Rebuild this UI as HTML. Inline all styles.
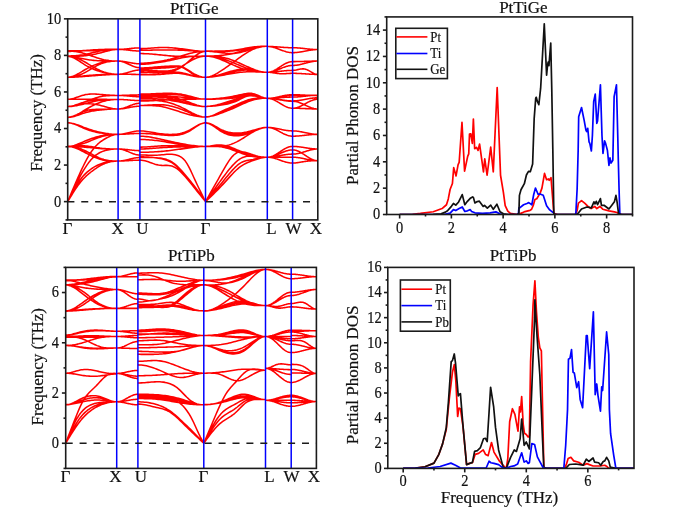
<!DOCTYPE html>
<html><head><meta charset="utf-8"><style>
html,body{margin:0;padding:0;background:#fff;width:685px;height:508px;overflow:hidden;font-family:"Liberation Serif",serif;}
svg{display:block;will-change:transform}
</style></head><body>
<svg width="685" height="508" viewBox="0 0 685 508">
<rect width="685" height="508" fill="#fff"/>
<path d="M67.70,51.02 68.99,51.02 70.28,51.01 71.58,51.00 72.87,50.98 74.16,50.96 75.45,50.93 76.75,50.90 78.04,50.87 79.33,50.84 80.62,50.80 81.92,50.75 83.21,50.71 84.50,50.66 85.79,50.61 87.08,50.55 88.38,50.50 89.67,50.44 90.96,50.38 92.25,50.32 93.55,50.26 94.84,50.19 96.13,50.13 97.42,50.06 98.72,49.99 100.01,49.93 101.30,49.87 102.59,49.81 103.88,49.75 105.18,49.69 106.47,49.64 107.76,49.59 109.05,49.54 110.35,49.50 111.64,49.46 112.93,49.43 114.22,49.41 115.52,49.39 116.81,49.38 118.10,49.37 M67.70,51.38 68.99,51.38 70.28,51.36 71.58,51.32 72.87,51.28 74.16,51.22 75.45,51.16 76.75,51.09 78.04,51.01 79.33,50.93 80.62,50.84 81.92,50.74 83.21,50.64 84.50,50.54 85.79,50.44 87.08,50.34 88.38,50.24 89.67,50.15 90.96,50.05 92.25,49.96 93.55,49.88 94.84,49.80 96.13,49.73 97.42,49.66 98.72,49.60 100.01,49.54 101.30,49.49 102.59,49.44 103.88,49.40 105.18,49.36 106.47,49.33 107.76,49.30 109.05,49.27 110.35,49.25 111.64,49.23 112.93,49.21 114.22,49.20 115.52,49.20 116.81,49.19 118.10,49.19 M67.70,50.84 68.99,50.84 70.28,50.84 71.58,50.84 72.87,50.85 74.16,50.85 75.45,50.86 76.75,50.86 78.04,50.86 79.33,50.86 80.62,50.86 81.92,50.86 83.21,50.85 84.50,50.84 85.79,50.83 87.08,50.81 88.38,50.78 89.67,50.75 90.96,50.72 92.25,50.68 93.55,50.63 94.84,50.57 96.13,50.51 97.42,50.44 98.72,50.37 100.01,50.30 101.30,50.23 102.59,50.15 103.88,50.08 105.18,50.00 106.47,49.93 107.76,49.86 109.05,49.80 110.35,49.74 111.64,49.69 112.93,49.64 114.22,49.61 115.52,49.58 116.81,49.56 118.10,49.56 M67.70,56.32 68.99,56.32 70.28,56.32 71.58,56.31 72.87,56.30 74.16,56.29 75.45,56.26 76.75,56.23 78.04,56.19 79.33,56.14 80.62,56.07 81.92,55.99 83.21,55.89 84.50,55.77 85.79,55.63 87.08,55.48 88.38,55.31 89.67,55.11 90.96,54.90 92.25,54.68 93.55,54.44 94.84,54.18 96.13,53.90 97.42,53.61 98.72,53.31 100.01,52.99 101.30,52.66 102.59,52.32 103.88,51.97 105.18,51.62 106.47,51.27 107.76,50.94 109.05,50.62 110.35,50.33 111.64,50.06 112.93,49.83 114.22,49.64 115.52,49.49 116.81,49.40 118.10,49.37 M67.70,55.95 68.99,55.95 70.28,55.92 71.58,55.88 72.87,55.82 74.16,55.75 75.45,55.66 76.75,55.55 78.04,55.42 79.33,55.27 80.62,55.11 81.92,54.92 83.21,54.72 84.50,54.49 85.79,54.24 87.08,53.98 88.38,53.70 89.67,53.41 90.96,53.12 92.25,52.81 93.55,52.51 94.84,52.21 96.13,51.91 97.42,51.62 98.72,51.34 100.01,51.08 101.30,50.84 102.59,50.61 103.88,50.40 105.18,50.22 106.47,50.05 107.76,49.91 109.05,49.78 110.35,49.67 111.64,49.58 112.93,49.50 114.22,49.44 115.52,49.40 116.81,49.38 118.10,49.37 M67.70,56.32 68.99,56.40 70.28,56.63 71.58,57.00 72.87,57.49 74.16,58.08 75.45,58.75 76.75,59.50 78.04,60.30 79.33,61.14 80.62,62.00 81.92,62.86 83.21,63.72 84.50,64.54 85.79,65.33 87.08,66.07 88.38,66.77 89.67,67.44 90.96,68.06 92.25,68.65 93.55,69.20 94.84,69.72 96.13,70.21 97.42,70.66 98.72,71.09 100.01,71.48 101.30,71.85 102.59,72.20 103.88,72.52 105.18,72.81 106.47,73.08 107.76,73.31 109.05,73.53 110.35,73.71 111.64,73.87 112.93,74.00 114.22,74.10 115.52,74.17 116.81,74.22 118.10,74.23 M67.70,55.95 68.99,56.00 70.28,56.14 71.58,56.35 72.87,56.65 74.16,57.02 75.45,57.45 76.75,57.94 78.04,58.49 79.33,59.08 80.62,59.71 81.92,60.38 83.21,61.08 84.50,61.80 85.79,62.54 87.08,63.29 88.38,64.05 89.67,64.81 90.96,65.57 92.25,66.32 93.55,67.06 94.84,67.78 96.13,68.48 97.42,69.15 98.72,69.78 100.01,70.38 101.30,70.94 102.59,71.45 103.88,71.91 105.18,72.33 106.47,72.71 107.76,73.04 109.05,73.33 110.35,73.57 111.64,73.78 112.93,73.94 114.22,74.07 115.52,74.16 116.81,74.21 118.10,74.23 M67.70,56.32 68.99,56.35 70.28,56.43 71.58,56.56 72.87,56.72 74.16,56.93 75.45,57.16 76.75,57.41 78.04,57.68 79.33,57.96 80.62,58.25 81.92,58.53 83.21,58.80 84.50,59.06 85.79,59.30 87.08,59.52 88.38,59.72 89.67,59.91 90.96,60.07 92.25,60.22 93.55,60.36 94.84,60.48 96.13,60.59 97.42,60.68 98.72,60.76 100.01,60.83 101.30,60.89 102.59,60.94 103.88,60.98 105.18,61.01 106.47,61.03 107.76,61.05 109.05,61.06 110.35,61.07 111.64,61.07 112.93,61.07 114.22,61.07 115.52,61.07 116.81,61.07 118.10,61.07 M67.70,77.15 68.99,77.09 70.28,76.90 71.58,76.59 72.87,76.18 74.16,75.69 75.45,75.12 76.75,74.49 78.04,73.80 79.33,73.07 80.62,72.32 81.92,71.56 83.21,70.79 84.50,70.03 85.79,69.29 87.08,68.57 88.38,67.88 89.67,67.22 90.96,66.58 92.25,65.98 93.55,65.40 94.84,64.86 96.13,64.36 97.42,63.89 98.72,63.46 100.01,63.07 101.30,62.72 102.59,62.41 103.88,62.14 105.18,61.91 106.47,61.71 107.76,61.55 109.05,61.42 110.35,61.31 111.64,61.22 112.93,61.16 114.22,61.12 115.52,61.09 116.81,61.07 118.10,61.07 M67.70,77.34 68.99,77.31 70.28,77.22 71.58,77.07 72.87,76.87 74.16,76.61 75.45,76.31 76.75,75.94 78.04,75.53 79.33,75.07 80.62,74.56 81.92,74.01 83.21,73.41 84.50,72.77 85.79,72.08 87.08,71.37 88.38,70.63 89.67,69.87 90.96,69.10 92.25,68.33 93.55,67.57 94.84,66.82 96.13,66.10 97.42,65.41 98.72,64.77 100.01,64.17 101.30,63.63 102.59,63.15 103.88,62.74 105.18,62.38 106.47,62.08 107.76,61.82 109.05,61.61 110.35,61.44 111.64,61.31 112.93,61.21 114.22,61.15 115.52,61.10 116.81,61.08 118.10,61.07 M67.70,77.15 68.99,77.14 70.28,77.11 71.58,77.05 72.87,76.98 74.16,76.89 75.45,76.79 76.75,76.67 78.04,76.55 79.33,76.42 80.62,76.28 81.92,76.15 83.21,76.01 84.50,75.88 85.79,75.75 87.08,75.62 88.38,75.50 89.67,75.39 90.96,75.28 92.25,75.17 93.55,75.07 94.84,74.98 96.13,74.89 97.42,74.81 98.72,74.73 100.01,74.66 101.30,74.60 102.59,74.54 103.88,74.48 105.18,74.44 106.47,74.39 107.76,74.36 109.05,74.33 110.35,74.30 111.64,74.28 112.93,74.26 114.22,74.25 115.52,74.24 116.81,74.23 118.10,74.23 M67.70,77.34 68.99,77.33 70.28,77.31 71.58,77.27 72.87,77.22 74.16,77.16 75.45,77.09 76.75,77.01 78.04,76.92 79.33,76.83 80.62,76.73 81.92,76.63 83.21,76.53 84.50,76.42 85.79,76.32 87.08,76.22 88.38,76.11 89.67,76.01 90.96,75.91 92.25,75.81 93.55,75.71 94.84,75.61 96.13,75.52 97.42,75.42 98.72,75.33 100.01,75.23 101.30,75.14 102.59,75.06 103.88,74.97 105.18,74.89 106.47,74.81 107.76,74.73 109.05,74.66 110.35,74.60 111.64,74.55 112.93,74.50 114.22,74.46 115.52,74.44 116.81,74.42 118.10,74.41 M67.70,51.02 68.99,51.03 70.28,51.08 71.58,51.16 72.87,51.27 74.16,51.41 75.45,51.58 76.75,51.78 78.04,52.01 79.33,52.27 80.62,52.56 81.92,52.87 83.21,53.21 84.50,53.58 85.79,53.97 87.08,54.38 88.38,54.81 89.67,55.25 90.96,55.71 92.25,56.16 93.55,56.61 94.84,57.06 96.13,57.50 97.42,57.92 98.72,58.33 100.01,58.71 101.30,59.06 102.59,59.38 103.88,59.67 105.18,59.93 106.47,60.16 107.76,60.36 109.05,60.54 110.35,60.68 111.64,60.81 112.93,60.90 114.22,60.98 115.52,61.03 116.81,61.06 118.10,61.07 M67.70,99.27 68.99,99.22 70.28,99.07 71.58,98.84 72.87,98.54 74.16,98.18 75.45,97.78 76.75,97.35 78.04,96.90 79.33,96.45 80.62,96.01 81.92,95.59 83.21,95.21 84.50,94.88 85.79,94.61 87.08,94.40 88.38,94.24 89.67,94.13 90.96,94.07 92.25,94.04 93.55,94.05 94.84,94.08 96.13,94.14 97.42,94.22 98.72,94.31 100.01,94.41 101.30,94.52 102.59,94.62 103.88,94.73 105.18,94.83 106.47,94.93 107.76,95.02 109.05,95.11 110.35,95.19 111.64,95.26 112.93,95.32 114.22,95.37 115.52,95.40 116.81,95.42 118.10,95.43 M67.70,99.27 68.99,99.27 70.28,99.27 71.58,99.27 72.87,99.27 74.16,99.26 75.45,99.26 76.75,99.26 78.04,99.26 79.33,99.25 80.62,99.25 81.92,99.25 83.21,99.25 84.50,99.25 85.79,99.25 87.08,99.25 88.38,99.25 89.67,99.26 90.96,99.26 92.25,99.27 93.55,99.27 94.84,99.28 96.13,99.29 97.42,99.30 98.72,99.31 100.01,99.33 101.30,99.34 102.59,99.35 103.88,99.36 105.18,99.38 106.47,99.39 107.76,99.40 109.05,99.41 110.35,99.42 111.64,99.43 112.93,99.44 114.22,99.44 115.52,99.45 116.81,99.45 118.10,99.45 M67.70,106.58 68.99,106.54 70.28,106.42 71.58,106.24 72.87,105.99 74.16,105.69 75.45,105.33 76.75,104.93 78.04,104.50 79.33,104.04 80.62,103.55 81.92,103.04 83.21,102.53 84.50,102.01 85.79,101.50 87.08,100.99 88.38,100.49 89.67,100.00 90.96,99.52 92.25,99.06 93.55,98.62 94.84,98.20 96.13,97.81 97.42,97.44 98.72,97.10 100.01,96.80 101.30,96.53 102.59,96.30 103.88,96.10 105.18,95.94 106.47,95.80 107.76,95.69 109.05,95.61 110.35,95.54 111.64,95.50 112.93,95.47 114.22,95.45 115.52,95.44 116.81,95.43 118.10,95.43 M67.70,106.58 68.99,106.56 70.28,106.49 71.58,106.38 72.87,106.24 74.16,106.06 75.45,105.85 76.75,105.62 78.04,105.36 79.33,105.08 80.62,104.79 81.92,104.48 83.21,104.16 84.50,103.84 85.79,103.51 87.08,103.18 88.38,102.86 89.67,102.53 90.96,102.22 92.25,101.91 93.55,101.61 94.84,101.33 96.13,101.06 97.42,100.81 98.72,100.58 100.01,100.37 101.30,100.18 102.59,100.03 103.88,99.89 105.18,99.78 106.47,99.69 107.76,99.62 109.05,99.56 110.35,99.52 111.64,99.49 112.93,99.47 114.22,99.46 115.52,99.45 116.81,99.45 118.10,99.45 M67.70,106.40 68.99,106.35 70.28,106.22 71.58,106.01 72.87,105.73 74.16,105.40 75.45,105.02 76.75,104.61 78.04,104.17 79.33,103.72 80.62,103.27 81.92,102.83 83.21,102.41 84.50,102.01 85.79,101.65 87.08,101.33 88.38,101.05 89.67,100.80 90.96,100.58 92.25,100.38 93.55,100.22 94.84,100.07 96.13,99.95 97.42,99.85 98.72,99.77 100.01,99.69 101.30,99.64 102.59,99.59 103.88,99.55 105.18,99.52 106.47,99.49 107.76,99.47 109.05,99.46 110.35,99.45 111.64,99.45 112.93,99.45 114.22,99.45 115.52,99.45 116.81,99.45 118.10,99.45 M67.70,106.58 68.99,106.54 70.28,106.44 71.58,106.28 72.87,106.08 74.16,105.84 75.45,105.57 76.75,105.29 78.04,105.00 79.33,104.72 80.62,104.45 81.92,104.21 83.21,104.00 84.50,103.84 85.79,103.73 87.08,103.68 88.38,103.67 89.67,103.71 90.96,103.80 92.25,103.92 93.55,104.08 94.84,104.28 96.13,104.51 97.42,104.76 98.72,105.04 100.01,105.35 101.30,105.67 102.59,106.00 103.88,106.35 105.18,106.70 106.47,107.04 107.76,107.38 109.05,107.69 110.35,107.99 111.64,108.26 112.93,108.49 114.22,108.69 115.52,108.83 116.81,108.92 118.10,108.96 M67.70,117.36 68.99,117.32 70.28,117.19 71.58,116.98 72.87,116.71 74.16,116.39 75.45,116.02 76.75,115.61 78.04,115.18 79.33,114.73 80.62,114.28 81.92,113.83 83.21,113.39 84.50,112.98 85.79,112.59 87.08,112.24 88.38,111.92 89.67,111.62 90.96,111.35 92.25,111.11 93.55,110.88 94.84,110.67 96.13,110.49 97.42,110.31 98.72,110.15 100.01,110.01 101.30,109.87 102.59,109.74 103.88,109.62 105.18,109.51 106.47,109.41 107.76,109.32 109.05,109.24 110.35,109.16 111.64,109.10 112.93,109.05 114.22,109.01 115.52,108.98 116.81,108.96 118.10,108.96 M67.70,117.18 68.99,117.11 70.28,116.91 71.58,116.61 72.87,116.20 74.16,115.72 75.45,115.18 76.75,114.60 78.04,113.99 79.33,113.37 80.62,112.76 81.92,112.18 83.21,111.64 84.50,111.15 85.79,110.74 87.08,110.39 88.38,110.11 89.67,109.89 90.96,109.71 92.25,109.58 93.55,109.48 94.84,109.42 96.13,109.38 97.42,109.35 98.72,109.34 100.01,109.33 101.30,109.32 102.59,109.30 103.88,109.28 105.18,109.25 106.47,109.21 107.76,109.18 109.05,109.14 110.35,109.10 111.64,109.06 112.93,109.03 114.22,109.00 115.52,108.98 116.81,108.96 118.10,108.96 M67.70,117.36 68.99,117.30 70.28,117.11 71.58,116.82 72.87,116.42 74.16,115.93 75.45,115.37 76.75,114.75 78.04,114.06 79.33,113.34 80.62,112.58 81.92,111.81 83.21,111.02 84.50,110.24 85.79,109.46 87.08,108.71 88.38,107.97 89.67,107.25 90.96,106.55 92.25,105.88 93.55,105.23 94.84,104.61 96.13,104.02 97.42,103.47 98.72,102.94 100.01,102.46 101.30,102.01 102.59,101.60 103.88,101.24 105.18,100.91 106.47,100.61 107.76,100.36 109.05,100.14 110.35,99.95 111.64,99.79 112.93,99.67 114.22,99.57 115.52,99.50 116.81,99.47 118.10,99.45 M67.70,122.85 68.99,122.90 70.28,123.07 71.58,123.33 72.87,123.67 74.16,124.08 75.45,124.55 76.75,125.07 78.04,125.62 79.33,126.20 80.62,126.79 81.92,127.38 83.21,127.96 84.50,128.51 85.79,129.04 87.08,129.53 88.38,129.98 89.67,130.41 90.96,130.80 92.25,131.17 93.55,131.51 94.84,131.83 96.13,132.12 97.42,132.39 98.72,132.64 100.01,132.87 101.30,133.08 102.59,133.28 103.88,133.45 105.18,133.62 106.47,133.76 107.76,133.89 109.05,134.00 110.35,134.10 111.64,134.18 112.93,134.25 114.22,134.30 115.52,134.33 116.81,134.36 118.10,134.36 M67.70,122.85 68.99,122.89 70.28,123.02 71.58,123.23 72.87,123.50 74.16,123.83 75.45,124.22 76.75,124.64 78.04,125.10 79.33,125.58 80.62,126.08 81.92,126.59 83.21,127.10 84.50,127.60 85.79,128.08 87.08,128.55 88.38,129.00 89.67,129.43 90.96,129.84 92.25,130.24 93.55,130.62 94.84,130.98 96.13,131.33 97.42,131.66 98.72,131.97 100.01,132.26 101.30,132.53 102.59,132.79 103.88,133.03 105.18,133.26 106.47,133.46 107.76,133.64 109.05,133.81 110.35,133.95 111.64,134.08 112.93,134.18 114.22,134.26 115.52,134.32 116.81,134.35 118.10,134.36 M67.70,146.43 68.99,146.38 70.28,146.24 71.58,146.02 72.87,145.73 74.16,145.38 75.45,144.97 76.75,144.52 78.04,144.03 79.33,143.51 80.62,142.97 81.92,142.41 83.21,141.86 84.50,141.31 85.79,140.77 87.08,140.25 88.38,139.74 89.67,139.25 90.96,138.78 92.25,138.33 93.55,137.90 94.84,137.49 96.13,137.10 97.42,136.74 98.72,136.41 100.01,136.10 101.30,135.82 102.59,135.57 103.88,135.35 105.18,135.16 106.47,134.99 107.76,134.84 109.05,134.72 110.35,134.62 111.64,134.53 112.93,134.47 114.22,134.42 115.52,134.39 116.81,134.37 118.10,134.36 M67.70,146.24 68.99,146.22 70.28,146.16 71.58,146.06 72.87,145.92 74.16,145.75 75.45,145.54 76.75,145.29 78.04,145.01 79.33,144.70 80.62,144.35 81.92,143.98 83.21,143.57 84.50,143.14 85.79,142.67 87.08,142.19 88.38,141.68 89.67,141.16 90.96,140.64 92.25,140.11 93.55,139.58 94.84,139.06 96.13,138.55 97.42,138.06 98.72,137.59 100.01,137.15 101.30,136.74 102.59,136.36 103.88,136.02 105.18,135.72 106.47,135.45 107.76,135.21 109.05,135.00 110.35,134.83 111.64,134.68 112.93,134.56 114.22,134.47 115.52,134.41 116.81,134.37 118.10,134.36 M67.70,146.43 68.99,146.41 70.28,146.37 71.58,146.32 72.87,146.25 74.16,146.17 75.45,146.09 76.75,146.01 78.04,145.94 79.33,145.88 80.62,145.84 81.92,145.82 83.21,145.83 84.50,145.88 85.79,145.96 87.08,146.08 88.38,146.23 89.67,146.40 90.96,146.59 92.25,146.80 93.55,147.01 94.84,147.24 96.13,147.46 97.42,147.68 98.72,147.88 100.01,148.08 101.30,148.25 102.59,148.40 103.88,148.53 105.18,148.64 106.47,148.73 107.76,148.80 109.05,148.86 110.35,148.90 111.64,148.94 112.93,148.96 114.22,148.97 115.52,148.98 116.81,148.98 118.10,148.98 M67.70,146.61 68.99,146.61 70.28,146.62 71.58,146.63 72.87,146.65 74.16,146.68 75.45,146.71 76.75,146.75 78.04,146.79 79.33,146.85 80.62,146.91 81.92,146.98 83.21,147.07 84.50,147.16 85.79,147.26 87.08,147.37 88.38,147.48 89.67,147.60 90.96,147.72 92.25,147.85 93.55,147.97 94.84,148.09 96.13,148.21 97.42,148.33 98.72,148.43 100.01,148.53 101.30,148.62 102.59,148.69 103.88,148.76 105.18,148.81 106.47,148.86 107.76,148.89 109.05,148.92 110.35,148.94 111.64,148.96 112.93,148.97 114.22,148.98 115.52,148.98 116.81,148.98 118.10,148.98 M67.70,146.43 68.99,146.45 70.28,146.53 71.58,146.65 72.87,146.83 74.16,147.05 75.45,147.32 76.75,147.64 78.04,148.00 79.33,148.41 80.62,148.85 81.92,149.34 83.21,149.88 84.50,150.45 85.79,151.06 87.08,151.70 88.38,152.36 89.67,153.04 90.96,153.73 92.25,154.42 93.55,155.11 94.84,155.78 96.13,156.43 97.42,157.05 98.72,157.64 100.01,158.18 101.30,158.67 102.59,159.11 103.88,159.49 105.18,159.82 106.47,160.10 107.76,160.33 109.05,160.53 110.35,160.69 111.64,160.81 112.93,160.91 114.22,160.97 115.52,161.02 116.81,161.04 118.10,161.05 M67.70,146.43 68.99,146.48 70.28,146.62 71.58,146.86 72.87,147.17 74.16,147.56 75.45,148.01 76.75,148.51 78.04,149.07 79.33,149.66 80.62,150.29 81.92,150.94 83.21,151.60 84.50,152.27 85.79,152.95 87.08,153.62 88.38,154.28 89.67,154.93 90.96,155.57 92.25,156.18 93.55,156.77 94.84,157.33 96.13,157.86 97.42,158.36 98.72,158.81 100.01,159.22 101.30,159.59 102.59,159.90 103.88,160.16 105.18,160.38 106.47,160.56 107.76,160.71 109.05,160.82 110.35,160.90 111.64,160.96 112.93,161.00 114.22,161.03 115.52,161.04 116.81,161.05 118.10,161.05 M67.70,201.62 68.99,198.53 70.28,195.44 71.58,192.36 72.87,189.30 74.16,186.27 75.45,183.26 76.75,180.30 78.04,177.37 79.33,174.50 80.62,171.68 81.92,168.92 83.21,166.24 84.50,163.65 85.79,161.14 87.08,158.74 88.38,156.46 89.67,154.30 90.96,152.28 92.25,150.41 93.55,148.69 94.84,147.14 96.13,145.72 97.42,144.43 98.72,143.27 100.01,142.21 101.30,141.24 102.59,140.35 103.88,139.52 105.18,138.75 106.47,138.02 107.76,137.34 109.05,136.71 110.35,136.13 111.64,135.62 112.93,135.19 114.22,134.84 115.52,134.58 116.81,134.42 118.10,134.36 M67.70,201.62 68.99,199.14 70.28,196.67 71.58,194.23 72.87,191.84 74.16,189.50 75.45,187.24 76.75,185.07 78.04,183.01 79.33,181.06 80.62,179.25 81.92,177.58 83.21,176.04 84.50,174.63 85.79,173.33 87.08,172.14 88.38,171.04 89.67,170.03 90.96,169.09 92.25,168.22 93.55,167.41 94.84,166.65 96.13,165.94 97.42,165.28 98.72,164.68 100.01,164.12 101.30,163.62 102.59,163.17 103.88,162.76 105.18,162.41 106.47,162.10 107.76,161.84 109.05,161.63 110.35,161.45 111.64,161.32 112.93,161.21 114.22,161.13 115.52,161.08 116.81,161.06 118.10,161.05 M67.70,201.62 68.99,199.48 70.28,197.35 71.58,195.24 72.87,193.17 74.16,191.13 75.45,189.16 76.75,187.25 78.04,185.42 79.33,183.67 80.62,182.03 81.92,180.49 83.21,179.05 84.50,177.70 85.79,176.43 87.08,175.24 88.38,174.11 89.67,173.03 90.96,172.01 92.25,171.03 93.55,170.08 94.84,169.16 96.13,168.28 97.42,167.44 98.72,166.63 100.01,165.87 101.30,165.16 102.59,164.51 103.88,163.91 105.18,163.37 106.47,162.89 107.76,162.47 109.05,162.12 110.35,161.82 111.64,161.57 112.93,161.37 114.22,161.23 115.52,161.13 116.81,161.07 118.10,161.05 M67.70,201.62 68.99,198.87 70.28,196.12 71.58,193.39 72.87,190.69 74.16,188.02 75.45,185.39 76.75,182.81 78.04,180.29 79.33,177.83 80.62,175.45 81.92,173.15 83.21,170.93 84.50,168.81 85.79,166.80 87.08,164.88 88.38,163.08 89.67,161.40 90.96,159.85 92.25,158.42 93.55,157.13 94.84,155.98 96.13,154.95 97.42,154.04 98.72,153.23 100.01,152.53 101.30,151.92 102.59,151.39 103.88,150.93 105.18,150.54 106.47,150.20 107.76,149.91 109.05,149.66 110.35,149.46 111.64,149.30 112.93,149.18 114.22,149.09 115.52,149.03 116.81,148.99 118.10,148.98 M118.10,49.37 118.66,49.37 119.22,49.36 119.78,49.35 120.34,49.34 120.89,49.31 121.45,49.29 122.01,49.26 122.57,49.23 123.13,49.19 123.69,49.15 124.25,49.10 124.81,49.06 125.37,49.01 125.93,48.96 126.48,48.90 127.04,48.85 127.60,48.79 128.16,48.73 128.72,48.67 129.28,48.61 129.84,48.55 130.40,48.50 130.96,48.44 131.52,48.38 132.07,48.33 132.63,48.28 133.19,48.23 133.75,48.18 134.31,48.14 134.87,48.09 135.43,48.06 135.99,48.02 136.55,47.99 137.11,47.97 137.66,47.95 138.22,47.93 138.78,47.92 139.34,47.91 139.90,47.91 M118.10,49.37 118.66,49.38 119.22,49.38 119.78,49.40 120.34,49.42 120.89,49.44 121.45,49.47 122.01,49.50 122.57,49.54 123.13,49.58 123.69,49.63 124.25,49.68 124.81,49.73 125.37,49.78 125.93,49.84 126.48,49.90 127.04,49.97 127.60,50.03 128.16,50.10 128.72,50.16 129.28,50.23 129.84,50.29 130.40,50.36 130.96,50.42 131.52,50.49 132.07,50.55 132.63,50.61 133.19,50.66 133.75,50.72 134.31,50.77 134.87,50.81 135.43,50.85 135.99,50.89 136.55,50.92 137.11,50.95 137.66,50.98 138.22,50.99 138.78,51.01 139.34,51.02 139.90,51.02 M118.10,61.07 118.66,61.07 119.22,61.09 119.78,61.11 120.34,61.14 120.89,61.18 121.45,61.23 122.01,61.28 122.57,61.35 123.13,61.42 123.69,61.49 124.25,61.57 124.81,61.66 125.37,61.76 125.93,61.85 126.48,61.96 127.04,62.06 127.60,62.17 128.16,62.28 128.72,62.39 129.28,62.50 129.84,62.61 130.40,62.72 130.96,62.82 131.52,62.93 132.07,63.03 132.63,63.13 133.19,63.22 133.75,63.31 134.31,63.39 134.87,63.47 135.43,63.54 135.99,63.60 136.55,63.66 137.11,63.70 137.66,63.74 138.22,63.77 138.78,63.79 139.34,63.81 139.90,63.81 M118.10,61.07 118.66,61.08 119.22,61.11 119.78,61.17 120.34,61.24 120.89,61.33 121.45,61.45 122.01,61.58 122.57,61.73 123.13,61.90 123.69,62.08 124.25,62.28 124.81,62.49 125.37,62.72 125.93,62.95 126.48,63.19 127.04,63.45 127.60,63.70 128.16,63.96 128.72,64.23 129.28,64.49 129.84,64.76 130.40,65.02 130.96,65.28 131.52,65.53 132.07,65.77 132.63,66.01 133.19,66.23 133.75,66.44 134.31,66.64 134.87,66.82 135.43,66.99 135.99,67.14 136.55,67.27 137.11,67.39 137.66,67.48 138.22,67.55 138.78,67.61 139.34,67.64 139.90,67.65 M118.10,74.23 118.66,74.22 119.22,74.20 119.78,74.17 120.34,74.12 120.89,74.06 121.45,73.99 122.01,73.90 122.57,73.81 123.13,73.70 123.69,73.58 124.25,73.46 124.81,73.32 125.37,73.18 125.93,73.03 126.48,72.87 127.04,72.71 127.60,72.55 128.16,72.38 128.72,72.21 129.28,72.04 129.84,71.87 130.40,71.71 130.96,71.54 131.52,71.38 132.07,71.23 132.63,71.08 133.19,70.93 133.75,70.80 134.31,70.67 134.87,70.55 135.43,70.45 135.99,70.35 136.55,70.27 137.11,70.19 137.66,70.13 138.22,70.09 138.78,70.05 139.34,70.03 139.90,70.03 M118.10,74.23 118.66,74.23 119.22,74.23 119.78,74.23 120.34,74.23 120.89,74.24 121.45,74.24 122.01,74.24 122.57,74.25 123.13,74.25 123.69,74.26 124.25,74.26 124.81,74.27 125.37,74.28 125.93,74.28 126.48,74.29 127.04,74.30 127.60,74.30 128.16,74.31 128.72,74.32 129.28,74.33 129.84,74.33 130.40,74.34 130.96,74.35 131.52,74.35 132.07,74.36 132.63,74.37 133.19,74.37 133.75,74.38 134.31,74.38 134.87,74.39 135.43,74.39 135.99,74.40 136.55,74.40 137.11,74.41 137.66,74.41 138.22,74.41 138.78,74.41 139.34,74.41 139.90,74.41 M118.10,95.43 118.66,95.43 119.22,95.43 119.78,95.42 120.34,95.42 120.89,95.41 121.45,95.40 122.01,95.39 122.57,95.38 123.13,95.36 123.69,95.35 124.25,95.33 124.81,95.31 125.37,95.29 125.93,95.28 126.48,95.25 127.04,95.23 127.60,95.21 128.16,95.19 128.72,95.17 129.28,95.15 129.84,95.12 130.40,95.10 130.96,95.08 131.52,95.06 132.07,95.04 132.63,95.02 133.19,95.00 133.75,94.98 134.31,94.97 134.87,94.95 135.43,94.94 135.99,94.93 136.55,94.91 137.11,94.91 137.66,94.90 138.22,94.89 138.78,94.89 139.34,94.88 139.90,94.88 M118.10,95.43 118.66,95.43 119.22,95.44 119.78,95.45 120.34,95.46 120.89,95.48 121.45,95.51 122.01,95.53 122.57,95.56 123.13,95.59 123.69,95.63 124.25,95.67 124.81,95.71 125.37,95.75 125.93,95.80 126.48,95.84 127.04,95.89 127.60,95.94 128.16,95.99 128.72,96.05 129.28,96.10 129.84,96.15 130.40,96.20 130.96,96.25 131.52,96.30 132.07,96.35 132.63,96.39 133.19,96.43 133.75,96.48 134.31,96.51 134.87,96.55 135.43,96.58 135.99,96.61 136.55,96.64 137.11,96.66 137.66,96.68 138.22,96.69 138.78,96.70 139.34,96.71 139.90,96.71 M118.10,99.45 118.66,99.45 119.22,99.46 119.78,99.47 120.34,99.48 120.89,99.50 121.45,99.52 122.01,99.54 122.57,99.56 123.13,99.59 123.69,99.62 124.25,99.65 124.81,99.69 125.37,99.73 125.93,99.77 126.48,99.81 127.04,99.85 127.60,99.89 128.16,99.93 128.72,99.98 129.28,100.02 129.84,100.07 130.40,100.11 130.96,100.15 131.52,100.20 132.07,100.24 132.63,100.28 133.19,100.31 133.75,100.35 134.31,100.38 134.87,100.41 135.43,100.44 135.99,100.46 136.55,100.49 137.11,100.51 137.66,100.52 138.22,100.53 138.78,100.54 139.34,100.55 139.90,100.55 M118.10,108.96 118.66,108.95 119.22,108.92 119.78,108.87 120.34,108.81 120.89,108.73 121.45,108.63 122.01,108.52 122.57,108.39 123.13,108.24 123.69,108.09 124.25,107.92 124.81,107.73 125.37,107.54 125.93,107.34 126.48,107.13 127.04,106.91 127.60,106.69 128.16,106.47 128.72,106.24 129.28,106.01 129.84,105.78 130.40,105.56 130.96,105.34 131.52,105.12 132.07,104.91 132.63,104.71 133.19,104.51 133.75,104.33 134.31,104.16 134.87,104.00 135.43,103.86 135.99,103.73 136.55,103.62 137.11,103.52 137.66,103.44 138.22,103.37 138.78,103.33 139.34,103.30 139.90,103.29 M118.10,108.96 118.66,108.95 119.22,108.94 119.78,108.92 120.34,108.89 120.89,108.85 121.45,108.80 122.01,108.74 122.57,108.68 123.13,108.61 123.69,108.54 124.25,108.45 124.81,108.36 125.37,108.27 125.93,108.17 126.48,108.07 127.04,107.97 127.60,107.86 128.16,107.75 128.72,107.64 129.28,107.53 129.84,107.42 130.40,107.31 130.96,107.20 131.52,107.10 132.07,107.00 132.63,106.90 133.19,106.81 133.75,106.72 134.31,106.64 134.87,106.56 135.43,106.49 135.99,106.43 136.55,106.37 137.11,106.33 137.66,106.29 138.22,106.26 138.78,106.23 139.34,106.22 139.90,106.22 M118.10,134.36 118.66,134.36 119.22,134.34 119.78,134.31 120.34,134.27 120.89,134.22 121.45,134.16 122.01,134.09 122.57,134.01 123.13,133.93 123.69,133.83 124.25,133.72 124.81,133.61 125.37,133.49 125.93,133.37 126.48,133.24 127.04,133.11 127.60,132.97 128.16,132.84 128.72,132.70 129.28,132.56 129.84,132.42 130.40,132.28 130.96,132.14 131.52,132.01 132.07,131.88 132.63,131.76 133.19,131.64 133.75,131.53 134.31,131.42 134.87,131.33 135.43,131.24 135.99,131.16 136.55,131.09 137.11,131.03 137.66,130.98 138.22,130.94 138.78,130.91 139.34,130.90 139.90,130.89 M118.10,134.36 118.66,134.36 119.22,134.36 119.78,134.35 120.34,134.34 120.89,134.33 121.45,134.31 122.01,134.29 122.57,134.27 123.13,134.25 123.69,134.22 124.25,134.19 124.81,134.16 125.37,134.13 125.93,134.10 126.48,134.07 127.04,134.03 127.60,134.00 128.16,133.96 128.72,133.92 129.28,133.89 129.84,133.85 130.40,133.81 130.96,133.78 131.52,133.74 132.07,133.71 132.63,133.68 133.19,133.65 133.75,133.62 134.31,133.59 134.87,133.56 135.43,133.54 135.99,133.52 136.55,133.50 137.11,133.49 137.66,133.47 138.22,133.46 138.78,133.45 139.34,133.45 139.90,133.45 M118.10,148.98 118.66,148.99 119.22,148.99 119.78,149.01 120.34,149.03 120.89,149.05 121.45,149.08 122.01,149.11 122.57,149.15 123.13,149.19 123.69,149.24 124.25,149.29 124.81,149.34 125.37,149.40 125.93,149.45 126.48,149.52 127.04,149.58 127.60,149.64 128.16,149.71 128.72,149.77 129.28,149.84 129.84,149.91 130.40,149.97 130.96,150.04 131.52,150.10 132.07,150.16 132.63,150.22 133.19,150.27 133.75,150.33 134.31,150.38 134.87,150.42 135.43,150.46 135.99,150.50 136.55,150.53 137.11,150.56 137.66,150.59 138.22,150.61 138.78,150.62 139.34,150.63 139.90,150.63 M118.10,148.98 118.66,148.99 119.22,149.02 119.78,149.07 120.34,149.14 120.89,149.23 121.45,149.33 122.01,149.45 122.57,149.59 123.13,149.74 123.69,149.91 124.25,150.09 124.81,150.29 125.37,150.49 125.93,150.71 126.48,150.93 127.04,151.16 127.60,151.40 128.16,151.64 128.72,151.88 129.28,152.12 129.84,152.36 130.40,152.60 130.96,152.84 131.52,153.07 132.07,153.29 132.63,153.51 133.19,153.71 133.75,153.91 134.31,154.09 134.87,154.26 135.43,154.41 135.99,154.55 136.55,154.67 137.11,154.77 137.66,154.86 138.22,154.93 138.78,154.98 139.34,155.01 139.90,155.02 M118.10,161.05 118.66,161.04 119.22,161.02 119.78,161.00 120.34,160.96 120.89,160.91 121.45,160.85 122.01,160.78 122.57,160.70 123.13,160.61 123.69,160.51 124.25,160.41 124.81,160.30 125.37,160.18 125.93,160.06 126.48,159.93 127.04,159.79 127.60,159.66 128.16,159.52 128.72,159.38 129.28,159.24 129.84,159.10 130.40,158.96 130.96,158.83 131.52,158.70 132.07,158.57 132.63,158.44 133.19,158.32 133.75,158.21 134.31,158.11 134.87,158.01 135.43,157.92 135.99,157.84 136.55,157.77 137.11,157.71 137.66,157.66 138.22,157.62 138.78,157.60 139.34,157.58 139.90,157.57 M118.10,161.05 118.66,161.05 119.22,161.04 119.78,161.03 120.34,161.02 120.89,161.01 121.45,160.99 122.01,160.98 122.57,160.96 123.13,160.93 123.69,160.91 124.25,160.88 124.81,160.85 125.37,160.82 125.93,160.79 126.48,160.75 127.04,160.72 127.60,160.68 128.16,160.65 128.72,160.61 129.28,160.57 129.84,160.54 130.40,160.50 130.96,160.46 131.52,160.43 132.07,160.39 132.63,160.36 133.19,160.33 133.75,160.30 134.31,160.27 134.87,160.25 135.43,160.22 135.99,160.20 136.55,160.19 137.11,160.17 137.66,160.16 138.22,160.15 138.78,160.14 139.34,160.13 139.90,160.13 M139.90,48.64 141.58,48.62 143.26,48.58 144.95,48.50 146.63,48.41 148.31,48.30 149.99,48.19 151.67,48.06 153.36,47.94 155.04,47.83 156.72,47.72 158.40,47.63 160.08,47.57 161.77,47.53 163.45,47.52 165.13,47.53 166.81,47.57 168.49,47.64 170.18,47.73 171.86,47.84 173.54,47.96 175.22,48.11 176.91,48.28 178.59,48.46 180.27,48.65 181.95,48.86 183.63,49.08 185.32,49.30 187.00,49.54 188.68,49.78 190.36,50.02 192.04,50.25 193.73,50.48 195.41,50.69 197.09,50.88 198.77,51.05 200.45,51.19 202.14,51.29 203.82,51.36 205.50,51.38 M139.90,50.29 141.58,50.28 143.26,50.27 144.95,50.25 146.63,50.22 148.31,50.19 149.99,50.16 151.67,50.12 153.36,50.08 155.04,50.05 156.72,50.01 158.40,49.98 160.08,49.95 161.77,49.93 163.45,49.92 165.13,49.91 166.81,49.91 168.49,49.92 170.18,49.94 171.86,49.96 173.54,49.99 175.22,50.03 176.91,50.08 178.59,50.14 180.27,50.20 181.95,50.27 183.63,50.35 185.32,50.44 187.00,50.54 188.68,50.64 190.36,50.74 192.04,50.85 193.73,50.95 195.41,51.05 197.09,51.14 198.77,51.22 200.45,51.29 202.14,51.34 203.82,51.37 205.50,51.38 M139.90,53.58 141.58,53.59 143.26,53.62 144.95,53.68 146.63,53.76 148.31,53.85 149.99,53.96 151.67,54.08 153.36,54.22 155.04,54.37 156.72,54.53 158.40,54.70 160.08,54.87 161.77,55.05 163.45,55.22 165.13,55.39 166.81,55.56 168.49,55.72 170.18,55.86 171.86,55.99 173.54,56.11 175.22,56.20 176.91,56.27 178.59,56.33 180.27,56.37 181.95,56.39 183.63,56.41 185.32,56.41 187.00,56.40 188.68,56.38 190.36,56.36 192.04,56.33 193.73,56.30 195.41,56.26 197.09,56.23 198.77,56.20 200.45,56.18 202.14,56.15 203.82,56.14 205.50,56.14 M139.90,63.26 141.58,63.24 143.26,63.19 144.95,63.10 146.63,62.98 148.31,62.83 149.99,62.65 151.67,62.45 153.36,62.24 155.04,62.00 156.72,61.76 158.40,61.50 160.08,61.22 161.77,60.94 163.45,60.64 165.13,60.31 166.81,59.97 168.49,59.59 170.18,59.19 171.86,58.75 173.54,58.28 175.22,57.78 176.91,57.27 178.59,56.74 180.27,56.20 181.95,55.67 183.63,55.15 185.32,54.64 187.00,54.16 188.68,53.71 190.36,53.29 192.04,52.91 193.73,52.56 195.41,52.26 197.09,52.00 198.77,51.78 200.45,51.61 202.14,51.49 203.82,51.41 205.50,51.38 M139.90,64.36 141.58,64.34 143.26,64.29 144.95,64.20 146.63,64.08 148.31,63.93 149.99,63.75 151.67,63.56 153.36,63.34 155.04,63.10 156.72,62.85 158.40,62.59 160.08,62.32 161.77,62.03 163.45,61.73 165.13,61.42 166.81,61.10 168.49,60.76 170.18,60.42 171.86,60.05 173.54,59.68 175.22,59.30 176.91,58.92 178.59,58.55 180.27,58.19 181.95,57.84 183.63,57.52 185.32,57.23 187.00,56.97 188.68,56.76 190.36,56.58 192.04,56.44 193.73,56.33 195.41,56.26 197.09,56.20 198.77,56.17 200.45,56.15 202.14,56.14 203.82,56.14 205.50,56.14 M139.90,68.02 141.58,68.00 143.26,67.95 144.95,67.88 146.63,67.78 148.31,67.67 149.99,67.54 151.67,67.40 153.36,67.25 155.04,67.11 156.72,66.96 158.40,66.83 160.08,66.70 161.77,66.59 163.45,66.48 165.13,66.39 166.81,66.30 168.49,66.21 170.18,66.13 171.86,66.05 173.54,65.96 175.22,65.90 176.91,65.91 178.59,66.02 180.27,66.30 181.95,66.79 183.63,67.49 185.32,68.36 187.00,69.34 188.68,70.40 190.36,71.49 192.04,72.56 193.73,73.56 195.41,74.48 197.09,75.29 198.77,75.99 200.45,76.56 202.14,76.98 203.82,77.25 205.50,77.34 M139.90,69.11 141.58,69.10 143.26,69.07 144.95,69.01 146.63,68.94 148.31,68.86 149.99,68.77 151.67,68.67 153.36,68.56 155.04,68.46 156.72,68.36 158.40,68.26 160.08,68.17 161.77,68.09 163.45,68.02 165.13,67.93 166.81,67.84 168.49,67.72 170.18,67.57 171.86,67.39 173.54,67.17 175.22,66.93 176.91,66.76 178.59,66.72 180.27,66.89 181.95,67.33 183.63,68.05 185.32,68.99 187.00,70.07 188.68,71.23 190.36,72.39 192.04,73.48 193.73,74.44 195.41,75.24 197.09,75.91 198.77,76.44 200.45,76.84 202.14,77.12 203.82,77.28 205.50,77.34 M139.90,70.21 141.58,70.22 143.26,70.25 144.95,70.29 146.63,70.35 148.31,70.42 149.99,70.50 151.67,70.58 153.36,70.66 155.04,70.75 156.72,70.82 158.40,70.90 160.08,70.96 161.77,71.00 163.45,71.02 165.13,71.00 166.81,70.92 168.49,70.77 170.18,70.55 171.86,70.23 173.54,69.80 175.22,69.26 176.91,68.62 178.59,67.89 180.27,67.06 181.95,66.15 183.63,65.18 185.32,64.17 187.00,63.13 188.68,62.10 190.36,61.10 192.04,60.15 193.73,59.28 195.41,58.50 197.09,57.81 198.77,57.23 200.45,56.77 202.14,56.42 203.82,56.21 205.50,56.14 M139.90,71.85 141.58,71.86 143.26,71.88 144.95,71.91 146.63,71.95 148.31,72.00 149.99,72.05 151.67,72.09 153.36,72.14 155.04,72.17 156.72,72.20 158.40,72.22 160.08,72.22 161.77,72.20 163.45,72.15 165.13,72.07 166.81,71.93 168.49,71.74 170.18,71.48 171.86,71.14 173.54,70.72 175.22,70.19 176.91,69.55 178.59,68.78 180.27,67.87 181.95,66.81 183.63,65.59 185.32,64.25 187.00,62.83 188.68,61.37 190.36,59.89 192.04,58.43 193.73,57.03 195.41,55.72 197.09,54.52 198.77,53.47 200.45,52.60 202.14,51.95 203.82,51.53 205.50,51.38 M139.90,72.40 141.58,72.41 143.26,72.44 144.95,72.49 146.63,72.54 148.31,72.60 149.99,72.66 151.67,72.73 153.36,72.78 155.04,72.82 156.72,72.85 158.40,72.86 160.08,72.85 161.77,72.81 163.45,72.74 165.13,72.64 166.81,72.52 168.49,72.40 170.18,72.29 171.86,72.20 173.54,72.15 175.22,72.14 176.91,72.20 178.59,72.33 180.27,72.54 181.95,72.84 183.63,73.20 185.32,73.61 187.00,74.06 188.68,74.52 190.36,74.98 192.04,75.42 193.73,75.84 195.41,76.21 197.09,76.53 198.77,76.81 200.45,77.03 202.14,77.20 203.82,77.30 205.50,77.34 M139.90,74.60 141.58,74.60 143.26,74.61 144.95,74.62 146.63,74.64 148.31,74.65 149.99,74.65 151.67,74.65 153.36,74.64 155.04,74.61 156.72,74.57 158.40,74.51 160.08,74.42 161.77,74.32 163.45,74.18 165.13,74.02 166.81,73.84 168.49,73.67 170.18,73.50 171.86,73.36 173.54,73.25 175.22,73.19 176.91,73.19 178.59,73.27 180.27,73.42 181.95,73.65 183.63,73.94 185.32,74.29 187.00,74.66 188.68,75.05 190.36,75.43 192.04,75.80 193.73,76.14 195.41,76.45 197.09,76.71 198.77,76.93 200.45,77.10 202.14,77.23 203.82,77.31 205.50,77.34 M139.90,94.15 141.58,94.14 143.26,94.12 144.95,94.08 146.63,94.03 148.31,93.97 149.99,93.91 151.67,93.84 153.36,93.76 155.04,93.69 156.72,93.61 158.40,93.54 160.08,93.48 161.77,93.42 163.45,93.37 165.13,93.34 166.81,93.32 168.49,93.32 170.18,93.34 171.86,93.39 173.54,93.46 175.22,93.57 176.91,93.71 178.59,93.90 180.27,94.12 181.95,94.39 183.63,94.70 185.32,95.06 187.00,95.47 188.68,95.90 190.36,96.34 192.04,96.79 193.73,97.23 195.41,97.65 197.09,98.04 198.77,98.39 200.45,98.68 202.14,98.90 203.82,99.04 205.50,99.09 M139.90,94.70 141.58,94.69 143.26,94.67 144.95,94.64 146.63,94.59 148.31,94.54 149.99,94.49 151.67,94.43 153.36,94.37 155.04,94.31 156.72,94.26 158.40,94.22 160.08,94.18 161.77,94.15 163.45,94.14 165.13,94.14 166.81,94.16 168.49,94.20 170.18,94.25 171.86,94.33 173.54,94.43 175.22,94.56 176.91,94.71 178.59,94.89 180.27,95.10 181.95,95.34 183.63,95.61 185.32,95.92 187.00,96.25 188.68,96.60 190.36,96.95 192.04,97.31 193.73,97.65 195.41,97.98 197.09,98.28 198.77,98.55 200.45,98.77 202.14,98.94 203.82,99.05 205.50,99.09 M139.90,95.61 141.58,95.61 143.26,95.60 144.95,95.58 146.63,95.56 148.31,95.54 149.99,95.53 151.67,95.51 153.36,95.50 155.04,95.50 156.72,95.51 158.40,95.53 160.08,95.56 161.77,95.61 163.45,95.68 165.13,95.77 166.81,95.87 168.49,95.98 170.18,96.11 171.86,96.25 173.54,96.40 175.22,96.56 176.91,96.72 178.59,96.90 180.27,97.08 181.95,97.26 183.63,97.44 185.32,97.63 187.00,97.81 188.68,97.99 190.36,98.17 192.04,98.34 193.73,98.49 195.41,98.64 197.09,98.76 198.77,98.87 200.45,98.96 202.14,99.03 203.82,99.07 205.50,99.09 M139.90,96.53 141.58,96.52 143.26,96.51 144.95,96.49 146.63,96.47 148.31,96.45 149.99,96.42 151.67,96.41 153.36,96.40 155.04,96.39 156.72,96.40 158.40,96.43 160.08,96.47 161.77,96.53 163.45,96.61 165.13,96.72 166.81,96.85 168.49,97.01 170.18,97.20 171.86,97.43 173.54,97.69 175.22,98.00 176.91,98.34 178.59,98.73 180.27,99.16 181.95,99.65 183.63,100.18 185.32,100.77 187.00,101.40 188.68,102.05 190.36,102.71 192.04,103.36 193.73,103.99 195.41,104.59 197.09,105.14 198.77,105.62 200.45,106.02 202.14,106.32 203.82,106.51 205.50,106.58 M139.90,97.08 141.58,97.07 143.26,97.06 144.95,97.04 146.63,97.02 148.31,97.00 149.99,97.00 151.67,97.00 153.36,97.01 155.04,97.05 156.72,97.10 158.40,97.19 160.08,97.30 161.77,97.44 163.45,97.62 165.13,97.84 166.81,98.09 168.49,98.37 170.18,98.68 171.86,99.02 173.54,99.39 175.22,99.78 176.91,100.19 178.59,100.62 180.27,101.07 181.95,101.53 183.63,102.01 185.32,102.50 187.00,103.00 188.68,103.49 190.36,103.98 192.04,104.44 193.73,104.88 195.41,105.28 197.09,105.65 198.77,105.96 200.45,106.22 202.14,106.42 203.82,106.54 205.50,106.58 M139.90,98.36 141.58,98.36 143.26,98.37 144.95,98.39 146.63,98.42 148.31,98.46 149.99,98.51 151.67,98.57 153.36,98.65 155.04,98.74 156.72,98.85 158.40,98.97 160.08,99.11 161.77,99.27 163.45,99.45 165.13,99.65 166.81,99.86 168.49,100.10 170.18,100.35 171.86,100.61 173.54,100.90 175.22,101.20 176.91,101.52 178.59,101.85 180.27,102.19 181.95,102.55 183.63,102.93 185.32,103.31 187.00,103.70 188.68,104.09 190.36,104.48 192.04,104.85 193.73,105.20 195.41,105.53 197.09,105.82 198.77,106.08 200.45,106.29 202.14,106.45 203.82,106.55 205.50,106.58 M139.90,100.18 141.58,100.18 143.26,100.17 144.95,100.17 146.63,100.17 148.31,100.18 149.99,100.20 151.67,100.24 153.36,100.30 155.04,100.39 156.72,100.51 158.40,100.67 160.08,100.86 161.77,101.10 163.45,101.38 165.13,101.72 166.81,102.10 168.49,102.52 170.18,103.00 171.86,103.52 173.54,104.08 175.22,104.69 176.91,105.35 178.59,106.05 180.27,106.79 181.95,107.58 183.63,108.41 185.32,109.28 187.00,110.18 188.68,111.08 190.36,111.98 192.04,112.86 193.73,113.69 195.41,114.47 197.09,115.17 198.77,115.79 200.45,116.29 202.14,116.67 203.82,116.91 205.50,117.00 M139.90,105.48 141.58,105.46 143.26,105.41 144.95,105.33 146.63,105.23 148.31,105.12 149.99,105.01 151.67,104.90 153.36,104.80 155.04,104.72 156.72,104.67 158.40,104.65 160.08,104.68 161.77,104.75 163.45,104.89 165.13,105.07 166.81,105.32 168.49,105.61 170.18,105.95 171.86,106.35 173.54,106.78 175.22,107.26 176.91,107.78 178.59,108.34 180.27,108.94 181.95,109.57 183.63,110.24 185.32,110.93 187.00,111.64 188.68,112.36 190.36,113.07 192.04,113.76 193.73,114.41 195.41,115.02 197.09,115.57 198.77,116.05 200.45,116.45 202.14,116.75 203.82,116.93 205.50,117.00 M139.90,105.48 141.58,105.48 143.26,105.48 144.95,105.47 146.63,105.48 148.31,105.49 149.99,105.52 151.67,105.57 153.36,105.65 155.04,105.76 156.72,105.90 158.40,106.08 160.08,106.31 161.77,106.58 163.45,106.91 165.13,107.28 166.81,107.70 168.49,108.15 170.18,108.64 171.86,109.15 173.54,109.68 175.22,110.23 176.91,110.78 178.59,111.34 180.27,111.90 181.95,112.44 183.63,112.98 185.32,113.49 187.00,113.99 188.68,114.45 190.36,114.89 192.04,115.30 193.73,115.67 195.41,116.00 197.09,116.29 198.77,116.54 200.45,116.74 202.14,116.88 203.82,116.97 205.50,117.00 M139.90,101.10 141.58,101.09 143.26,101.06 144.95,101.03 146.63,100.97 148.31,100.91 149.99,100.84 151.67,100.75 153.36,100.67 155.04,100.57 156.72,100.48 158.40,100.38 160.08,100.28 161.77,100.18 163.45,100.09 165.13,100.00 166.81,99.91 168.49,99.83 170.18,99.75 171.86,99.67 173.54,99.60 175.22,99.53 176.91,99.47 178.59,99.41 180.27,99.36 181.95,99.31 183.63,99.27 185.32,99.23 187.00,99.20 188.68,99.18 190.36,99.15 192.04,99.14 193.73,99.12 195.41,99.11 197.09,99.10 198.77,99.09 200.45,99.09 202.14,99.09 203.82,99.09 205.50,99.09 M139.90,130.89 141.58,130.93 143.26,131.04 144.95,131.20 146.63,131.42 148.31,131.67 149.99,131.96 151.67,132.26 153.36,132.56 155.04,132.87 156.72,133.15 158.40,133.42 160.08,133.66 161.77,133.87 163.45,134.05 165.13,134.20 166.81,134.31 168.49,134.38 170.18,134.41 171.86,134.39 173.54,134.32 175.22,134.21 176.91,134.03 178.59,133.79 180.27,133.47 181.95,133.08 183.63,132.59 185.32,132.02 187.00,131.34 188.68,130.56 190.36,129.66 192.04,128.68 193.73,127.66 195.41,126.63 197.09,125.65 198.77,124.75 200.45,123.98 202.14,123.38 203.82,122.99 205.50,122.85 M139.90,133.45 141.58,133.46 143.26,133.49 144.95,133.55 146.63,133.62 148.31,133.72 149.99,133.83 151.67,133.95 153.36,134.09 155.04,134.24 156.72,134.40 158.40,134.57 160.08,134.75 161.77,134.91 163.45,135.07 165.13,135.21 166.81,135.33 168.49,135.41 170.18,135.46 171.86,135.47 173.54,135.43 175.22,135.34 176.91,135.17 178.59,134.94 180.27,134.62 181.95,134.21 183.63,133.70 185.32,133.09 187.00,132.35 188.68,131.49 190.36,130.50 192.04,129.41 193.73,128.27 195.41,127.12 197.09,126.01 198.77,125.00 200.45,124.13 202.14,123.45 203.82,123.01 205.50,122.85 M139.90,136.19 141.58,136.22 143.26,136.30 144.95,136.43 146.63,136.61 148.31,136.83 149.99,137.08 151.67,137.37 153.36,137.68 155.04,138.01 156.72,138.37 158.40,138.73 160.08,139.10 161.77,139.48 163.45,139.86 165.13,140.23 166.81,140.60 168.49,140.97 170.18,141.34 171.86,141.70 173.54,142.06 175.22,142.41 176.91,142.75 178.59,143.09 180.27,143.42 181.95,143.74 183.63,144.05 185.32,144.35 187.00,144.64 188.68,144.91 190.36,145.17 192.04,145.41 193.73,145.63 195.41,145.83 197.09,146.00 198.77,146.15 200.45,146.27 202.14,146.35 203.82,146.41 205.50,146.43 M139.90,139.48 141.58,139.49 143.26,139.53 144.95,139.59 146.63,139.67 148.31,139.78 149.99,139.90 151.67,140.05 153.36,140.21 155.04,140.40 156.72,140.60 158.40,140.82 160.08,141.06 161.77,141.31 163.45,141.57 165.13,141.85 166.81,142.14 168.49,142.43 170.18,142.73 171.86,143.03 173.54,143.33 175.22,143.63 176.91,143.92 178.59,144.20 180.27,144.47 181.95,144.72 183.63,144.96 185.32,145.18 187.00,145.39 188.68,145.57 190.36,145.74 192.04,145.88 193.73,146.01 195.41,146.12 197.09,146.22 198.77,146.29 200.45,146.35 202.14,146.39 203.82,146.42 205.50,146.43 M139.90,147.16 141.58,147.14 143.26,147.10 144.95,147.03 146.63,146.94 148.31,146.84 149.99,146.72 151.67,146.59 153.36,146.46 155.04,146.33 156.72,146.20 158.40,146.08 160.08,145.97 161.77,145.88 163.45,145.80 165.13,145.74 166.81,145.69 168.49,145.66 170.18,145.65 171.86,145.65 173.54,145.65 175.22,145.67 176.91,145.70 178.59,145.74 180.27,145.78 181.95,145.83 183.63,145.88 185.32,145.93 187.00,145.99 188.68,146.05 190.36,146.10 192.04,146.16 193.73,146.21 195.41,146.26 197.09,146.31 198.77,146.35 200.45,146.38 202.14,146.40 203.82,146.42 205.50,146.43 M139.90,148.98 141.58,148.97 143.26,148.93 144.95,148.87 146.63,148.79 148.31,148.70 149.99,148.59 151.67,148.47 153.36,148.35 155.04,148.21 156.72,148.08 158.40,147.95 160.08,147.82 161.77,147.70 163.45,147.59 165.13,147.49 166.81,147.40 168.49,147.32 170.18,147.24 171.86,147.17 173.54,147.10 175.22,147.04 176.91,146.99 178.59,146.93 180.27,146.88 181.95,146.84 183.63,146.79 185.32,146.75 187.00,146.70 188.68,146.66 190.36,146.62 192.04,146.59 193.73,146.55 195.41,146.52 197.09,146.49 198.77,146.47 200.45,146.45 202.14,146.44 203.82,146.43 205.50,146.43 M139.90,152.27 141.58,152.27 143.26,152.25 144.95,152.23 146.63,152.19 148.31,152.15 149.99,152.09 151.67,152.02 153.36,151.94 155.04,151.85 156.72,151.75 158.40,151.63 160.08,151.50 161.77,151.36 163.45,151.20 165.13,151.04 166.81,150.86 168.49,150.67 170.18,150.47 171.86,150.26 173.54,150.04 175.22,149.82 176.91,149.58 178.59,149.35 180.27,149.11 181.95,148.87 183.63,148.62 185.32,148.37 187.00,148.12 188.68,147.88 190.36,147.65 192.04,147.43 193.73,147.22 195.41,147.03 197.09,146.86 198.77,146.71 200.45,146.59 202.14,146.50 203.82,146.44 205.50,146.43 M139.90,155.02 141.58,155.03 143.26,155.05 144.95,155.09 146.63,155.13 148.31,155.17 149.99,155.21 151.67,155.23 153.36,155.24 155.04,155.22 156.72,155.18 158.40,155.10 160.08,154.98 161.77,154.82 163.45,154.65 165.13,154.48 166.81,154.33 168.49,154.24 170.18,154.21 171.86,154.27 173.54,154.43 175.22,154.73 176.91,155.19 178.59,155.81 180.27,156.63 181.95,157.72 183.63,159.17 185.32,161.09 187.00,163.58 188.68,166.57 190.36,169.93 192.04,173.53 193.73,177.23 195.41,180.89 197.09,184.47 198.77,187.98 200.45,191.44 202.14,194.86 203.82,198.25 205.50,201.62 M139.90,157.57 141.58,157.57 143.26,157.56 144.95,157.54 146.63,157.53 148.31,157.52 149.99,157.53 151.67,157.55 153.36,157.60 155.04,157.68 156.72,157.79 158.40,157.94 160.08,158.14 161.77,158.38 163.45,158.70 165.13,159.10 166.81,159.61 168.49,160.25 170.18,161.03 171.86,161.97 173.54,163.09 175.22,164.40 176.91,165.86 178.59,167.47 180.27,169.19 181.95,171.02 183.63,172.92 185.32,174.89 187.00,176.89 188.68,178.94 190.36,181.02 192.04,183.14 193.73,185.30 195.41,187.50 197.09,189.76 198.77,192.06 200.45,194.41 202.14,196.79 203.82,199.20 205.50,201.62 M139.90,156.84 141.58,156.85 143.26,156.88 144.95,156.93 146.63,156.99 148.31,157.09 149.99,157.20 151.67,157.35 153.36,157.52 155.04,157.72 156.72,157.95 158.40,158.21 160.08,158.51 161.77,158.85 163.45,159.24 165.13,159.71 166.81,160.27 168.49,160.94 170.18,161.75 171.86,162.70 173.54,163.82 175.22,165.12 176.91,166.56 178.59,168.14 180.27,169.83 181.95,171.63 183.63,173.50 185.32,175.44 187.00,177.43 188.68,179.46 190.36,181.52 192.04,183.63 193.73,185.77 195.41,187.95 197.09,190.16 198.77,192.41 200.45,194.68 202.14,196.98 203.82,199.30 205.50,201.62 M139.90,160.13 141.58,160.22 143.26,160.46 144.95,160.83 146.63,161.30 148.31,161.84 149.99,162.43 151.67,163.03 153.36,163.61 155.04,164.16 156.72,164.63 158.40,165.01 160.08,165.26 161.77,165.38 163.45,165.40 165.13,165.39 166.81,165.39 168.49,165.47 170.18,165.68 171.86,166.07 173.54,166.69 175.22,167.57 176.91,168.68 178.59,169.99 180.27,171.47 181.95,173.11 183.63,174.87 185.32,176.74 187.00,178.68 188.68,180.68 190.36,182.72 192.04,184.81 193.73,186.92 195.41,189.04 197.09,191.16 198.77,193.28 200.45,195.38 202.14,197.47 203.82,199.55 205.50,201.62 M205.50,51.20 207.08,51.20 208.67,51.19 210.25,51.19 211.84,51.17 213.42,51.16 215.01,51.14 216.59,51.11 218.18,51.08 219.76,51.05 221.35,51.01 222.93,50.96 224.52,50.91 226.10,50.84 227.68,50.76 229.27,50.66 230.85,50.54 232.44,50.40 234.02,50.23 235.61,50.03 237.19,49.80 238.78,49.54 240.36,49.26 241.95,48.97 243.53,48.66 245.12,48.35 246.70,48.05 248.28,47.76 249.87,47.48 251.45,47.24 253.04,47.02 254.62,46.84 256.21,46.69 257.79,46.56 259.38,46.46 260.96,46.38 262.55,46.33 264.13,46.29 265.72,46.27 267.30,46.27 M205.50,51.02 207.08,51.03 208.67,51.05 210.25,51.09 211.84,51.14 213.42,51.19 215.01,51.25 216.59,51.30 218.18,51.34 219.76,51.37 221.35,51.39 222.93,51.38 224.52,51.36 226.10,51.32 227.68,51.26 229.27,51.17 230.85,51.06 232.44,50.92 234.02,50.76 235.61,50.57 237.19,50.36 238.78,50.11 240.36,49.85 241.95,49.57 243.53,49.27 245.12,48.97 246.70,48.67 248.28,48.37 249.87,48.08 251.45,47.80 253.04,47.53 254.62,47.29 256.21,47.06 257.79,46.86 259.38,46.69 260.96,46.54 262.55,46.42 264.13,46.34 265.72,46.28 267.30,46.27 M205.50,51.20 207.08,51.22 208.67,51.29 210.25,51.40 211.84,51.54 213.42,51.70 215.01,51.89 216.59,52.08 218.18,52.29 219.76,52.51 221.35,52.71 222.93,52.91 224.52,53.10 226.10,53.26 227.68,53.39 229.27,53.48 230.85,53.52 232.44,53.51 234.02,53.45 235.61,53.31 237.19,53.10 238.78,52.81 240.36,52.46 241.95,52.06 243.53,51.61 245.12,51.14 246.70,50.64 248.28,50.13 249.87,49.62 251.45,49.13 253.04,48.65 254.62,48.21 256.21,47.79 257.79,47.42 259.38,47.09 260.96,46.81 262.55,46.58 264.13,46.41 265.72,46.30 267.30,46.27 M205.50,56.14 207.08,56.16 208.67,56.24 210.25,56.36 211.84,56.53 213.42,56.75 215.01,57.01 216.59,57.31 218.18,57.66 219.76,58.05 221.35,58.47 222.93,58.94 224.52,59.44 226.10,59.97 227.68,60.54 229.27,61.14 230.85,61.77 232.44,62.41 234.02,63.06 235.61,63.73 237.19,64.40 238.78,65.06 240.36,65.72 241.95,66.37 243.53,67.01 245.12,67.62 246.70,68.20 248.28,68.75 249.87,69.27 251.45,69.75 253.04,70.20 254.62,70.60 256.21,70.97 257.79,71.29 259.38,71.56 260.96,71.80 262.55,71.98 264.13,72.11 265.72,72.19 267.30,72.22 M205.50,55.95 207.08,56.00 208.67,56.14 210.25,56.37 211.84,56.67 213.42,57.05 215.01,57.49 216.59,57.99 218.18,58.54 219.76,59.13 221.35,59.76 222.93,60.42 224.52,61.10 226.10,61.80 227.68,62.51 229.27,63.23 230.85,63.94 232.44,64.65 234.02,65.35 235.61,66.04 237.19,66.70 238.78,67.34 240.36,67.96 241.95,68.54 243.53,69.08 245.12,69.58 246.70,70.03 248.28,70.43 249.87,70.77 251.45,71.08 253.04,71.34 254.62,71.55 256.21,71.74 257.79,71.88 259.38,72.00 260.96,72.09 262.55,72.15 264.13,72.19 265.72,72.21 267.30,72.22 M205.50,56.14 207.08,56.14 208.67,56.16 210.25,56.19 211.84,56.24 213.42,56.31 215.01,56.41 216.59,56.54 218.18,56.70 219.76,56.90 221.35,57.14 222.93,57.43 224.52,57.76 226.10,58.15 227.68,58.59 229.27,59.08 230.85,59.61 232.44,60.19 234.02,60.80 235.61,61.45 237.19,62.12 238.78,62.80 240.36,63.51 241.95,64.22 243.53,64.94 245.12,65.66 246.70,66.37 248.28,67.07 249.87,67.76 251.45,68.42 253.04,69.05 254.62,69.64 256.21,70.19 257.79,70.69 259.38,71.13 260.96,71.50 262.55,71.81 264.13,72.03 265.72,72.17 267.30,72.22 M205.50,56.14 207.08,56.13 208.67,56.11 210.25,56.07 211.84,56.02 213.42,55.96 215.01,55.87 216.59,55.77 218.18,55.66 219.76,55.52 221.35,55.36 222.93,55.19 224.52,54.99 226.10,54.77 227.68,54.52 229.27,54.25 230.85,53.95 232.44,53.62 234.02,53.26 235.61,52.87 237.19,52.45 238.78,51.99 240.36,51.51 241.95,51.02 243.53,50.52 245.12,50.02 246.70,49.53 248.28,49.05 249.87,48.61 251.45,48.19 253.04,47.82 254.62,47.48 256.21,47.19 257.79,46.94 259.38,46.73 260.96,46.56 262.55,46.43 264.13,46.34 265.72,46.28 267.30,46.27 M205.50,77.34 207.08,77.25 208.67,76.98 210.25,76.56 211.84,76.00 213.42,75.32 215.01,74.53 216.59,73.66 218.18,72.72 219.76,71.72 221.35,70.68 222.93,69.62 224.52,68.53 226.10,67.43 227.68,66.31 229.27,65.18 230.85,64.03 232.44,62.88 234.02,61.72 235.61,60.56 237.19,59.39 238.78,58.23 240.36,57.08 241.95,55.96 243.53,54.86 245.12,53.80 246.70,52.79 248.28,51.83 249.87,50.94 251.45,50.11 253.04,49.37 254.62,48.71 256.21,48.13 257.79,47.63 259.38,47.21 260.96,46.87 262.55,46.60 264.13,46.42 265.72,46.30 267.30,46.27 M205.50,77.34 207.08,77.31 208.67,77.22 210.25,77.07 211.84,76.88 213.42,76.64 215.01,76.36 216.59,76.04 218.18,75.70 219.76,75.33 221.35,74.93 222.93,74.53 224.52,74.11 226.10,73.68 227.68,73.25 229.27,72.83 230.85,72.42 232.44,72.02 234.02,71.64 235.61,71.29 237.19,70.97 238.78,70.68 240.36,70.44 241.95,70.25 243.53,70.12 245.12,70.04 246.70,70.03 248.28,70.08 249.87,70.20 251.45,70.36 253.04,70.56 254.62,70.79 256.21,71.04 257.79,71.28 259.38,71.52 260.96,71.74 262.55,71.94 264.13,72.09 265.72,72.18 267.30,72.22 M205.50,77.15 207.08,77.13 208.67,77.07 210.25,76.96 211.84,76.82 213.42,76.65 215.01,76.45 216.59,76.23 218.18,75.99 219.76,75.73 221.35,75.46 222.93,75.17 224.52,74.89 226.10,74.60 227.68,74.31 229.27,74.02 230.85,73.75 232.44,73.48 234.02,73.22 235.61,72.98 237.19,72.75 238.78,72.54 240.36,72.35 241.95,72.19 243.53,72.05 245.12,71.93 246.70,71.85 248.28,71.81 249.87,71.78 251.45,71.79 253.04,71.81 254.62,71.85 256.21,71.90 257.79,71.96 259.38,72.02 260.96,72.08 262.55,72.14 264.13,72.18 265.72,72.21 267.30,72.22 M205.50,77.34 207.08,77.30 208.67,77.18 210.25,76.98 211.84,76.73 213.42,76.42 215.01,76.06 216.59,75.66 218.18,75.22 219.76,74.75 221.35,74.27 222.93,73.77 224.52,73.27 226.10,72.77 227.68,72.28 229.27,71.80 230.85,71.34 232.44,70.91 234.02,70.51 235.61,70.15 237.19,69.83 238.78,69.55 240.36,69.34 241.95,69.18 243.53,69.08 245.12,69.06 246.70,69.11 248.28,69.24 249.87,69.44 251.45,69.70 253.04,69.99 254.62,70.31 256.21,70.65 257.79,70.98 259.38,71.30 260.96,71.60 262.55,71.85 264.13,72.05 265.72,72.17 267.30,72.22 M205.50,99.27 207.08,99.26 208.67,99.22 210.25,99.17 211.84,99.10 213.42,99.02 215.01,98.93 216.59,98.83 218.18,98.72 219.76,98.62 221.35,98.51 222.93,98.41 224.52,98.30 226.10,98.17 227.68,98.03 229.27,97.86 230.85,97.65 232.44,97.40 234.02,97.09 235.61,96.73 237.19,96.31 238.78,95.83 240.36,95.32 241.95,94.81 243.53,94.34 245.12,93.92 246.70,93.58 248.28,93.36 249.87,93.28 251.45,93.37 253.04,93.65 254.62,94.10 256.21,94.67 257.79,95.32 259.38,96.00 260.96,96.66 262.55,97.25 264.13,97.73 265.72,98.06 267.30,98.17 M205.50,99.09 207.08,99.08 208.67,99.05 210.25,99.00 211.84,98.93 213.42,98.84 215.01,98.73 216.59,98.61 218.18,98.46 219.76,98.30 221.35,98.13 222.93,97.94 224.52,97.73 226.10,97.50 227.68,97.26 229.27,97.00 230.85,96.72 232.44,96.43 234.02,96.12 235.61,95.79 237.19,95.44 238.78,95.08 240.36,94.73 241.95,94.40 243.53,94.11 245.12,93.89 246.70,93.73 248.28,93.67 249.87,93.72 251.45,93.90 253.04,94.22 254.62,94.66 256.21,95.19 257.79,95.76 259.38,96.35 260.96,96.91 262.55,97.41 264.13,97.81 265.72,98.08 267.30,98.17 M205.50,99.27 207.08,99.26 208.67,99.25 210.25,99.22 211.84,99.19 213.42,99.15 215.01,99.11 216.59,99.06 218.18,99.00 219.76,98.95 221.35,98.89 222.93,98.83 224.52,98.76 226.10,98.68 227.68,98.58 229.27,98.45 230.85,98.30 232.44,98.11 234.02,97.88 235.61,97.60 237.19,97.27 238.78,96.90 240.36,96.50 241.95,96.10 243.53,95.73 245.12,95.39 246.70,95.11 248.28,94.91 249.87,94.82 251.45,94.85 253.04,95.03 254.62,95.33 256.21,95.72 257.79,96.17 259.38,96.64 260.96,97.10 262.55,97.52 264.13,97.86 265.72,98.09 267.30,98.17 M205.50,106.40 207.08,106.37 208.67,106.29 210.25,106.16 211.84,105.99 213.42,105.78 215.01,105.53 216.59,105.26 218.18,104.96 219.76,104.64 221.35,104.30 222.93,103.95 224.52,103.58 226.10,103.18 227.68,102.76 229.27,102.30 230.85,101.79 232.44,101.24 234.02,100.64 235.61,99.99 237.19,99.27 238.78,98.50 240.36,97.71 241.95,96.93 243.53,96.20 245.12,95.53 246.70,94.96 248.28,94.52 249.87,94.24 251.45,94.14 253.04,94.26 254.62,94.57 256.21,95.03 257.79,95.57 259.38,96.17 260.96,96.76 262.55,97.31 264.13,97.76 265.72,98.06 267.30,98.17 M205.50,106.40 207.08,106.38 208.67,106.33 210.25,106.26 211.84,106.15 213.42,106.02 215.01,105.87 216.59,105.70 218.18,105.50 219.76,105.29 221.35,105.06 222.93,104.82 224.52,104.55 226.10,104.25 227.68,103.91 229.27,103.53 230.85,103.10 232.44,102.62 234.02,102.06 235.61,101.44 237.19,100.74 238.78,99.97 240.36,99.16 241.95,98.35 243.53,97.57 245.12,96.84 246.70,96.19 248.28,95.67 249.87,95.29 251.45,95.09 253.04,95.09 254.62,95.27 256.21,95.60 257.79,96.02 259.38,96.50 260.96,96.99 262.55,97.44 264.13,97.82 265.72,98.08 267.30,98.17 M205.50,106.40 207.08,106.36 208.67,106.26 210.25,106.10 211.84,105.89 213.42,105.63 215.01,105.32 216.59,104.97 218.18,104.58 219.76,104.17 221.35,103.73 222.93,103.27 224.52,102.79 226.10,102.30 227.68,101.79 229.27,101.28 230.85,100.75 232.44,100.23 234.02,99.70 235.61,99.17 237.19,98.64 238.78,98.13 240.36,97.63 241.95,97.17 243.53,96.76 245.12,96.40 246.70,96.11 248.28,95.91 249.87,95.79 251.45,95.78 253.04,95.89 254.62,96.09 256.21,96.36 257.79,96.69 259.38,97.03 260.96,97.37 262.55,97.69 264.13,97.94 265.72,98.11 267.30,98.17 M205.50,116.82 207.08,116.75 208.67,116.56 210.25,116.26 211.84,115.86 213.42,115.39 215.01,114.84 216.59,114.24 218.18,113.60 219.76,112.94 221.35,112.26 222.93,111.58 224.52,110.90 226.10,110.21 227.68,109.52 229.27,108.83 230.85,108.14 232.44,107.44 234.02,106.73 235.61,106.02 237.19,105.31 238.78,104.59 240.36,103.88 241.95,103.19 243.53,102.51 245.12,101.87 246.70,101.26 248.28,100.69 249.87,100.19 251.45,99.74 253.04,99.36 254.62,99.04 256.21,98.79 257.79,98.59 259.38,98.44 260.96,98.32 262.55,98.25 264.13,98.20 265.72,98.18 267.30,98.17 M205.50,116.82 207.08,116.76 208.67,116.61 210.25,116.36 211.84,116.04 213.42,115.64 215.01,115.19 216.59,114.69 218.18,114.16 219.76,113.59 221.35,113.02 222.93,112.43 224.52,111.83 226.10,111.23 227.68,110.61 229.27,109.98 230.85,109.33 232.44,108.67 234.02,108.00 235.61,107.30 237.19,106.59 238.78,105.86 240.36,105.12 241.95,104.38 243.53,103.66 245.12,102.95 246.70,102.27 248.28,101.63 249.87,101.03 251.45,100.49 253.04,100.01 254.62,99.60 256.21,99.24 257.79,98.94 259.38,98.69 260.96,98.50 262.55,98.35 264.13,98.25 265.72,98.19 267.30,98.17 M205.50,117.00 207.08,116.91 208.67,116.67 210.25,116.29 211.84,115.79 213.42,115.20 215.01,114.53 216.59,113.81 218.18,113.05 219.76,112.28 221.35,111.51 222.93,110.76 224.52,110.03 226.10,109.31 227.68,108.60 229.27,107.90 230.85,107.20 232.44,106.51 234.02,105.81 235.61,105.11 237.19,104.40 238.78,103.68 240.36,102.97 241.95,102.28 243.53,101.61 245.12,100.97 246.70,100.38 248.28,99.85 249.87,99.38 251.45,98.99 253.04,98.68 254.62,98.46 256.21,98.30 257.79,98.20 259.38,98.14 260.96,98.12 262.55,98.13 264.13,98.15 265.72,98.16 267.30,98.17 M205.50,122.85 207.08,122.97 208.67,123.31 210.25,123.83 211.84,124.50 213.42,125.28 215.01,126.14 216.59,127.04 218.18,127.94 219.76,128.82 221.35,129.62 222.93,130.34 224.52,130.96 226.10,131.50 227.68,131.95 229.27,132.33 230.85,132.62 232.44,132.84 234.02,132.99 235.61,133.07 237.19,133.08 238.78,133.03 240.36,132.92 241.95,132.76 243.53,132.54 245.12,132.27 246.70,131.97 248.28,131.62 249.87,131.23 251.45,130.82 253.04,130.37 254.62,129.91 256.21,129.45 257.79,129.00 259.38,128.58 260.96,128.20 262.55,127.88 264.13,127.63 265.72,127.47 267.30,127.42 M205.50,122.85 207.08,122.99 208.67,123.37 210.25,123.97 211.84,124.73 213.42,125.63 215.01,126.60 216.59,127.63 218.18,128.65 219.76,129.65 221.35,130.56 222.93,131.37 224.52,132.08 226.10,132.69 227.68,133.19 229.27,133.61 230.85,133.93 232.44,134.16 234.02,134.30 235.61,134.36 237.19,134.34 238.78,134.25 240.36,134.08 241.95,133.85 243.53,133.55 245.12,133.21 246.70,132.81 248.28,132.37 249.87,131.90 251.45,131.39 253.04,130.85 254.62,130.31 256.21,129.76 257.79,129.24 259.38,128.75 260.96,128.31 262.55,127.95 264.13,127.66 265.72,127.48 267.30,127.42 M205.50,123.03 207.08,123.18 208.67,123.60 210.25,124.26 211.84,125.09 213.42,126.07 215.01,127.14 216.59,128.26 218.18,129.39 219.76,130.49 221.35,131.50 222.93,132.40 224.52,133.19 226.10,133.88 227.68,134.46 229.27,134.93 230.85,135.30 232.44,135.57 234.02,135.74 235.61,135.82 237.19,135.81 238.78,135.70 240.36,135.51 241.95,135.24 243.53,134.91 245.12,134.50 246.70,134.03 248.28,133.51 249.87,132.94 251.45,132.33 253.04,131.68 254.62,131.01 256.21,130.34 257.79,129.69 259.38,129.08 260.96,128.54 262.55,128.08 264.13,127.73 265.72,127.50 267.30,127.42 M205.50,146.43 207.08,146.43 208.67,146.46 210.25,146.49 211.84,146.52 213.42,146.55 215.01,146.56 216.59,146.55 218.18,146.51 219.76,146.44 221.35,146.32 222.93,146.16 224.52,145.94 226.10,145.66 227.68,145.31 229.27,144.88 230.85,144.37 232.44,143.79 234.02,143.13 235.61,142.41 237.19,141.62 238.78,140.78 240.36,139.89 241.95,138.95 243.53,137.97 245.12,136.96 246.70,135.94 248.28,134.91 249.87,133.89 251.45,132.91 253.04,131.96 254.62,131.07 256.21,130.26 257.79,129.53 259.38,128.90 260.96,128.38 262.55,127.96 264.13,127.66 265.72,127.48 267.30,127.42 M205.50,146.43 207.08,146.38 208.67,146.24 210.25,146.05 211.84,145.81 213.42,145.57 215.01,145.34 216.59,145.14 218.18,145.00 219.76,144.94 221.35,144.99 222.93,145.15 224.52,145.43 226.10,145.79 227.68,146.24 229.27,146.75 230.85,147.32 232.44,147.93 234.02,148.56 235.61,149.21 237.19,149.85 238.78,150.49 240.36,151.12 241.95,151.73 243.53,152.32 245.12,152.89 246.70,153.44 248.28,153.96 249.87,154.45 251.45,154.91 253.04,155.33 254.62,155.71 256.21,156.05 257.79,156.35 259.38,156.61 260.96,156.82 262.55,156.99 264.13,157.11 265.72,157.18 267.30,157.21 M205.50,146.43 207.08,146.40 208.67,146.32 210.25,146.21 211.84,146.08 213.42,145.96 215.01,145.85 216.59,145.77 218.18,145.75 219.76,145.79 221.35,145.92 222.93,146.13 224.52,146.43 226.10,146.81 227.68,147.25 229.27,147.75 230.85,148.29 232.44,148.88 234.02,149.49 235.61,150.12 237.19,150.77 238.78,151.42 240.36,152.07 241.95,152.70 243.53,153.32 245.12,153.90 246.70,154.46 248.28,154.97 249.87,155.43 251.45,155.84 253.04,156.18 254.62,156.46 256.21,156.69 257.79,156.86 259.38,156.99 260.96,157.09 262.55,157.15 264.13,157.19 265.72,157.20 267.30,157.21 M205.50,146.24 207.08,146.24 208.67,146.22 210.25,146.21 211.84,146.21 213.42,146.22 215.01,146.26 216.59,146.34 218.18,146.46 219.76,146.63 221.35,146.85 222.93,147.15 224.52,147.50 226.10,147.90 227.68,148.35 229.27,148.84 230.85,149.36 232.44,149.91 234.02,150.48 235.61,151.06 237.19,151.66 238.78,152.25 240.36,152.85 241.95,153.42 243.53,153.98 245.12,154.51 246.70,155.01 248.28,155.46 249.87,155.87 251.45,156.22 253.04,156.50 254.62,156.73 256.21,156.90 257.79,157.02 259.38,157.11 260.96,157.17 262.55,157.20 264.13,157.21 265.72,157.21 267.30,157.21 M205.50,201.62 207.08,198.83 208.67,196.04 210.25,193.25 211.84,190.45 213.42,187.66 215.01,184.87 216.59,182.07 218.18,179.27 219.76,176.48 221.35,173.68 222.93,170.88 224.52,168.11 226.10,165.40 227.68,162.82 229.27,160.42 230.85,158.24 232.44,156.33 234.02,154.75 235.61,153.53 237.19,152.64 238.78,152.07 240.36,151.78 241.95,151.74 243.53,151.90 245.12,152.22 246.70,152.66 248.28,153.19 249.87,153.76 251.45,154.33 253.04,154.86 254.62,155.34 256.21,155.77 257.79,156.15 259.38,156.47 260.96,156.73 262.55,156.94 264.13,157.09 265.72,157.18 267.30,157.21 M205.50,201.62 207.08,199.42 208.67,197.21 210.25,195.01 211.84,192.81 213.42,190.62 215.01,188.43 216.59,186.24 218.18,184.07 219.76,181.90 221.35,179.74 222.93,177.58 224.52,175.45 226.10,173.35 227.68,171.30 229.27,169.32 230.85,167.42 232.44,165.62 234.02,163.93 235.61,162.38 237.19,160.98 238.78,159.74 240.36,158.68 241.95,157.82 243.53,157.16 245.12,156.67 246.70,156.34 248.28,156.14 249.87,156.05 251.45,156.05 253.04,156.11 254.62,156.22 256.21,156.35 257.79,156.51 259.38,156.68 260.96,156.84 262.55,156.98 264.13,157.10 265.72,157.18 267.30,157.21 M205.50,201.62 207.08,199.86 208.67,198.09 210.25,196.31 211.84,194.53 213.42,192.73 215.01,190.92 216.59,189.09 218.18,187.23 219.76,185.36 221.35,183.45 222.93,181.52 224.52,179.56 226.10,177.60 227.68,175.66 229.27,173.75 230.85,171.90 232.44,170.13 234.02,168.45 235.61,166.89 237.19,165.46 238.78,164.19 240.36,163.09 241.95,162.19 243.53,161.48 245.12,160.93 246.70,160.51 248.28,160.18 249.87,159.91 251.45,159.66 253.04,159.41 254.62,159.12 256.21,158.81 257.79,158.48 259.38,158.16 260.96,157.86 262.55,157.60 264.13,157.39 265.72,157.26 267.30,157.21 M205.50,201.62 207.08,200.13 208.67,198.64 210.25,197.14 211.84,195.62 213.42,194.09 215.01,192.54 216.59,190.97 218.18,189.37 219.76,187.74 221.35,186.07 222.93,184.37 224.52,182.63 226.10,180.87 227.68,179.11 229.27,177.36 230.85,175.63 232.44,173.95 234.02,172.33 235.61,170.77 237.19,169.30 238.78,167.94 240.36,166.69 241.95,165.57 243.53,164.59 245.12,163.73 246.70,162.96 248.28,162.28 249.87,161.67 251.45,161.10 253.04,160.57 254.62,160.05 256.21,159.54 257.79,159.03 259.38,158.55 260.96,158.12 262.55,157.75 264.13,157.46 265.72,157.27 267.30,157.21 M267.30,46.45 267.95,46.45 268.60,46.46 269.25,46.47 269.89,46.48 270.54,46.50 271.19,46.52 271.84,46.55 272.49,46.58 273.14,46.61 273.79,46.65 274.44,46.68 275.08,46.72 275.73,46.77 276.38,46.81 277.03,46.86 277.68,46.91 278.33,46.96 278.98,47.01 279.63,47.06 280.27,47.11 280.92,47.17 281.57,47.22 282.22,47.27 282.87,47.32 283.52,47.36 284.17,47.41 284.82,47.45 285.46,47.49 286.11,47.53 286.76,47.57 287.41,47.60 288.06,47.63 288.71,47.65 289.36,47.68 290.01,47.70 290.65,47.71 291.30,47.72 291.95,47.73 292.60,47.73 M267.30,46.45 267.95,46.46 268.60,46.49 269.25,46.54 269.89,46.61 270.54,46.70 271.19,46.80 271.84,46.93 272.49,47.07 273.14,47.23 273.79,47.40 274.44,47.59 275.08,47.79 275.73,48.00 276.38,48.22 277.03,48.45 277.68,48.69 278.33,48.93 278.98,49.18 279.63,49.43 280.27,49.68 280.92,49.93 281.57,50.18 282.22,50.42 282.87,50.66 283.52,50.89 284.17,51.11 284.82,51.32 285.46,51.52 286.11,51.71 286.76,51.88 287.41,52.04 288.06,52.18 288.71,52.31 289.36,52.41 290.01,52.50 290.65,52.57 291.30,52.62 291.95,52.65 292.60,52.66 M267.30,72.22 267.95,72.20 268.60,72.15 269.25,72.07 269.89,71.95 270.54,71.80 271.19,71.61 271.84,71.40 272.49,71.16 273.14,70.89 273.79,70.59 274.44,70.27 275.08,69.93 275.73,69.57 276.38,69.19 277.03,68.80 277.68,68.39 278.33,67.98 278.98,67.56 279.63,67.13 280.27,66.71 280.92,66.28 281.57,65.86 282.22,65.44 282.87,65.04 283.52,64.65 284.17,64.27 284.82,63.91 285.46,63.57 286.11,63.25 286.76,62.95 287.41,62.68 288.06,62.44 288.71,62.23 289.36,62.04 290.01,61.89 290.65,61.77 291.30,61.69 291.95,61.64 292.60,61.62 M267.30,72.22 267.95,72.21 268.60,72.18 269.25,72.12 269.89,72.05 270.54,71.95 271.19,71.83 271.84,71.70 272.49,71.54 273.14,71.37 273.79,71.18 274.44,70.98 275.08,70.76 275.73,70.53 276.38,70.29 277.03,70.04 277.68,69.78 278.33,69.51 278.98,69.25 279.63,68.97 280.27,68.70 280.92,68.43 281.57,68.16 282.22,67.90 282.87,67.64 283.52,67.39 284.17,67.15 284.82,66.92 285.46,66.70 286.11,66.50 286.76,66.31 287.41,66.14 288.06,65.98 288.71,65.84 289.36,65.73 290.01,65.63 290.65,65.56 291.30,65.50 291.95,65.47 292.60,65.46 M267.30,72.22 267.95,72.22 268.60,72.21 269.25,72.19 269.89,72.17 270.54,72.15 271.19,72.11 271.84,72.08 272.49,72.04 273.14,71.99 273.79,71.94 274.44,71.88 275.08,71.82 275.73,71.76 276.38,71.70 277.03,71.63 277.68,71.56 278.33,71.49 278.98,71.42 279.63,71.34 280.27,71.27 280.92,71.20 281.57,71.12 282.22,71.05 282.87,70.98 283.52,70.91 284.17,70.85 284.82,70.79 285.46,70.73 286.11,70.67 286.76,70.62 287.41,70.58 288.06,70.53 288.71,70.50 289.36,70.47 290.01,70.44 290.65,70.42 291.30,70.40 291.95,70.39 292.60,70.39 M267.30,72.22 267.95,72.23 268.60,72.25 269.25,72.30 269.89,72.35 270.54,72.42 271.19,72.50 271.84,72.58 272.49,72.67 273.14,72.77 273.79,72.87 274.44,72.98 275.08,73.08 275.73,73.18 276.38,73.28 277.03,73.37 277.68,73.46 278.33,73.54 278.98,73.60 279.63,73.66 280.27,73.70 280.92,73.73 281.57,73.75 282.22,73.75 282.87,73.74 283.52,73.73 284.17,73.71 284.82,73.68 285.46,73.65 286.11,73.61 286.76,73.57 287.41,73.53 288.06,73.49 288.71,73.45 289.36,73.42 290.01,73.38 290.65,73.36 291.30,73.33 291.95,73.32 292.60,73.32 M267.30,98.36 267.95,98.35 268.60,98.33 269.25,98.30 269.89,98.26 270.54,98.21 271.19,98.15 271.84,98.07 272.49,97.99 273.14,97.90 273.79,97.79 274.44,97.68 275.08,97.57 275.73,97.44 276.38,97.31 277.03,97.18 277.68,97.04 278.33,96.89 278.98,96.75 279.63,96.60 280.27,96.45 280.92,96.31 281.57,96.16 282.22,96.02 282.87,95.88 283.52,95.74 284.17,95.61 284.82,95.49 285.46,95.37 286.11,95.26 286.76,95.16 287.41,95.07 288.06,94.98 288.71,94.91 289.36,94.85 290.01,94.79 290.65,94.75 291.30,94.72 291.95,94.71 292.60,94.70 M267.30,98.36 267.95,98.35 268.60,98.34 269.25,98.31 269.89,98.28 270.54,98.23 271.19,98.18 271.84,98.12 272.49,98.04 273.14,97.97 273.79,97.88 274.44,97.79 275.08,97.69 275.73,97.58 276.38,97.47 277.03,97.35 277.68,97.23 278.33,97.11 278.98,96.99 279.63,96.87 280.27,96.74 280.92,96.62 281.57,96.49 282.22,96.37 282.87,96.25 283.52,96.14 284.17,96.03 284.82,95.92 285.46,95.82 286.11,95.73 286.76,95.64 287.41,95.56 288.06,95.49 288.71,95.43 289.36,95.37 290.01,95.33 290.65,95.29 291.30,95.27 291.95,95.25 292.60,95.25 M267.30,98.36 267.95,98.35 268.60,98.35 269.25,98.34 269.89,98.32 270.54,98.30 271.19,98.28 271.84,98.26 272.49,98.23 273.14,98.20 273.79,98.16 274.44,98.12 275.08,98.08 275.73,98.04 276.38,97.99 277.03,97.94 277.68,97.89 278.33,97.84 278.98,97.79 279.63,97.74 280.27,97.69 280.92,97.64 281.57,97.59 282.22,97.54 282.87,97.49 283.52,97.44 284.17,97.40 284.82,97.35 285.46,97.31 286.11,97.27 286.76,97.24 287.41,97.21 288.06,97.18 288.71,97.15 289.36,97.13 290.01,97.11 290.65,97.10 291.30,97.09 291.95,97.08 292.60,97.08 M267.30,98.36 267.95,98.36 268.60,98.37 269.25,98.39 269.89,98.42 270.54,98.46 271.19,98.50 271.84,98.55 272.49,98.61 273.14,98.68 273.79,98.75 274.44,98.83 275.08,98.91 275.73,99.00 276.38,99.09 277.03,99.18 277.68,99.28 278.33,99.38 278.98,99.48 279.63,99.58 280.27,99.69 280.92,99.79 281.57,99.89 282.22,99.99 282.87,100.09 283.52,100.18 284.17,100.28 284.82,100.36 285.46,100.44 286.11,100.52 286.76,100.59 287.41,100.66 288.06,100.72 288.71,100.77 289.36,100.81 290.01,100.85 290.65,100.88 291.30,100.90 291.95,100.91 292.60,100.91 M267.30,98.36 267.95,98.36 268.60,98.38 269.25,98.40 269.89,98.43 270.54,98.47 271.19,98.52 271.84,98.58 272.49,98.65 273.14,98.72 273.79,98.81 274.44,98.89 275.08,98.99 275.73,99.09 276.38,99.19 277.03,99.30 277.68,99.41 278.33,99.53 278.98,99.64 279.63,99.76 280.27,99.88 280.92,99.99 281.57,100.11 282.22,100.23 282.87,100.34 283.52,100.45 284.17,100.55 284.82,100.65 285.46,100.74 286.11,100.83 286.76,100.91 287.41,100.99 288.06,101.05 288.71,101.11 289.36,101.16 290.01,101.21 290.65,101.24 291.30,101.26 291.95,101.28 292.60,101.28 M267.30,98.36 267.95,98.37 268.60,98.42 269.25,98.50 269.89,98.61 270.54,98.75 271.19,98.92 271.84,99.12 272.49,99.35 273.14,99.60 273.79,99.87 274.44,100.17 275.08,100.49 275.73,100.82 276.38,101.18 277.03,101.54 277.68,101.92 278.33,102.30 278.98,102.70 279.63,103.09 280.27,103.49 280.92,103.89 281.57,104.28 282.22,104.66 282.87,105.04 283.52,105.41 284.17,105.76 284.82,106.09 285.46,106.41 286.11,106.71 286.76,106.98 287.41,107.24 288.06,107.46 288.71,107.66 289.36,107.83 290.01,107.97 290.65,108.08 291.30,108.16 291.95,108.21 292.60,108.23 M267.30,127.42 267.95,127.42 268.60,127.44 269.25,127.47 269.89,127.51 270.54,127.56 271.19,127.62 271.84,127.69 272.49,127.77 273.14,127.85 273.79,127.95 274.44,128.06 275.08,128.17 275.73,128.29 276.38,128.41 277.03,128.54 277.68,128.67 278.33,128.81 278.98,128.94 279.63,129.08 280.27,129.22 280.92,129.36 281.57,129.50 282.22,129.64 282.87,129.77 283.52,129.90 284.17,130.02 284.82,130.14 285.46,130.25 286.11,130.36 286.76,130.45 287.41,130.54 288.06,130.62 288.71,130.69 289.36,130.75 290.01,130.80 290.65,130.84 291.30,130.87 291.95,130.88 292.60,130.89 M267.30,127.42 267.95,127.43 268.60,127.47 269.25,127.54 269.89,127.64 270.54,127.77 271.19,127.92 271.84,128.10 272.49,128.30 273.14,128.52 273.79,128.76 274.44,129.03 275.08,129.31 275.73,129.61 276.38,129.92 277.03,130.25 277.68,130.58 278.33,130.93 278.98,131.27 279.63,131.63 280.27,131.98 280.92,132.33 281.57,132.68 282.22,133.02 282.87,133.36 283.52,133.68 284.17,134.00 284.82,134.30 285.46,134.58 286.11,134.84 286.76,135.09 287.41,135.31 288.06,135.51 288.71,135.69 289.36,135.84 290.01,135.96 290.65,136.06 291.30,136.13 291.95,136.18 292.60,136.19 M267.30,157.21 267.95,157.19 268.60,157.14 269.25,157.05 269.89,156.93 270.54,156.78 271.19,156.59 271.84,156.37 272.49,156.13 273.14,155.85 273.79,155.55 274.44,155.23 275.08,154.88 275.73,154.51 276.38,154.13 277.03,153.73 277.68,153.32 278.33,152.90 278.98,152.47 279.63,152.03 280.27,151.60 280.92,151.17 281.57,150.74 282.22,150.32 282.87,149.91 283.52,149.51 284.17,149.12 284.82,148.75 285.46,148.41 286.11,148.08 286.76,147.78 287.41,147.51 288.06,147.26 288.71,147.04 289.36,146.86 290.01,146.70 290.65,146.58 291.30,146.50 291.95,146.44 292.60,146.43 M267.30,157.21 267.95,157.20 268.60,157.16 269.25,157.10 269.89,157.02 270.54,156.92 271.19,156.79 271.84,156.64 272.49,156.48 273.14,156.29 273.79,156.09 274.44,155.87 275.08,155.63 275.73,155.38 276.38,155.12 277.03,154.85 277.68,154.57 278.33,154.28 278.98,153.99 279.63,153.70 280.27,153.41 280.92,153.11 281.57,152.82 282.22,152.54 282.87,152.26 283.52,151.99 284.17,151.73 284.82,151.48 285.46,151.24 286.11,151.02 286.76,150.82 287.41,150.63 288.06,150.46 288.71,150.32 289.36,150.19 290.01,150.09 290.65,150.00 291.30,149.95 291.95,149.91 292.60,149.90 M267.30,157.21 267.95,157.20 268.60,157.19 269.25,157.16 269.89,157.13 270.54,157.08 271.19,157.03 271.84,156.97 272.49,156.90 273.14,156.82 273.79,156.73 274.44,156.64 275.08,156.54 275.73,156.43 276.38,156.32 277.03,156.21 277.68,156.09 278.33,155.97 278.98,155.84 279.63,155.72 280.27,155.59 280.92,155.47 281.57,155.34 282.22,155.22 282.87,155.10 283.52,154.99 284.17,154.88 284.82,154.77 285.46,154.67 286.11,154.58 286.76,154.49 287.41,154.41 288.06,154.34 288.71,154.28 289.36,154.23 290.01,154.18 290.65,154.15 291.30,154.12 291.95,154.11 292.60,154.10 M267.30,157.21 267.95,157.22 268.60,157.25 269.25,157.29 269.89,157.36 270.54,157.44 271.19,157.54 271.84,157.66 272.49,157.80 273.14,157.94 273.79,158.11 274.44,158.28 275.08,158.47 275.73,158.67 276.38,158.88 277.03,159.10 277.68,159.32 278.33,159.55 278.98,159.78 279.63,160.02 280.27,160.25 280.92,160.49 281.57,160.72 282.22,160.95 282.87,161.17 283.52,161.39 284.17,161.60 284.82,161.79 285.46,161.98 286.11,162.16 286.76,162.32 287.41,162.47 288.06,162.60 288.71,162.72 289.36,162.82 290.01,162.91 290.65,162.97 291.30,163.02 291.95,163.05 292.60,163.06 M267.30,157.21 267.95,157.21 268.60,157.21 269.25,157.21 269.89,157.21 270.54,157.21 271.19,157.21 271.84,157.21 272.49,157.21 273.14,157.21 273.79,157.21 274.44,157.21 275.08,157.21 275.73,157.21 276.38,157.21 277.03,157.21 277.68,157.21 278.33,157.21 278.98,157.21 279.63,157.21 280.27,157.21 280.92,157.21 281.57,157.21 282.22,157.21 282.87,157.21 283.52,157.21 284.17,157.21 284.82,157.21 285.46,157.21 286.11,157.21 286.76,157.21 287.41,157.21 288.06,157.21 288.71,157.21 289.36,157.21 290.01,157.21 290.65,157.21 291.30,157.21 291.95,157.21 292.60,157.21 M292.60,47.73 293.25,47.73 293.89,47.74 294.54,47.75 295.18,47.78 295.83,47.80 296.48,47.83 297.12,47.87 297.77,47.91 298.42,47.96 299.06,48.01 299.71,48.06 300.35,48.12 301.00,48.19 301.65,48.25 302.29,48.32 302.94,48.39 303.58,48.46 304.23,48.53 304.88,48.61 305.52,48.68 306.17,48.75 306.82,48.82 307.46,48.90 308.11,48.97 308.75,49.03 309.40,49.10 310.05,49.16 310.69,49.22 311.34,49.28 311.98,49.33 312.63,49.37 313.28,49.41 313.92,49.45 314.57,49.48 315.22,49.51 315.86,49.53 316.51,49.54 317.15,49.55 317.80,49.56 M292.60,52.66 293.25,52.66 293.89,52.64 294.54,52.62 295.18,52.58 295.83,52.54 296.48,52.49 297.12,52.42 297.77,52.35 298.42,52.27 299.06,52.19 299.71,52.09 300.35,51.99 301.00,51.89 301.65,51.78 302.29,51.66 302.94,51.54 303.58,51.42 304.23,51.30 304.88,51.17 305.52,51.05 306.17,50.92 306.82,50.80 307.46,50.68 308.11,50.56 308.75,50.44 309.40,50.33 310.05,50.23 310.69,50.13 311.34,50.03 311.98,49.95 312.63,49.87 313.28,49.80 313.92,49.73 314.57,49.68 315.22,49.64 315.86,49.60 316.51,49.58 317.15,49.56 317.80,49.56 M292.60,61.62 293.25,61.62 293.89,61.62 294.54,61.61 295.18,61.60 295.83,61.60 296.48,61.59 297.12,61.58 297.77,61.56 298.42,61.55 299.06,61.53 299.71,61.52 300.35,61.50 301.00,61.48 301.65,61.46 302.29,61.44 302.94,61.42 303.58,61.40 304.23,61.38 304.88,61.36 305.52,61.33 306.17,61.31 306.82,61.29 307.46,61.27 308.11,61.25 308.75,61.23 309.40,61.21 310.05,61.19 310.69,61.17 311.34,61.15 311.98,61.14 312.63,61.13 313.28,61.11 313.92,61.10 314.57,61.09 315.22,61.08 315.86,61.08 316.51,61.07 317.15,61.07 317.80,61.07 M292.60,65.46 293.25,65.45 293.89,65.43 294.54,65.39 295.18,65.34 295.83,65.28 296.48,65.21 297.12,65.12 297.77,65.02 298.42,64.91 299.06,64.78 299.71,64.65 300.35,64.51 301.00,64.36 301.65,64.20 302.29,64.04 302.94,63.87 303.58,63.70 304.23,63.53 304.88,63.35 305.52,63.18 306.17,63.00 306.82,62.83 307.46,62.65 308.11,62.49 308.75,62.32 309.40,62.17 310.05,62.02 310.69,61.88 311.34,61.74 311.98,61.62 312.63,61.51 313.28,61.41 313.92,61.32 314.57,61.25 315.22,61.18 315.86,61.13 316.51,61.10 317.15,61.08 317.80,61.07 M292.60,70.39 293.25,70.37 293.89,70.33 294.54,70.25 295.18,70.15 295.83,70.04 296.48,69.91 297.12,69.77 297.77,69.62 298.42,69.48 299.06,69.34 299.71,69.21 300.35,69.10 301.00,69.00 301.65,68.92 302.29,68.87 302.94,68.86 303.58,68.88 304.23,68.94 304.88,69.04 305.52,69.20 306.17,69.40 306.82,69.65 307.46,69.93 308.11,70.24 308.75,70.58 309.40,70.93 310.05,71.30 310.69,71.67 311.34,72.05 311.98,72.41 312.63,72.77 313.28,73.10 313.92,73.41 314.57,73.69 315.22,73.94 315.86,74.14 316.51,74.29 317.15,74.38 317.80,74.41 M292.60,73.32 293.25,73.32 293.89,73.32 294.54,73.33 295.18,73.34 295.83,73.36 296.48,73.38 297.12,73.40 297.77,73.43 298.42,73.45 299.06,73.48 299.71,73.52 300.35,73.55 301.00,73.59 301.65,73.63 302.29,73.67 302.94,73.71 303.58,73.75 304.23,73.80 304.88,73.84 305.52,73.89 306.17,73.93 306.82,73.97 307.46,74.02 308.11,74.06 308.75,74.10 309.40,74.14 310.05,74.18 310.69,74.21 311.34,74.24 311.98,74.28 312.63,74.30 313.28,74.33 313.92,74.35 314.57,74.37 315.22,74.38 315.86,74.40 316.51,74.41 317.15,74.41 317.80,74.41 M292.60,94.70 293.25,94.70 293.89,94.71 294.54,94.71 295.18,94.72 295.83,94.74 296.48,94.75 297.12,94.77 297.77,94.79 298.42,94.82 299.06,94.84 299.71,94.87 300.35,94.90 301.00,94.93 301.65,94.96 302.29,95.00 302.94,95.03 303.58,95.07 304.23,95.10 304.88,95.14 305.52,95.18 306.17,95.21 306.82,95.25 307.46,95.28 308.11,95.32 308.75,95.35 309.40,95.39 310.05,95.42 310.69,95.45 311.34,95.47 311.98,95.50 312.63,95.52 313.28,95.54 313.92,95.56 314.57,95.58 315.22,95.59 315.86,95.60 316.51,95.61 317.15,95.61 317.80,95.61 M292.60,95.25 293.25,95.25 293.89,95.25 294.54,95.25 295.18,95.25 295.83,95.25 296.48,95.25 297.12,95.25 297.77,95.25 298.42,95.25 299.06,95.25 299.71,95.25 300.35,95.25 301.00,95.25 301.65,95.25 302.29,95.25 302.94,95.25 303.58,95.25 304.23,95.25 304.88,95.25 305.52,95.25 306.17,95.25 306.82,95.25 307.46,95.25 308.11,95.25 308.75,95.25 309.40,95.25 310.05,95.25 310.69,95.25 311.34,95.25 311.98,95.25 312.63,95.25 313.28,95.25 313.92,95.25 314.57,95.25 315.22,95.25 315.86,95.25 316.51,95.25 317.15,95.25 317.80,95.25 M292.60,97.08 293.25,97.07 293.89,97.06 294.54,97.05 295.18,97.03 295.83,97.00 296.48,96.97 297.12,96.94 297.77,96.89 298.42,96.85 299.06,96.80 299.71,96.74 300.35,96.68 301.00,96.62 301.65,96.55 302.29,96.49 302.94,96.42 303.58,96.35 304.23,96.27 304.88,96.20 305.52,96.13 306.17,96.05 306.82,95.98 307.46,95.91 308.11,95.84 308.75,95.77 309.40,95.71 310.05,95.64 310.69,95.58 311.34,95.53 311.98,95.48 312.63,95.43 313.28,95.39 313.92,95.35 314.57,95.32 315.22,95.30 315.86,95.28 316.51,95.26 317.15,95.25 317.80,95.25 M292.60,100.91 293.25,100.91 293.89,100.89 294.54,100.87 295.18,100.84 295.83,100.79 296.48,100.74 297.12,100.67 297.77,100.60 298.42,100.52 299.06,100.44 299.71,100.34 300.35,100.24 301.00,100.14 301.65,100.03 302.29,99.91 302.94,99.79 303.58,99.67 304.23,99.55 304.88,99.42 305.52,99.30 306.17,99.17 306.82,99.05 307.46,98.93 308.11,98.81 308.75,98.70 309.40,98.58 310.05,98.48 310.69,98.38 311.34,98.29 311.98,98.20 312.63,98.12 313.28,98.05 313.92,97.99 314.57,97.93 315.22,97.89 315.86,97.85 316.51,97.83 317.15,97.81 317.80,97.81 M292.60,101.28 293.25,101.29 293.89,101.33 294.54,101.39 295.18,101.48 295.83,101.59 296.48,101.72 297.12,101.87 297.77,102.05 298.42,102.25 299.06,102.46 299.71,102.69 300.35,102.94 301.00,103.20 301.65,103.47 302.29,103.76 302.94,104.05 303.58,104.35 304.23,104.66 304.88,104.96 305.52,105.27 306.17,105.58 306.82,105.89 307.46,106.19 308.11,106.48 308.75,106.76 309.40,107.04 310.05,107.30 310.69,107.55 311.34,107.78 311.98,107.99 312.63,108.19 313.28,108.36 313.92,108.52 314.57,108.65 315.22,108.76 315.86,108.85 316.51,108.91 317.15,108.94 317.80,108.96 M292.60,108.23 293.25,108.23 293.89,108.23 294.54,108.24 295.18,108.24 295.83,108.26 296.48,108.27 297.12,108.28 297.77,108.30 298.42,108.32 299.06,108.34 299.71,108.36 300.35,108.38 301.00,108.41 301.65,108.43 302.29,108.46 302.94,108.49 303.58,108.52 304.23,108.55 304.88,108.58 305.52,108.61 306.17,108.64 306.82,108.66 307.46,108.69 308.11,108.72 308.75,108.75 309.40,108.77 310.05,108.80 310.69,108.82 311.34,108.84 311.98,108.87 312.63,108.88 313.28,108.90 313.92,108.92 314.57,108.93 315.22,108.94 315.86,108.95 316.51,108.95 317.15,108.96 317.80,108.96 M292.60,108.23 293.25,108.21 293.89,108.17 294.54,108.10 295.18,108.00 295.83,107.87 296.48,107.71 297.12,107.53 297.77,107.33 298.42,107.10 299.06,106.85 299.71,106.58 300.35,106.29 301.00,105.99 301.65,105.67 302.29,105.34 302.94,104.99 303.58,104.64 304.23,104.29 304.88,103.93 305.52,103.57 306.17,103.21 306.82,102.85 307.46,102.50 308.11,102.16 308.75,101.83 309.40,101.51 310.05,101.20 310.69,100.92 311.34,100.65 311.98,100.40 312.63,100.17 313.28,99.96 313.92,99.78 314.57,99.63 315.22,99.50 315.86,99.40 316.51,99.33 317.15,99.28 317.80,99.27 M292.60,130.89 293.25,130.90 293.89,130.91 294.54,130.94 295.18,130.98 295.83,131.03 296.48,131.09 297.12,131.16 297.77,131.24 298.42,131.33 299.06,131.42 299.71,131.53 300.35,131.64 301.00,131.76 301.65,131.88 302.29,132.01 302.94,132.14 303.58,132.28 304.23,132.42 304.88,132.56 305.52,132.70 306.17,132.84 306.82,132.97 307.46,133.11 308.11,133.24 308.75,133.37 309.40,133.49 310.05,133.61 310.69,133.72 311.34,133.83 311.98,133.93 312.63,134.01 313.28,134.09 313.92,134.16 314.57,134.22 315.22,134.27 315.86,134.31 316.51,134.34 317.15,134.36 317.80,134.36 M292.60,136.19 293.25,136.19 293.89,136.18 294.54,136.16 295.18,136.14 295.83,136.12 296.48,136.09 297.12,136.05 297.77,136.01 298.42,135.96 299.06,135.91 299.71,135.85 300.35,135.80 301.00,135.73 301.65,135.67 302.29,135.60 302.94,135.53 303.58,135.46 304.23,135.39 304.88,135.31 305.52,135.24 306.17,135.17 306.82,135.09 307.46,135.02 308.11,134.95 308.75,134.88 309.40,134.82 310.05,134.76 310.69,134.70 311.34,134.64 311.98,134.59 312.63,134.55 313.28,134.50 313.92,134.47 314.57,134.44 315.22,134.41 315.86,134.39 316.51,134.37 317.15,134.37 317.80,134.36 M292.60,146.43 293.25,146.43 293.89,146.44 294.54,146.46 295.18,146.49 295.83,146.53 296.48,146.57 297.12,146.62 297.77,146.68 298.42,146.75 299.06,146.82 299.71,146.90 300.35,146.98 301.00,147.07 301.65,147.16 302.29,147.25 302.94,147.35 303.58,147.45 304.23,147.55 304.88,147.65 305.52,147.76 306.17,147.86 306.82,147.96 307.46,148.06 308.11,148.16 308.75,148.25 309.40,148.34 310.05,148.43 310.69,148.51 311.34,148.59 311.98,148.66 312.63,148.73 313.28,148.79 313.92,148.84 314.57,148.88 315.22,148.92 315.86,148.95 316.51,148.97 317.15,148.98 317.80,148.98 M292.60,149.90 293.25,149.92 293.89,149.97 294.54,150.05 295.18,150.18 295.83,150.33 296.48,150.52 297.12,150.73 297.77,150.98 298.42,151.25 299.06,151.55 299.71,151.88 300.35,152.23 301.00,152.59 301.65,152.98 302.29,153.38 302.94,153.79 303.58,154.21 304.23,154.64 304.88,155.07 305.52,155.51 306.17,155.94 306.82,156.37 307.46,156.79 308.11,157.20 308.75,157.60 309.40,157.99 310.05,158.35 310.69,158.70 311.34,159.02 311.98,159.33 312.63,159.60 313.28,159.85 313.92,160.06 314.57,160.25 315.22,160.40 315.86,160.52 316.51,160.61 317.15,160.66 317.80,160.68 M292.60,154.10 293.25,154.09 293.89,154.07 294.54,154.03 295.18,153.97 295.83,153.90 296.48,153.81 297.12,153.71 297.77,153.59 298.42,153.46 299.06,153.32 299.71,153.16 300.35,153.00 301.00,152.82 301.65,152.64 302.29,152.45 302.94,152.25 303.58,152.05 304.23,151.85 304.88,151.65 305.52,151.44 306.17,151.23 306.82,151.03 307.46,150.83 308.11,150.64 308.75,150.45 309.40,150.26 310.05,150.09 310.69,149.92 311.34,149.77 311.98,149.63 312.63,149.50 313.28,149.38 313.92,149.28 314.57,149.19 315.22,149.12 315.86,149.06 316.51,149.02 317.15,148.99 317.80,148.98 M292.60,157.21 293.25,157.21 293.89,157.23 294.54,157.26 295.18,157.30 295.83,157.35 296.48,157.41 297.12,157.48 297.77,157.56 298.42,157.65 299.06,157.74 299.71,157.85 300.35,157.96 301.00,158.08 301.65,158.20 302.29,158.33 302.94,158.46 303.58,158.60 304.23,158.74 304.88,158.88 305.52,159.02 306.17,159.15 306.82,159.29 307.46,159.43 308.11,159.56 308.75,159.69 309.40,159.81 310.05,159.93 310.69,160.04 311.34,160.15 311.98,160.24 312.63,160.33 313.28,160.41 313.92,160.48 314.57,160.54 315.22,160.59 315.86,160.63 316.51,160.66 317.15,160.68 317.80,160.68 M292.60,163.06 293.25,163.05 293.89,163.03 294.54,162.99 295.18,162.94 295.83,162.88 296.48,162.80 297.12,162.72 297.77,162.63 298.42,162.53 299.06,162.43 299.71,162.33 300.35,162.22 301.00,162.10 301.65,161.99 302.29,161.88 302.94,161.77 303.58,161.66 304.23,161.56 304.88,161.46 305.52,161.37 306.17,161.28 306.82,161.21 307.46,161.14 308.11,161.07 308.75,161.01 309.40,160.96 310.05,160.91 310.69,160.87 311.34,160.83 311.98,160.80 312.63,160.77 313.28,160.75 313.92,160.73 314.57,160.71 315.22,160.70 315.86,160.69 316.51,160.69 317.15,160.68 317.80,160.68" fill="none" stroke="#ff0000" stroke-width="1.55" stroke-linejoin="round"/>
<line x1="118.1" y1="18.85" x2="118.1" y2="219.9" stroke="#0000ff" stroke-width="1.5"/>
<line x1="139.9" y1="18.85" x2="139.9" y2="219.9" stroke="#0000ff" stroke-width="1.5"/>
<line x1="205.5" y1="18.85" x2="205.5" y2="219.9" stroke="#0000ff" stroke-width="1.5"/>
<line x1="267.3" y1="18.85" x2="267.3" y2="219.9" stroke="#0000ff" stroke-width="1.5"/>
<line x1="292.6" y1="18.85" x2="292.6" y2="219.9" stroke="#0000ff" stroke-width="1.5"/>
<line x1="67.7" y1="201.8" x2="317.8" y2="201.8" stroke="#1b1b1b" stroke-width="1.6" stroke-dasharray="7 6.86" stroke-dashoffset="0.3"/>
<rect x="67.70" y="18.85" width="250.10" height="201.05" fill="none" stroke="#1b1b1b" stroke-width="1.6"/>
<line x1="63.90" y1="201.62" x2="67.70" y2="201.62" stroke="#1b1b1b" stroke-width="1.6"/>
<line x1="63.90" y1="165.07" x2="67.70" y2="165.07" stroke="#1b1b1b" stroke-width="1.6"/>
<line x1="63.90" y1="128.51" x2="67.70" y2="128.51" stroke="#1b1b1b" stroke-width="1.6"/>
<line x1="63.90" y1="91.96" x2="67.70" y2="91.96" stroke="#1b1b1b" stroke-width="1.6"/>
<line x1="63.90" y1="55.40" x2="67.70" y2="55.40" stroke="#1b1b1b" stroke-width="1.6"/>
<line x1="63.90" y1="18.85" x2="67.70" y2="18.85" stroke="#1b1b1b" stroke-width="1.6"/>
<line x1="65.50" y1="219.90" x2="67.70" y2="219.90" stroke="#1b1b1b" stroke-width="1.6"/>
<line x1="65.50" y1="183.35" x2="67.70" y2="183.35" stroke="#1b1b1b" stroke-width="1.6"/>
<line x1="65.50" y1="146.79" x2="67.70" y2="146.79" stroke="#1b1b1b" stroke-width="1.6"/>
<line x1="65.50" y1="110.24" x2="67.70" y2="110.24" stroke="#1b1b1b" stroke-width="1.6"/>
<line x1="65.50" y1="73.68" x2="67.70" y2="73.68" stroke="#1b1b1b" stroke-width="1.6"/>
<line x1="65.50" y1="37.13" x2="67.70" y2="37.13" stroke="#1b1b1b" stroke-width="1.6"/>
<text transform="translate(61.20 206.52) scale(0.9 1)" text-anchor="end" font-family="'Liberation Serif', serif" font-size="16" fill="#111" stroke="#111" stroke-width="0.2">0</text>
<text transform="translate(61.20 169.97) scale(0.9 1)" text-anchor="end" font-family="'Liberation Serif', serif" font-size="16" fill="#111" stroke="#111" stroke-width="0.2">2</text>
<text transform="translate(61.20 133.41) scale(0.9 1)" text-anchor="end" font-family="'Liberation Serif', serif" font-size="16" fill="#111" stroke="#111" stroke-width="0.2">4</text>
<text transform="translate(61.20 96.86) scale(0.9 1)" text-anchor="end" font-family="'Liberation Serif', serif" font-size="16" fill="#111" stroke="#111" stroke-width="0.2">6</text>
<text transform="translate(61.20 60.30) scale(0.9 1)" text-anchor="end" font-family="'Liberation Serif', serif" font-size="16" fill="#111" stroke="#111" stroke-width="0.2">8</text>
<text transform="translate(61.20 23.75) scale(0.9 1)" text-anchor="end" font-family="'Liberation Serif', serif" font-size="16" fill="#111" stroke="#111" stroke-width="0.2">10</text>
<text x="67.50" y="234.20" text-anchor="middle" font-family="'Liberation Serif', serif" font-size="17" fill="#111" stroke="#111" stroke-width="0.2">Γ</text>
<text x="117.70" y="234.20" text-anchor="middle" font-family="'Liberation Serif', serif" font-size="17" fill="#111" stroke="#111" stroke-width="0.2">X</text>
<text x="142.40" y="234.20" text-anchor="middle" font-family="'Liberation Serif', serif" font-size="17" fill="#111" stroke="#111" stroke-width="0.2">U</text>
<text x="205.50" y="234.20" text-anchor="middle" font-family="'Liberation Serif', serif" font-size="17" fill="#111" stroke="#111" stroke-width="0.2">Γ</text>
<text x="271.50" y="234.20" text-anchor="middle" font-family="'Liberation Serif', serif" font-size="17" fill="#111" stroke="#111" stroke-width="0.2">L</text>
<text x="293.60" y="234.20" text-anchor="middle" font-family="'Liberation Serif', serif" font-size="17" fill="#111" stroke="#111" stroke-width="0.2">W</text>
<text x="316.00" y="234.20" text-anchor="middle" font-family="'Liberation Serif', serif" font-size="17" fill="#111" stroke="#111" stroke-width="0.2">X</text>
<text x="194.20" y="14.30" text-anchor="middle" font-family="'Liberation Serif', serif" font-size="17" fill="#111" stroke="#111" stroke-width="0.2">PtTiGe</text>
<text x="42.30" y="171.50" text-anchor="start" font-family="'Liberation Serif', serif" font-size="17" fill="#111" stroke="#111" stroke-width="0.2" transform="rotate(-90 42.30 171.50)">Frequency (THz)</text>
<path d="M65.70,280.21 67.01,280.21 68.32,280.19 69.62,280.17 70.93,280.14 72.24,280.10 73.55,280.05 74.85,279.99 76.16,279.92 77.47,279.85 78.78,279.77 80.08,279.68 81.39,279.59 82.70,279.49 84.01,279.38 85.32,279.27 86.62,279.15 87.93,279.03 89.24,278.90 90.55,278.77 91.85,278.64 93.16,278.50 94.47,278.36 95.78,278.22 97.08,278.07 98.39,277.93 99.70,277.79 101.01,277.66 102.32,277.53 103.62,277.40 104.93,277.28 106.24,277.17 107.55,277.07 108.85,276.98 110.16,276.90 111.47,276.83 112.78,276.77 114.08,276.73 115.39,276.70 116.70,276.70 M65.70,280.72 67.01,280.71 68.32,280.68 69.62,280.64 70.93,280.58 72.24,280.50 73.55,280.42 74.85,280.32 76.16,280.20 77.47,280.08 78.78,279.95 80.08,279.81 81.39,279.67 82.70,279.52 84.01,279.36 85.32,279.20 86.62,279.03 87.93,278.87 89.24,278.70 90.55,278.54 91.85,278.37 93.16,278.21 94.47,278.05 95.78,277.90 97.08,277.75 98.39,277.60 99.70,277.46 101.01,277.33 102.32,277.20 103.62,277.08 104.93,276.97 106.24,276.86 107.55,276.77 108.85,276.69 110.16,276.62 111.47,276.56 112.78,276.51 114.08,276.47 115.39,276.45 116.70,276.44 M65.70,279.96 67.01,279.96 68.32,279.97 69.62,279.98 70.93,279.98 72.24,279.99 73.55,280.00 74.85,280.00 76.16,280.00 77.47,280.00 78.78,279.99 80.08,279.98 81.39,279.96 82.70,279.93 84.01,279.89 85.32,279.84 86.62,279.78 87.93,279.70 89.24,279.62 90.55,279.52 91.85,279.40 93.16,279.27 94.47,279.13 95.78,278.97 97.08,278.81 98.39,278.64 99.70,278.47 101.01,278.30 102.32,278.13 103.62,277.96 104.93,277.80 106.24,277.64 107.55,277.50 108.85,277.37 110.16,277.25 111.47,277.15 112.78,277.06 114.08,277.00 115.39,276.96 116.70,276.95 M65.70,284.99 67.01,284.98 68.32,284.96 69.62,284.92 70.93,284.88 72.24,284.81 73.55,284.73 74.85,284.64 76.16,284.53 77.47,284.40 78.78,284.26 80.08,284.10 81.39,283.92 82.70,283.73 84.01,283.52 85.32,283.30 86.62,283.05 87.93,282.80 89.24,282.53 90.55,282.24 91.85,281.95 93.16,281.64 94.47,281.32 95.78,281.00 97.08,280.66 98.39,280.31 99.70,279.96 101.01,279.60 102.32,279.25 103.62,278.89 104.93,278.54 106.24,278.21 107.55,277.90 108.85,277.61 110.16,277.35 111.47,277.13 112.78,276.95 114.08,276.81 115.39,276.73 116.70,276.70 M65.70,284.74 67.01,284.72 68.32,284.67 69.62,284.58 70.93,284.47 72.24,284.32 73.55,284.16 74.85,283.97 76.16,283.76 77.47,283.53 78.78,283.28 80.08,283.02 81.39,282.75 82.70,282.47 84.01,282.19 85.32,281.90 86.62,281.60 87.93,281.31 89.24,281.01 90.55,280.71 91.85,280.41 93.16,280.11 94.47,279.82 95.78,279.53 97.08,279.25 98.39,278.97 99.70,278.71 101.01,278.45 102.32,278.20 103.62,277.97 104.93,277.75 106.24,277.55 107.55,277.36 108.85,277.19 110.16,277.05 111.47,276.93 112.78,276.83 114.08,276.76 115.39,276.71 116.70,276.70 M65.70,284.99 67.01,285.06 68.32,285.28 69.62,285.64 70.93,286.11 72.24,286.69 73.55,287.37 74.85,288.13 76.16,288.96 77.47,289.85 78.78,290.79 80.08,291.77 81.39,292.77 82.70,293.78 84.01,294.79 85.32,295.80 86.62,296.79 87.93,297.77 89.24,298.73 90.55,299.67 91.85,300.57 93.16,301.44 94.47,302.27 95.78,303.06 97.08,303.79 98.39,304.47 99.70,305.09 101.01,305.64 102.32,306.14 103.62,306.57 104.93,306.95 106.24,307.28 107.55,307.55 108.85,307.78 110.16,307.97 111.47,308.12 112.78,308.23 114.08,308.30 115.39,308.34 116.70,308.35 M65.70,284.74 67.01,284.78 68.32,284.92 69.62,285.13 70.93,285.43 72.24,285.81 73.55,286.27 74.85,286.79 76.16,287.39 77.47,288.05 78.78,288.77 80.08,289.55 81.39,290.38 82.70,291.27 84.01,292.20 85.32,293.18 86.62,294.18 87.93,295.21 89.24,296.25 90.55,297.28 91.85,298.32 93.16,299.33 94.47,300.32 95.78,301.27 97.08,302.18 98.39,303.04 99.70,303.83 101.01,304.55 102.32,305.20 103.62,305.79 104.93,306.30 106.24,306.76 107.55,307.15 108.85,307.48 110.16,307.76 111.47,307.98 112.78,308.15 114.08,308.26 115.39,308.33 116.70,308.35 M65.70,284.99 67.01,285.01 68.32,285.09 69.62,285.20 70.93,285.36 72.24,285.54 73.55,285.75 74.85,285.98 76.16,286.23 77.47,286.49 78.78,286.75 80.08,287.01 81.39,287.26 82.70,287.50 84.01,287.72 85.32,287.93 86.62,288.12 87.93,288.29 89.24,288.45 90.55,288.60 91.85,288.73 93.16,288.84 94.47,288.95 95.78,289.04 97.08,289.12 98.39,289.20 99.70,289.26 101.01,289.31 102.32,289.36 103.62,289.40 104.93,289.43 106.24,289.45 107.55,289.47 108.85,289.49 110.16,289.50 111.47,289.50 112.78,289.51 114.08,289.51 115.39,289.51 116.70,289.51 M65.70,310.87 67.01,310.79 68.32,310.58 69.62,310.24 70.93,309.78 72.24,309.23 73.55,308.58 74.85,307.86 76.16,307.07 77.47,306.23 78.78,305.34 80.08,304.43 81.39,303.51 82.70,302.57 84.01,301.65 85.32,300.74 86.62,299.85 87.93,298.97 89.24,298.12 90.55,297.29 91.85,296.50 93.16,295.73 94.47,295.00 95.78,294.32 97.08,293.67 98.39,293.07 99.70,292.52 101.01,292.03 102.32,291.59 103.62,291.19 104.93,290.84 106.24,290.54 107.55,290.28 108.85,290.07 110.16,289.89 111.47,289.75 112.78,289.64 114.08,289.57 115.39,289.52 116.70,289.51 M65.70,311.12 67.01,311.07 68.32,310.95 69.62,310.74 70.93,310.46 72.24,310.11 73.55,309.68 74.85,309.19 76.16,308.64 77.47,308.03 78.78,307.37 80.08,306.66 81.39,305.89 82.70,305.09 84.01,304.24 85.32,303.36 86.62,302.46 87.93,301.54 89.24,300.61 90.55,299.68 91.85,298.75 93.16,297.84 94.47,296.96 95.78,296.10 97.08,295.28 98.39,294.50 99.70,293.78 101.01,293.12 102.32,292.52 103.62,291.98 104.93,291.49 106.24,291.06 107.55,290.69 108.85,290.37 110.16,290.10 111.47,289.88 112.78,289.72 114.08,289.60 115.39,289.53 116.70,289.51 M65.70,310.87 67.01,310.85 68.32,310.82 69.62,310.76 70.93,310.68 72.24,310.59 73.55,310.49 74.85,310.37 76.16,310.25 77.47,310.12 78.78,309.99 80.08,309.86 81.39,309.73 82.70,309.61 84.01,309.49 85.32,309.39 86.62,309.28 87.93,309.19 89.24,309.10 90.55,309.02 91.85,308.94 93.16,308.88 94.47,308.81 95.78,308.75 97.08,308.70 98.39,308.65 99.70,308.60 101.01,308.56 102.32,308.53 103.62,308.50 104.93,308.47 106.24,308.44 107.55,308.42 108.85,308.40 110.16,308.39 111.47,308.37 112.78,308.37 114.08,308.36 115.39,308.35 116.70,308.35 M65.70,311.12 67.01,311.11 68.32,311.08 69.62,311.04 70.93,310.99 72.24,310.92 73.55,310.84 74.85,310.75 76.16,310.66 77.47,310.55 78.78,310.45 80.08,310.34 81.39,310.22 82.70,310.11 84.01,310.00 85.32,309.89 86.62,309.78 87.93,309.68 89.24,309.57 90.55,309.47 91.85,309.37 93.16,309.28 94.47,309.19 95.78,309.10 97.08,309.01 98.39,308.93 99.70,308.86 101.01,308.79 102.32,308.72 103.62,308.66 104.93,308.60 106.24,308.55 107.55,308.51 108.85,308.47 110.16,308.43 111.47,308.40 112.78,308.38 114.08,308.37 115.39,308.36 116.70,308.35 M65.70,280.21 67.01,280.25 68.32,280.34 69.62,280.50 70.93,280.70 72.24,280.95 73.55,281.23 74.85,281.55 76.16,281.89 77.47,282.25 78.78,282.62 80.08,282.99 81.39,283.37 82.70,283.73 84.01,284.08 85.32,284.42 86.62,284.75 87.93,285.06 89.24,285.37 90.55,285.66 91.85,285.95 93.16,286.22 94.47,286.49 95.78,286.75 97.08,287.00 98.39,287.25 99.70,287.50 101.01,287.74 102.32,287.98 103.62,288.20 104.93,288.42 106.24,288.62 107.55,288.81 108.85,288.98 110.16,289.13 111.47,289.26 112.78,289.37 114.08,289.45 115.39,289.49 116.70,289.51 M65.70,334.99 67.01,334.95 68.32,334.84 69.62,334.67 70.93,334.44 72.24,334.17 73.55,333.86 74.85,333.53 76.16,333.18 77.47,332.82 78.78,332.46 80.08,332.11 81.39,331.78 82.70,331.47 84.01,331.20 85.32,330.96 86.62,330.75 87.93,330.58 89.24,330.44 90.55,330.32 91.85,330.24 93.16,330.17 94.47,330.14 95.78,330.13 97.08,330.13 98.39,330.16 99.70,330.21 101.01,330.28 102.32,330.36 103.62,330.45 104.93,330.55 106.24,330.65 107.55,330.76 108.85,330.86 110.16,330.95 111.47,331.04 112.78,331.11 114.08,331.17 115.39,331.20 116.70,331.22 M65.70,335.24 67.01,335.21 68.32,335.11 69.62,334.97 70.93,334.78 72.24,334.55 73.55,334.30 74.85,334.01 76.16,333.72 77.47,333.41 78.78,333.10 80.08,332.79 81.39,332.50 82.70,332.22 84.01,331.97 85.32,331.75 86.62,331.55 87.93,331.37 89.24,331.22 90.55,331.09 91.85,330.98 93.16,330.89 94.47,330.82 95.78,330.77 97.08,330.73 98.39,330.72 99.70,330.71 101.01,330.73 102.32,330.76 103.62,330.80 104.93,330.84 106.24,330.90 107.55,330.95 108.85,331.01 110.16,331.06 111.47,331.11 112.78,331.15 114.08,331.19 115.39,331.21 116.70,331.22 M65.70,336.49 67.01,336.49 68.32,336.47 69.62,336.45 70.93,336.41 72.24,336.37 73.55,336.32 74.85,336.27 76.16,336.22 77.47,336.16 78.78,336.10 80.08,336.04 81.39,335.99 82.70,335.94 84.01,335.89 85.32,335.84 86.62,335.80 87.93,335.77 89.24,335.75 90.55,335.74 91.85,335.74 93.16,335.75 94.47,335.77 95.78,335.80 97.08,335.84 98.39,335.89 99.70,335.94 101.01,335.99 102.32,336.04 103.62,336.10 104.93,336.16 106.24,336.22 107.55,336.27 108.85,336.32 110.16,336.37 111.47,336.41 112.78,336.45 114.08,336.47 115.39,336.49 116.70,336.49 M65.70,337.25 67.01,337.25 68.32,337.25 69.62,337.26 70.93,337.27 72.24,337.28 73.55,337.28 74.85,337.29 76.16,337.30 77.47,337.31 78.78,337.32 80.08,337.33 81.39,337.33 82.70,337.33 84.01,337.33 85.32,337.32 86.62,337.32 87.93,337.30 89.24,337.28 90.55,337.26 91.85,337.23 93.16,337.20 94.47,337.16 95.78,337.12 97.08,337.07 98.39,337.02 99.70,336.97 101.01,336.92 102.32,336.86 103.62,336.81 104.93,336.76 106.24,336.71 107.55,336.67 108.85,336.63 110.16,336.59 111.47,336.56 112.78,336.53 114.08,336.51 115.39,336.50 116.70,336.49 M65.70,336.49 67.01,336.50 68.32,336.53 69.62,336.58 70.93,336.65 72.24,336.76 73.55,336.89 74.85,337.06 76.16,337.27 77.47,337.52 78.78,337.82 80.08,338.16 81.39,338.56 82.70,339.01 84.01,339.51 85.32,340.07 86.62,340.66 87.93,341.28 89.24,341.93 90.55,342.58 91.85,343.22 93.16,343.86 94.47,344.48 95.78,345.07 97.08,345.61 98.39,346.11 99.70,346.54 101.01,346.91 102.32,347.22 103.62,347.46 104.93,347.65 106.24,347.80 107.55,347.91 108.85,347.98 110.16,348.03 111.47,348.05 112.78,348.06 114.08,348.06 115.39,348.05 116.70,348.05 M65.70,345.54 67.01,345.56 68.32,345.61 69.62,345.69 70.93,345.80 72.24,345.93 73.55,346.08 74.85,346.24 76.16,346.42 77.47,346.60 78.78,346.78 80.08,346.96 81.39,347.13 82.70,347.30 84.01,347.45 85.32,347.59 86.62,347.71 87.93,347.82 89.24,347.92 90.55,348.01 91.85,348.09 93.16,348.15 94.47,348.20 95.78,348.24 97.08,348.27 98.39,348.29 99.70,348.30 101.01,348.30 102.32,348.29 103.62,348.28 104.93,348.25 106.24,348.23 107.55,348.20 108.85,348.17 110.16,348.14 111.47,348.11 112.78,348.09 114.08,348.07 115.39,348.06 116.70,348.05 M65.70,345.29 67.01,345.31 68.32,345.39 69.62,345.51 70.93,345.67 72.24,345.87 73.55,346.08 74.85,346.32 76.16,346.57 77.47,346.83 78.78,347.08 80.08,347.34 81.39,347.58 82.70,347.80 84.01,348.00 85.32,348.18 86.62,348.33 87.93,348.47 89.24,348.58 90.55,348.67 91.85,348.74 93.16,348.80 94.47,348.83 95.78,348.85 97.08,348.85 98.39,348.84 99.70,348.80 101.01,348.76 102.32,348.70 103.62,348.63 104.93,348.56 106.24,348.48 107.55,348.40 108.85,348.33 110.16,348.25 111.47,348.19 112.78,348.13 114.08,348.09 115.39,348.06 116.70,348.05 M65.70,345.54 67.01,345.52 68.32,345.46 69.62,345.37 70.93,345.24 72.24,345.08 73.55,344.89 74.85,344.66 76.16,344.41 77.47,344.13 78.78,343.83 80.08,343.50 81.39,343.15 82.70,342.77 84.01,342.38 85.32,341.98 86.62,341.56 87.93,341.13 89.24,340.71 90.55,340.28 91.85,339.87 93.16,339.46 94.47,339.07 95.78,338.70 97.08,338.35 98.39,338.03 99.70,337.75 101.01,337.50 102.32,337.29 103.62,337.11 104.93,336.96 106.24,336.83 107.55,336.73 108.85,336.65 110.16,336.59 111.47,336.55 112.78,336.52 114.08,336.50 115.39,336.50 116.70,336.49 M65.70,373.18 67.01,373.13 68.32,372.99 69.62,372.79 70.93,372.52 72.24,372.20 73.55,371.86 74.85,371.49 76.16,371.12 77.47,370.76 78.78,370.42 80.08,370.11 81.39,369.85 82.70,369.66 84.01,369.54 85.32,369.49 86.62,369.50 87.93,369.56 89.24,369.68 90.55,369.85 91.85,370.05 93.16,370.28 94.47,370.53 95.78,370.80 97.08,371.09 98.39,371.38 99.70,371.67 101.01,371.95 102.32,372.22 103.62,372.48 104.93,372.73 106.24,372.96 107.55,373.17 108.85,373.36 110.16,373.52 111.47,373.66 112.78,373.78 114.08,373.86 115.39,373.91 116.70,373.93 M65.70,373.18 67.01,373.20 68.32,373.27 69.62,373.38 70.93,373.52 72.24,373.69 73.55,373.89 74.85,374.10 76.16,374.33 77.47,374.56 78.78,374.79 80.08,375.02 81.39,375.23 82.70,375.44 84.01,375.62 85.32,375.78 86.62,375.92 87.93,376.04 89.24,376.13 90.55,376.20 91.85,376.24 93.16,376.26 94.47,376.25 95.78,376.22 97.08,376.15 98.39,376.06 99.70,375.94 101.01,375.79 102.32,375.62 103.62,375.43 104.93,375.23 106.24,375.02 107.55,374.82 108.85,374.62 110.16,374.43 111.47,374.27 112.78,374.13 114.08,374.02 115.39,373.95 116.70,373.93 M65.70,443.27 67.01,439.83 68.32,436.40 69.62,432.97 70.93,429.56 72.24,426.17 73.55,422.81 74.85,419.47 76.16,416.18 77.47,412.95 78.78,409.84 80.08,406.88 81.39,404.11 82.70,401.57 84.01,399.30 85.32,397.30 86.62,395.53 87.93,393.96 89.24,392.54 90.55,391.23 91.85,389.99 93.16,388.77 94.47,387.54 95.78,386.24 97.08,384.88 98.39,383.48 99.70,382.06 101.01,380.65 102.32,379.30 103.62,378.02 104.93,376.84 106.24,375.81 107.55,374.94 108.85,374.26 110.16,373.81 111.47,373.54 112.78,373.42 114.08,373.39 115.39,373.41 116.70,373.43 M65.70,404.83 67.01,404.76 68.32,404.55 69.62,404.22 70.93,403.79 72.24,403.27 73.55,402.68 74.85,402.04 76.16,401.36 77.47,400.67 78.78,399.98 80.08,399.30 81.39,398.65 82.70,398.05 84.01,397.51 85.32,397.05 86.62,396.65 87.93,396.31 89.24,396.05 90.55,395.86 91.85,395.74 93.16,395.69 94.47,395.71 95.78,395.81 97.08,395.98 98.39,396.22 99.70,396.54 101.01,396.94 102.32,397.39 103.62,397.89 104.93,398.42 106.24,398.96 107.55,399.50 108.85,400.02 110.16,400.50 111.47,400.93 112.78,401.30 114.08,401.58 115.39,401.76 116.70,401.82 M65.70,404.83 67.01,404.78 68.32,404.65 69.62,404.43 70.93,404.13 72.24,403.78 73.55,403.38 74.85,402.95 76.16,402.48 77.47,401.99 78.78,401.49 80.08,401.00 81.39,400.52 82.70,400.06 84.01,399.63 85.32,399.24 86.62,398.89 87.93,398.57 89.24,398.30 90.55,398.08 91.85,397.91 93.16,397.78 94.47,397.72 95.78,397.71 97.08,397.76 98.39,397.87 99.70,398.05 101.01,398.29 102.32,398.59 103.62,398.94 104.93,399.31 106.24,399.70 107.55,400.09 108.85,400.47 110.16,400.83 111.47,401.15 112.78,401.42 114.08,401.63 115.39,401.77 116.70,401.82 M65.70,404.58 67.01,404.56 68.32,404.48 69.62,404.36 70.93,404.20 72.24,404.00 73.55,403.77 74.85,403.53 76.16,403.26 77.47,402.98 78.78,402.69 80.08,402.39 81.39,402.10 82.70,401.82 84.01,401.55 85.32,401.29 86.62,401.05 87.93,400.83 89.24,400.63 90.55,400.45 91.85,400.30 93.16,400.18 94.47,400.09 95.78,400.03 97.08,400.00 98.39,400.01 99.70,400.06 101.01,400.15 102.32,400.27 103.62,400.42 104.93,400.59 106.24,400.77 107.55,400.96 108.85,401.14 110.16,401.32 111.47,401.48 112.78,401.62 114.08,401.72 115.39,401.79 116.70,401.82 M65.70,443.27 67.01,440.05 68.32,436.86 69.62,433.73 70.93,430.70 72.24,427.79 73.55,425.02 74.85,422.41 76.16,419.98 77.47,417.72 78.78,415.66 80.08,413.80 81.39,412.13 82.70,410.65 84.01,409.34 85.32,408.19 86.62,407.19 87.93,406.32 89.24,405.58 90.55,404.95 91.85,404.42 93.16,403.98 94.47,403.61 95.78,403.29 97.08,403.02 98.39,402.79 99.70,402.59 101.01,402.42 102.32,402.27 103.62,402.15 104.93,402.06 106.24,401.98 107.55,401.92 108.85,401.88 110.16,401.85 111.47,401.83 112.78,401.82 114.08,401.82 115.39,401.82 116.70,401.82 M65.70,443.27 67.01,440.66 68.32,438.07 69.62,435.50 70.93,432.98 72.24,430.52 73.55,428.13 74.85,425.84 76.16,423.66 77.47,421.59 78.78,419.66 80.08,417.89 81.39,416.26 82.70,414.76 84.01,413.40 85.32,412.15 86.62,411.02 87.93,409.98 89.24,409.04 90.55,408.19 91.85,407.41 93.16,406.71 94.47,406.07 95.78,405.50 97.08,404.98 98.39,404.51 99.70,404.08 101.01,403.70 102.32,403.36 103.62,403.06 104.93,402.80 106.24,402.57 107.55,402.38 108.85,402.22 110.16,402.09 111.47,401.99 112.78,401.91 114.08,401.86 115.39,401.83 116.70,401.82 M65.70,443.27 67.01,441.09 68.32,438.92 69.62,436.76 70.93,434.63 72.24,432.54 73.55,430.49 74.85,428.49 76.16,426.56 77.47,424.70 78.78,422.91 80.08,421.22 81.39,419.62 82.70,418.11 84.01,416.68 85.32,415.34 86.62,414.08 87.93,412.91 89.24,411.82 90.55,410.80 91.85,409.86 93.16,408.98 94.47,408.16 95.78,407.40 97.08,406.70 98.39,406.05 99.70,405.44 101.01,404.89 102.32,404.38 103.62,403.92 104.93,403.51 106.24,403.14 107.55,402.82 108.85,402.55 110.16,402.32 111.47,402.14 112.78,402.00 114.08,401.90 115.39,401.84 116.70,401.82 M116.70,276.70 117.24,276.69 117.79,276.67 118.33,276.64 118.87,276.60 119.42,276.55 119.96,276.48 120.51,276.40 121.05,276.32 121.59,276.22 122.14,276.12 122.68,276.00 123.22,275.88 123.77,275.75 124.31,275.62 124.85,275.48 125.40,275.34 125.94,275.19 126.48,275.04 127.03,274.89 127.57,274.74 128.12,274.58 128.66,274.43 129.20,274.29 129.75,274.14 130.29,274.00 130.83,273.87 131.38,273.74 131.92,273.62 132.46,273.51 133.01,273.40 133.55,273.31 134.09,273.22 134.64,273.14 135.18,273.08 135.73,273.02 136.27,272.98 136.81,272.95 137.36,272.93 137.90,272.93 M116.70,276.70 117.24,276.70 117.79,276.70 118.33,276.70 118.87,276.70 119.42,276.70 119.96,276.70 120.51,276.70 121.05,276.70 121.59,276.70 122.14,276.70 122.68,276.70 123.22,276.70 123.77,276.70 124.31,276.70 124.85,276.70 125.40,276.70 125.94,276.70 126.48,276.70 127.03,276.70 127.57,276.70 128.12,276.70 128.66,276.70 129.20,276.70 129.75,276.70 130.29,276.70 130.83,276.70 131.38,276.70 131.92,276.70 132.46,276.70 133.01,276.70 133.55,276.70 134.09,276.70 134.64,276.70 135.18,276.70 135.73,276.70 136.27,276.70 136.81,276.70 137.36,276.70 137.90,276.70 M116.70,289.51 117.24,289.52 117.79,289.54 118.33,289.57 118.87,289.62 119.42,289.68 119.96,289.75 120.51,289.84 121.05,289.94 121.59,290.05 122.14,290.17 122.68,290.29 123.22,290.43 123.77,290.58 124.31,290.73 124.85,290.89 125.40,291.05 125.94,291.22 126.48,291.39 127.03,291.56 127.57,291.73 128.12,291.90 128.66,292.07 129.20,292.24 129.75,292.40 130.29,292.56 130.83,292.71 131.38,292.86 131.92,293.00 132.46,293.13 133.01,293.24 133.55,293.35 134.09,293.45 134.64,293.54 135.18,293.61 135.73,293.67 136.27,293.72 136.81,293.75 137.36,293.77 137.90,293.78 M116.70,289.51 117.24,289.53 117.79,289.57 118.33,289.65 118.87,289.76 119.42,289.90 119.96,290.07 120.51,290.27 121.05,290.49 121.59,290.74 122.14,291.02 122.68,291.31 123.22,291.63 123.77,291.96 124.31,292.31 124.85,292.67 125.40,293.05 125.94,293.43 126.48,293.82 127.03,294.21 127.57,294.61 128.12,295.00 128.66,295.39 129.20,295.77 129.75,296.15 130.29,296.51 130.83,296.86 131.38,297.19 131.92,297.51 132.46,297.80 133.01,298.08 133.55,298.33 134.09,298.55 134.64,298.75 135.18,298.92 135.73,299.06 136.27,299.17 136.81,299.25 137.36,299.29 137.90,299.31 M116.70,308.35 117.24,308.35 117.79,308.32 118.33,308.28 118.87,308.23 119.42,308.16 119.96,308.08 120.51,307.98 121.05,307.88 121.59,307.75 122.14,307.62 122.68,307.48 123.22,307.32 123.77,307.16 124.31,306.99 124.85,306.81 125.40,306.63 125.94,306.44 126.48,306.25 127.03,306.06 127.57,305.87 128.12,305.68 128.66,305.49 129.20,305.30 129.75,305.12 130.29,304.94 130.83,304.77 131.38,304.61 131.92,304.46 132.46,304.31 133.01,304.18 133.55,304.06 134.09,303.95 134.64,303.85 135.18,303.77 135.73,303.70 136.27,303.65 136.81,303.61 137.36,303.59 137.90,303.58 M116.70,308.35 117.24,308.35 117.79,308.35 118.33,308.35 118.87,308.35 119.42,308.35 119.96,308.35 120.51,308.35 121.05,308.35 121.59,308.35 122.14,308.35 122.68,308.35 123.22,308.35 123.77,308.35 124.31,308.35 124.85,308.35 125.40,308.35 125.94,308.35 126.48,308.35 127.03,308.35 127.57,308.35 128.12,308.35 128.66,308.35 129.20,308.35 129.75,308.35 130.29,308.35 130.83,308.35 131.38,308.35 131.92,308.35 132.46,308.35 133.01,308.35 133.55,308.35 134.09,308.35 134.64,308.35 135.18,308.35 135.73,308.35 136.27,308.35 136.81,308.35 137.36,308.35 137.90,308.35 M116.70,331.22 117.24,331.22 117.79,331.21 118.33,331.21 118.87,331.20 119.42,331.20 119.96,331.19 120.51,331.18 121.05,331.17 121.59,331.15 122.14,331.14 122.68,331.13 123.22,331.11 123.77,331.09 124.31,331.07 124.85,331.06 125.40,331.04 125.94,331.02 126.48,331.00 127.03,330.98 127.57,330.96 128.12,330.94 128.66,330.92 129.20,330.90 129.75,330.88 130.29,330.86 130.83,330.84 131.38,330.82 131.92,330.81 132.46,330.79 133.01,330.78 133.55,330.77 134.09,330.75 134.64,330.74 135.18,330.74 135.73,330.73 136.27,330.72 136.81,330.72 137.36,330.72 137.90,330.71 M116.70,331.22 117.24,331.22 117.79,331.23 118.33,331.25 118.87,331.27 119.42,331.30 119.96,331.33 120.51,331.37 121.05,331.42 121.59,331.47 122.14,331.53 122.68,331.59 123.22,331.65 123.77,331.72 124.31,331.79 124.85,331.87 125.40,331.94 125.94,332.02 126.48,332.10 127.03,332.18 127.57,332.26 128.12,332.34 128.66,332.42 129.20,332.50 129.75,332.58 130.29,332.65 130.83,332.72 131.38,332.79 131.92,332.86 132.46,332.92 133.01,332.97 133.55,333.03 134.09,333.07 134.64,333.11 135.18,333.15 135.73,333.18 136.27,333.20 136.81,333.21 137.36,333.22 137.90,333.23 M116.70,336.49 117.24,336.49 117.79,336.49 118.33,336.48 118.87,336.47 119.42,336.45 119.96,336.44 120.51,336.42 121.05,336.39 121.59,336.37 122.14,336.34 122.68,336.31 123.22,336.28 123.77,336.24 124.31,336.21 124.85,336.17 125.40,336.13 125.94,336.09 126.48,336.05 127.03,336.01 127.57,335.97 128.12,335.93 128.66,335.89 129.20,335.85 129.75,335.81 130.29,335.78 130.83,335.74 131.38,335.71 131.92,335.67 132.46,335.64 133.01,335.62 133.55,335.59 134.09,335.57 134.64,335.55 135.18,335.53 135.73,335.51 136.27,335.50 136.81,335.50 137.36,335.49 137.90,335.49 M116.70,336.49 117.24,336.50 117.79,336.50 118.33,336.51 118.87,336.53 119.42,336.54 119.96,336.57 120.51,336.59 121.05,336.62 121.59,336.65 122.14,336.69 122.68,336.72 123.22,336.77 123.77,336.81 124.31,336.85 124.85,336.90 125.40,336.95 125.94,337.00 126.48,337.05 127.03,337.10 127.57,337.15 128.12,337.20 128.66,337.25 129.20,337.30 129.75,337.34 130.29,337.39 130.83,337.44 131.38,337.48 131.92,337.52 132.46,337.56 133.01,337.59 133.55,337.62 134.09,337.65 134.64,337.68 135.18,337.70 135.73,337.72 136.27,337.73 136.81,337.74 137.36,337.75 137.90,337.75 M116.70,348.05 117.24,348.04 117.79,348.01 118.33,347.96 118.87,347.88 119.42,347.79 119.96,347.68 120.51,347.55 121.05,347.40 121.59,347.23 122.14,347.05 122.68,346.85 123.22,346.64 123.77,346.42 124.31,346.19 124.85,345.94 125.40,345.69 125.94,345.44 126.48,345.18 127.03,344.92 127.57,344.65 128.12,344.39 128.66,344.13 129.20,343.88 129.75,343.63 130.29,343.38 130.83,343.15 131.38,342.93 131.92,342.72 132.46,342.52 133.01,342.34 133.55,342.17 134.09,342.02 134.64,341.89 135.18,341.78 135.73,341.69 136.27,341.61 136.81,341.56 137.36,341.53 137.90,341.52 M116.70,348.05 117.24,348.05 117.79,348.05 118.33,348.06 118.87,348.06 119.42,348.07 119.96,348.08 120.51,348.09 121.05,348.10 121.59,348.11 122.14,348.13 122.68,348.14 123.22,348.16 123.77,348.18 124.31,348.19 124.85,348.21 125.40,348.23 125.94,348.25 126.48,348.27 127.03,348.29 127.57,348.31 128.12,348.33 128.66,348.35 129.20,348.37 129.75,348.39 130.29,348.41 130.83,348.43 131.38,348.45 131.92,348.46 132.46,348.48 133.01,348.49 133.55,348.50 134.09,348.51 134.64,348.52 135.18,348.53 135.73,348.54 136.27,348.55 136.81,348.55 137.36,348.55 137.90,348.55 M116.70,373.43 117.24,373.42 117.79,373.41 118.33,373.38 118.87,373.35 119.42,373.31 119.96,373.25 120.51,373.19 121.05,373.13 121.59,373.05 122.14,372.96 122.68,372.87 123.22,372.78 123.77,372.67 124.31,372.57 124.85,372.45 125.40,372.34 125.94,372.22 126.48,372.10 127.03,371.98 127.57,371.86 128.12,371.74 128.66,371.62 129.20,371.50 129.75,371.39 130.29,371.27 130.83,371.17 131.38,371.06 131.92,370.97 132.46,370.88 133.01,370.79 133.55,370.71 134.09,370.65 134.64,370.59 135.18,370.53 135.73,370.49 136.27,370.46 136.81,370.43 137.36,370.42 137.90,370.41 M116.70,373.43 117.24,373.43 117.79,373.45 118.33,373.47 118.87,373.50 119.42,373.54 119.96,373.59 120.51,373.64 121.05,373.70 121.59,373.78 122.14,373.85 122.68,373.94 123.22,374.02 123.77,374.12 124.31,374.22 124.85,374.32 125.40,374.42 125.94,374.53 126.48,374.64 127.03,374.75 127.57,374.87 128.12,374.98 128.66,375.09 129.20,375.19 129.75,375.30 130.29,375.40 130.83,375.50 131.38,375.59 131.92,375.68 132.46,375.77 133.01,375.84 133.55,375.91 134.09,375.98 134.64,376.03 135.18,376.08 135.73,376.12 136.27,376.15 136.81,376.17 137.36,376.19 137.90,376.19 M116.70,373.43 117.24,373.44 117.79,373.46 118.33,373.50 118.87,373.56 119.42,373.63 119.96,373.72 120.51,373.82 121.05,373.93 121.59,374.06 122.14,374.20 122.68,374.35 123.22,374.51 123.77,374.68 124.31,374.86 124.85,375.05 125.40,375.24 125.94,375.44 126.48,375.64 127.03,375.84 127.57,376.04 128.12,376.24 128.66,376.44 129.20,376.64 129.75,376.83 130.29,377.02 130.83,377.20 131.38,377.37 131.92,377.53 132.46,377.68 133.01,377.82 133.55,377.95 134.09,378.06 134.64,378.16 135.18,378.25 135.73,378.32 136.27,378.38 136.81,378.42 137.36,378.44 137.90,378.45 M116.70,401.82 117.24,401.81 117.79,401.77 118.33,401.71 118.87,401.62 119.42,401.52 119.96,401.39 120.51,401.24 121.05,401.06 121.59,400.87 122.14,400.66 122.68,400.43 123.22,400.19 123.77,399.93 124.31,399.67 124.85,399.39 125.40,399.10 125.94,398.80 126.48,398.50 127.03,398.20 127.57,397.90 128.12,397.60 128.66,397.30 129.20,397.00 129.75,396.71 130.29,396.43 130.83,396.17 131.38,395.91 131.92,395.67 132.46,395.44 133.01,395.23 133.55,395.04 134.09,394.86 134.64,394.71 135.18,394.58 135.73,394.48 136.27,394.39 136.81,394.33 137.36,394.29 137.90,394.28 M116.70,401.82 117.24,401.81 117.79,401.80 118.33,401.78 118.87,401.75 119.42,401.72 119.96,401.67 120.51,401.62 121.05,401.57 121.59,401.50 122.14,401.43 122.68,401.36 123.22,401.28 123.77,401.19 124.31,401.10 124.85,401.01 125.40,400.91 125.94,400.81 126.48,400.71 127.03,400.61 127.57,400.51 128.12,400.41 128.66,400.31 129.20,400.21 129.75,400.12 130.29,400.02 130.83,399.93 131.38,399.85 131.92,399.77 132.46,399.69 133.01,399.62 133.55,399.56 134.09,399.50 134.64,399.45 135.18,399.41 135.73,399.37 136.27,399.34 136.81,399.32 137.36,399.31 137.90,399.31 M116.70,401.82 117.24,401.82 117.79,401.84 118.33,401.86 118.87,401.90 119.42,401.94 119.96,401.99 120.51,402.05 121.05,402.12 121.59,402.20 122.14,402.28 122.68,402.37 123.22,402.47 123.77,402.57 124.31,402.68 124.85,402.79 125.40,402.91 125.94,403.02 126.48,403.14 127.03,403.27 127.57,403.39 128.12,403.51 128.66,403.63 129.20,403.75 129.75,403.86 130.29,403.97 130.83,404.08 131.38,404.18 131.92,404.28 132.46,404.37 133.01,404.45 133.55,404.53 134.09,404.60 134.64,404.66 135.18,404.71 135.73,404.76 136.27,404.79 136.81,404.81 137.36,404.83 137.90,404.83 M137.90,273.18 139.59,273.17 141.28,273.13 142.97,273.08 144.66,273.02 146.35,272.95 148.04,272.89 149.73,272.83 151.42,272.78 153.11,272.75 154.80,272.75 156.49,272.77 158.18,272.83 159.87,272.93 161.56,273.07 163.25,273.25 164.94,273.48 166.63,273.73 168.32,274.02 170.01,274.33 171.69,274.67 173.38,275.02 175.07,275.39 176.76,275.77 178.45,276.16 180.14,276.56 181.83,276.95 183.52,277.34 185.21,277.71 186.90,278.08 188.59,278.43 190.28,278.76 191.97,279.07 193.66,279.35 195.35,279.60 197.04,279.81 198.73,279.98 200.42,280.11 202.11,280.19 203.80,280.21 M137.90,274.94 139.59,274.92 141.28,274.90 142.97,274.88 144.66,274.88 146.35,274.93 148.04,275.04 149.73,275.22 151.42,275.51 153.11,275.89 154.80,276.38 156.49,276.94 158.18,277.56 159.87,278.22 161.56,278.91 163.25,279.61 164.94,280.31 166.63,280.98 168.32,281.62 170.01,282.21 171.69,282.72 173.38,283.16 175.07,283.54 176.76,283.85 178.45,284.10 180.14,284.30 181.83,284.46 183.52,284.58 185.21,284.66 186.90,284.72 188.59,284.77 190.28,284.79 191.97,284.80 193.66,284.80 195.35,284.79 197.04,284.78 198.73,284.77 200.42,284.75 202.11,284.74 203.80,284.74 M137.90,279.71 139.59,279.70 141.28,279.67 142.97,279.62 144.66,279.57 146.35,279.51 148.04,279.46 149.73,279.41 151.42,279.38 153.11,279.37 154.80,279.37 156.49,279.41 158.18,279.49 159.87,279.59 161.56,279.73 163.25,279.89 164.94,280.07 166.63,280.26 168.32,280.45 170.01,280.63 171.69,280.81 173.38,280.96 175.07,281.09 176.76,281.19 178.45,281.25 180.14,281.27 181.83,281.26 183.52,281.22 185.21,281.16 186.90,281.07 188.59,280.97 190.28,280.86 191.97,280.75 193.66,280.64 195.35,280.53 197.04,280.43 198.73,280.34 200.42,280.27 202.11,280.23 203.80,280.21 M137.90,293.03 139.59,293.05 141.28,293.10 142.97,293.17 144.66,293.26 146.35,293.36 148.04,293.46 149.73,293.55 151.42,293.63 153.11,293.69 154.80,293.71 156.49,293.70 158.18,293.65 159.87,293.54 161.56,293.37 163.25,293.13 164.94,292.82 166.63,292.43 168.32,291.95 170.01,291.39 171.69,290.79 173.38,290.14 175.07,289.46 176.76,288.76 178.45,288.07 180.14,287.38 181.83,286.69 183.52,286.01 185.21,285.33 186.90,284.66 188.59,284.00 190.28,283.36 191.97,282.73 193.66,282.15 195.35,281.61 197.04,281.15 198.73,280.76 200.42,280.47 202.11,280.28 203.80,280.21 M137.90,294.28 139.59,294.30 141.28,294.34 142.97,294.39 144.66,294.46 146.35,294.54 148.04,294.62 149.73,294.69 151.42,294.74 153.11,294.78 154.80,294.80 156.49,294.78 158.18,294.73 159.87,294.63 161.56,294.49 163.25,294.29 164.94,294.03 166.63,293.70 168.32,293.30 170.01,292.84 171.69,292.32 173.38,291.76 175.07,291.16 176.76,290.52 178.45,289.86 180.14,289.19 181.83,288.53 183.52,287.89 185.21,287.29 186.90,286.74 188.59,286.26 190.28,285.85 191.97,285.53 193.66,285.27 195.35,285.08 197.04,284.93 198.73,284.84 200.42,284.78 202.11,284.74 203.80,284.74 M137.90,298.81 139.59,298.91 141.28,299.18 142.97,299.56 144.66,299.96 146.35,300.33 148.04,300.60 149.73,300.71 151.42,300.68 153.11,300.52 154.80,300.24 156.49,299.86 158.18,299.39 159.87,298.84 161.56,298.22 163.25,297.56 164.94,296.85 166.63,296.12 168.32,295.38 170.01,294.64 171.69,293.88 173.38,293.13 175.07,292.39 176.76,291.66 178.45,290.94 180.14,290.25 181.83,289.58 183.52,288.94 185.21,288.33 186.90,287.76 188.59,287.23 190.28,286.74 191.97,286.30 193.66,285.90 195.35,285.56 197.04,285.27 198.73,285.04 200.42,284.87 202.11,284.77 203.80,284.74 M137.90,302.07 139.59,302.03 141.28,301.91 142.97,301.74 144.66,301.52 146.35,301.28 148.04,301.03 149.73,300.78 151.42,300.53 153.11,300.28 154.80,300.01 156.49,299.73 158.18,299.43 159.87,299.11 161.56,298.75 163.25,298.35 164.94,297.92 166.63,297.43 168.32,296.90 170.01,296.32 171.69,295.68 173.38,294.99 175.07,294.23 176.76,293.42 178.45,292.55 180.14,291.61 181.83,290.61 183.52,289.56 185.21,288.47 186.90,287.38 188.59,286.29 190.28,285.23 191.97,284.22 193.66,283.28 195.35,282.43 197.04,281.68 198.73,281.07 200.42,280.61 202.11,280.32 203.80,280.21 M137.90,306.34 139.59,306.34 141.28,306.34 142.97,306.34 144.66,306.33 146.35,306.31 148.04,306.29 149.73,306.25 151.42,306.19 153.11,306.13 154.80,306.04 156.49,305.93 158.18,305.80 159.87,305.65 161.56,305.49 163.25,305.33 164.94,305.18 166.63,305.06 168.32,304.97 170.01,304.93 171.69,304.94 173.38,305.03 175.07,305.19 176.76,305.42 178.45,305.73 180.14,306.09 181.83,306.49 183.52,306.93 185.21,307.38 186.90,307.85 188.59,308.32 190.28,308.77 191.97,309.20 193.66,309.59 195.35,309.95 197.04,310.26 198.73,310.51 200.42,310.70 202.11,310.82 203.80,310.87 M137.90,304.58 139.59,304.59 141.28,304.59 142.97,304.58 144.66,304.57 146.35,304.55 148.04,304.51 149.73,304.45 151.42,304.37 153.11,304.27 154.80,304.14 156.49,303.97 158.18,303.77 159.87,303.53 161.56,303.28 163.25,303.03 164.94,302.79 166.63,302.59 168.32,302.44 170.01,302.37 171.69,302.37 173.38,302.49 175.07,302.72 176.76,303.07 178.45,303.52 180.14,304.05 181.83,304.65 183.52,305.29 185.21,305.97 186.90,306.65 188.59,307.33 190.28,307.98 191.97,308.59 193.66,309.14 195.35,309.63 197.04,310.05 198.73,310.40 200.42,310.65 202.11,310.81 203.80,310.87 M137.90,307.60 139.59,307.60 141.28,307.60 142.97,307.59 144.66,307.58 146.35,307.56 148.04,307.54 149.73,307.50 151.42,307.44 153.11,307.38 154.80,307.29 156.49,307.18 158.18,307.06 159.87,306.91 161.56,306.75 163.25,306.60 164.94,306.46 166.63,306.34 168.32,306.25 170.01,306.20 171.69,306.21 173.38,306.29 175.07,306.44 176.76,306.66 178.45,306.94 180.14,307.27 181.83,307.63 183.52,308.02 185.21,308.42 186.90,308.81 188.59,309.19 190.28,309.54 191.97,309.86 193.66,310.13 195.35,310.35 197.04,310.54 198.73,310.68 200.42,310.78 202.11,310.85 203.80,310.87 M137.90,304.58 139.59,304.61 141.28,304.67 142.97,304.77 144.66,304.90 146.35,305.06 148.04,305.24 149.73,305.43 151.42,305.63 153.11,305.83 154.80,306.03 156.49,306.22 158.18,306.40 159.87,306.55 161.56,306.65 163.25,306.67 164.94,306.58 166.63,306.37 168.32,306.00 170.01,305.44 171.69,304.68 173.38,303.71 175.07,302.56 176.76,301.28 178.45,299.89 180.14,298.42 181.83,296.91 183.52,295.39 185.21,293.88 186.90,292.42 188.59,291.03 190.28,289.75 191.97,288.60 193.66,287.60 195.35,286.74 197.04,286.02 198.73,285.47 200.42,285.06 202.11,284.82 203.80,284.74 M137.90,306.34 139.59,306.35 141.28,306.37 142.97,306.39 144.66,306.43 146.35,306.48 148.04,306.54 149.73,306.62 151.42,306.70 153.11,306.79 154.80,306.90 156.49,307.01 158.18,307.14 159.87,307.26 161.56,307.36 163.25,307.40 164.94,307.35 166.63,307.19 168.32,306.89 170.01,306.41 171.69,305.72 173.38,304.84 175.07,303.79 176.76,302.61 178.45,301.33 180.14,299.98 181.83,298.59 183.52,297.18 185.21,295.75 186.90,294.33 188.59,292.92 190.28,291.54 191.97,290.21 193.66,288.95 195.35,287.80 197.04,286.78 198.73,285.93 200.42,285.29 202.11,284.88 203.80,284.74 M137.90,330.21 139.59,330.19 141.28,330.14 142.97,330.06 144.66,329.95 146.35,329.83 148.04,329.69 149.73,329.55 151.42,329.41 153.11,329.28 154.80,329.17 156.49,329.07 158.18,329.00 159.87,328.96 161.56,328.95 163.25,328.98 164.94,329.05 166.63,329.15 168.32,329.29 170.01,329.46 171.69,329.66 173.38,329.89 175.07,330.15 176.76,330.44 178.45,330.75 180.14,331.10 181.83,331.47 183.52,331.86 185.21,332.27 186.90,332.69 188.59,333.11 190.28,333.52 191.97,333.91 193.66,334.28 195.35,334.62 197.04,334.91 198.73,335.15 200.42,335.33 202.11,335.45 203.80,335.49 M137.90,330.97 139.59,330.95 141.28,330.89 142.97,330.80 144.66,330.69 146.35,330.57 148.04,330.43 149.73,330.29 151.42,330.15 153.11,330.02 154.80,329.90 156.49,329.81 158.18,329.74 159.87,329.71 161.56,329.72 163.25,329.77 164.94,329.85 166.63,329.97 168.32,330.12 170.01,330.30 171.69,330.51 173.38,330.74 175.07,331.00 176.76,331.28 178.45,331.58 180.14,331.89 181.83,332.22 183.52,332.56 185.21,332.91 186.90,333.26 188.59,333.60 190.28,333.94 191.97,334.25 193.66,334.55 195.35,334.81 197.04,335.04 198.73,335.23 200.42,335.37 202.11,335.46 203.80,335.49 M137.90,331.72 139.59,331.70 141.28,331.66 142.97,331.59 144.66,331.50 146.35,331.40 148.04,331.29 149.73,331.18 151.42,331.07 153.11,330.96 154.80,330.87 156.49,330.80 158.18,330.74 159.87,330.71 161.56,330.72 163.25,330.75 164.94,330.82 166.63,330.91 168.32,331.03 170.01,331.17 171.69,331.33 173.38,331.52 175.07,331.73 176.76,331.95 178.45,332.20 180.14,332.45 181.83,332.72 183.52,333.01 185.21,333.30 186.90,333.59 188.59,333.88 190.28,334.16 191.97,334.43 193.66,334.68 195.35,334.91 197.04,335.10 198.73,335.26 200.42,335.39 202.11,335.46 203.80,335.49 M137.90,333.98 139.59,333.98 141.28,333.98 142.97,333.97 144.66,333.96 146.35,333.95 148.04,333.95 149.73,333.94 151.42,333.94 153.11,333.94 154.80,333.94 156.49,333.95 158.18,333.96 159.87,333.98 161.56,334.01 163.25,334.04 164.94,334.08 166.63,334.13 168.32,334.18 170.01,334.23 171.69,334.29 173.38,334.36 175.07,334.43 176.76,334.50 178.45,334.58 180.14,334.65 181.83,334.73 183.52,334.82 185.21,334.90 186.90,334.98 188.59,335.06 190.28,335.14 191.97,335.21 193.66,335.28 195.35,335.34 197.04,335.39 198.73,335.43 200.42,335.46 202.11,335.48 203.80,335.49 M137.90,334.73 139.59,334.72 141.28,334.66 142.97,334.57 144.66,334.46 146.35,334.33 148.04,334.19 149.73,334.04 151.42,333.88 153.11,333.72 154.80,333.58 156.49,333.44 158.18,333.32 159.87,333.23 161.56,333.16 163.25,333.12 164.94,333.11 166.63,333.11 168.32,333.14 170.01,333.19 171.69,333.26 173.38,333.35 175.07,333.45 176.76,333.57 178.45,333.70 180.14,333.83 181.83,333.98 183.52,334.14 185.21,334.29 186.90,334.45 188.59,334.61 190.28,334.76 191.97,334.91 193.66,335.05 195.35,335.17 197.04,335.28 198.73,335.37 200.42,335.43 202.11,335.47 203.80,335.49 M137.90,337.75 139.59,337.75 141.28,337.73 142.97,337.71 144.66,337.68 146.35,337.64 148.04,337.60 149.73,337.56 151.42,337.51 153.11,337.46 154.80,337.40 156.49,337.35 158.18,337.30 159.87,337.25 161.56,337.20 163.25,337.15 164.94,337.10 166.63,337.06 168.32,337.01 170.01,336.96 171.69,336.91 173.38,336.85 175.07,336.79 176.76,336.73 178.45,336.66 180.14,336.58 181.83,336.49 183.52,336.40 185.21,336.30 186.90,336.20 188.59,336.10 190.28,335.99 191.97,335.89 193.66,335.80 195.35,335.72 197.04,335.64 198.73,335.58 200.42,335.53 202.11,335.50 203.80,335.49 M137.90,340.76 139.59,340.75 141.28,340.70 142.97,340.63 144.66,340.55 146.35,340.46 148.04,340.36 149.73,340.28 151.42,340.20 153.11,340.15 154.80,340.12 156.49,340.12 158.18,340.17 159.87,340.26 161.56,340.41 163.25,340.60 164.94,340.84 166.63,341.11 168.32,341.41 170.01,341.73 171.69,342.07 173.38,342.41 175.07,342.76 176.76,343.10 178.45,343.43 180.14,343.74 181.83,344.03 183.52,344.29 185.21,344.52 186.90,344.72 188.59,344.90 190.28,345.05 191.97,345.18 193.66,345.28 195.35,345.37 197.04,345.43 198.73,345.48 200.42,345.51 202.11,345.53 203.80,345.54 M137.90,344.78 139.59,344.79 141.28,344.80 142.97,344.80 144.66,344.81 146.35,344.80 148.04,344.79 149.73,344.75 151.42,344.70 153.11,344.63 154.80,344.53 156.49,344.40 158.18,344.23 159.87,344.03 161.56,343.79 163.25,343.50 164.94,343.19 166.63,342.84 168.32,342.47 170.01,342.07 171.69,341.65 173.38,341.23 175.07,340.79 176.76,340.34 178.45,339.89 180.14,339.45 181.83,339.01 183.52,338.57 185.21,338.16 186.90,337.76 188.59,337.37 190.28,337.02 191.97,336.69 193.66,336.39 195.35,336.13 197.04,335.91 198.73,335.73 200.42,335.60 202.11,335.52 203.80,335.49 M137.90,347.80 139.59,347.80 141.28,347.78 142.97,347.76 144.66,347.73 146.35,347.69 148.04,347.65 149.73,347.61 151.42,347.56 153.11,347.51 154.80,347.45 156.49,347.40 158.18,347.35 159.87,347.30 161.56,347.25 163.25,347.20 164.94,347.15 166.63,347.11 168.32,347.06 170.01,347.01 171.69,346.96 173.38,346.90 175.07,346.84 176.76,346.78 178.45,346.71 180.14,346.63 181.83,346.54 183.52,346.45 185.21,346.35 186.90,346.25 188.59,346.15 190.28,346.04 191.97,345.94 193.66,345.85 195.35,345.77 197.04,345.69 198.73,345.63 200.42,345.58 202.11,345.55 203.80,345.54 M137.90,351.32 139.59,351.33 141.28,351.36 142.97,351.40 144.66,351.45 146.35,351.52 148.04,351.59 149.73,351.67 151.42,351.75 153.11,351.83 154.80,351.90 156.49,351.97 158.18,352.03 159.87,352.07 161.56,352.10 163.25,352.12 164.94,352.11 166.63,352.08 168.32,352.02 170.01,351.94 171.69,351.82 173.38,351.67 175.07,351.48 176.76,351.26 178.45,350.99 180.14,350.67 181.83,350.31 183.52,349.90 185.21,349.45 186.90,348.98 188.59,348.49 190.28,348.01 191.97,347.53 193.66,347.07 195.35,346.66 197.04,346.29 198.73,345.98 200.42,345.74 202.11,345.59 203.80,345.54 M137.90,354.33 139.59,354.34 141.28,354.35 142.97,354.36 144.66,354.37 146.35,354.39 148.04,354.39 149.73,354.39 151.42,354.38 153.11,354.36 154.80,354.32 156.49,354.26 158.18,354.18 159.87,354.08 161.56,353.95 163.25,353.80 164.94,353.61 166.63,353.40 168.32,353.17 170.01,352.90 171.69,352.61 173.38,352.30 175.07,351.95 176.76,351.58 178.45,351.19 180.14,350.76 181.83,350.31 183.52,349.84 185.21,349.34 186.90,348.84 188.59,348.35 190.28,347.86 191.97,347.39 193.66,346.96 195.35,346.57 197.04,346.22 198.73,345.94 200.42,345.72 202.11,345.59 203.80,345.54 M137.90,361.37 139.59,361.34 141.28,361.28 142.97,361.19 144.66,361.07 146.35,360.95 148.04,360.83 149.73,360.72 151.42,360.63 153.11,360.57 154.80,360.56 156.49,360.59 158.18,360.69 159.87,360.87 161.56,361.12 163.25,361.45 164.94,361.84 166.63,362.30 168.32,362.81 170.01,363.37 171.69,363.96 173.38,364.59 175.07,365.23 176.76,365.90 178.45,366.57 180.14,367.24 181.83,367.90 183.52,368.55 185.21,369.18 186.90,369.78 188.59,370.35 190.28,370.89 191.97,371.38 193.66,371.82 195.35,372.21 197.04,372.54 198.73,372.81 200.42,373.01 202.11,373.13 203.80,373.18 M137.90,364.88 139.59,364.93 141.28,365.05 142.97,365.24 144.66,365.51 146.35,365.84 148.04,366.24 149.73,366.70 151.42,367.21 153.11,367.76 154.80,368.37 156.49,369.01 158.18,369.70 159.87,370.41 161.56,371.16 163.25,371.91 164.94,372.67 166.63,373.42 168.32,374.14 170.01,374.83 171.69,375.46 173.38,376.03 175.07,376.53 176.76,376.93 178.45,377.22 180.14,377.40 181.83,377.45 183.52,377.36 185.21,377.14 186.90,376.83 188.59,376.44 190.28,375.99 191.97,375.52 193.66,375.03 195.35,374.56 197.04,374.12 198.73,373.74 200.42,373.44 202.11,373.25 203.80,373.18 M137.90,375.69 139.59,375.68 141.28,375.67 142.97,375.65 144.66,375.61 146.35,375.57 148.04,375.52 149.73,375.46 151.42,375.40 153.11,375.32 154.80,375.24 156.49,375.14 158.18,375.04 159.87,374.93 161.56,374.82 163.25,374.70 164.94,374.57 166.63,374.44 168.32,374.31 170.01,374.18 171.69,374.06 173.38,373.93 175.07,373.81 176.76,373.70 178.45,373.60 180.14,373.51 181.83,373.43 183.52,373.36 185.21,373.31 186.90,373.26 188.59,373.23 190.28,373.21 191.97,373.19 193.66,373.18 195.35,373.17 197.04,373.17 198.73,373.17 200.42,373.17 202.11,373.18 203.80,373.18 M137.90,382.97 139.59,382.95 141.28,382.88 142.97,382.78 144.66,382.66 146.35,382.51 148.04,382.36 149.73,382.21 151.42,382.08 153.11,381.96 154.80,381.86 156.49,381.81 158.18,381.80 159.87,381.84 161.56,381.95 163.25,382.13 164.94,382.39 166.63,382.74 168.32,383.19 170.01,383.75 171.69,384.44 173.38,385.28 175.07,386.28 176.76,387.47 178.45,388.86 180.14,390.42 181.83,392.10 183.52,393.84 185.21,395.59 186.90,397.29 188.59,398.88 190.28,400.30 191.97,401.51 193.66,402.50 195.35,403.29 197.04,403.89 198.73,404.33 200.42,404.62 202.11,404.78 203.80,404.83 M137.90,394.28 139.59,394.28 141.28,394.29 142.97,394.30 144.66,394.32 146.35,394.34 148.04,394.38 149.73,394.43 151.42,394.49 153.11,394.56 154.80,394.65 156.49,394.76 158.18,394.89 159.87,395.03 161.56,395.20 163.25,395.40 164.94,395.61 166.63,395.86 168.32,396.12 170.01,396.42 171.69,396.74 173.38,397.09 175.07,397.47 176.76,397.88 178.45,398.32 180.14,398.80 181.83,399.31 183.52,399.85 185.21,400.41 186.90,400.99 188.59,401.56 190.28,402.13 191.97,402.67 193.66,403.17 195.35,403.63 197.04,404.03 198.73,404.37 200.42,404.62 202.11,404.78 203.80,404.83 M137.90,395.54 139.59,395.53 141.28,395.52 142.97,395.51 144.66,395.50 146.35,395.50 148.04,395.50 149.73,395.52 151.42,395.54 153.11,395.59 154.80,395.66 156.49,395.76 158.18,395.88 159.87,396.04 161.56,396.23 163.25,396.46 164.94,396.71 166.63,397.00 168.32,397.31 170.01,397.65 171.69,398.01 173.38,398.40 175.07,398.80 176.76,399.22 178.45,399.66 180.14,400.10 181.83,400.56 183.52,401.03 185.21,401.50 186.90,401.96 188.59,402.42 190.28,402.85 191.97,403.26 193.66,403.64 195.35,403.97 197.04,404.26 198.73,404.50 200.42,404.68 202.11,404.79 203.80,404.83 M137.90,396.79 139.59,396.78 141.28,396.76 142.97,396.72 144.66,396.68 146.35,396.63 148.04,396.59 149.73,396.55 151.42,396.53 153.11,396.53 154.80,396.55 156.49,396.59 158.18,396.68 159.87,396.79 161.56,396.95 163.25,397.15 164.94,397.39 166.63,397.66 168.32,397.96 170.01,398.29 171.69,398.64 173.38,399.01 175.07,399.40 176.76,399.80 178.45,400.21 180.14,400.64 181.83,401.06 183.52,401.49 185.21,401.92 186.90,402.34 188.59,402.74 190.28,403.12 191.97,403.48 193.66,403.81 195.35,404.10 197.04,404.35 198.73,404.55 200.42,404.71 202.11,404.80 203.80,404.83 M137.90,398.05 139.59,398.05 141.28,398.03 142.97,398.02 144.66,398.01 146.35,398.00 148.04,398.00 149.73,398.01 151.42,398.04 153.11,398.09 154.80,398.16 156.49,398.26 158.18,398.39 159.87,398.55 161.56,398.75 163.25,398.99 164.94,399.25 166.63,399.54 168.32,399.85 170.01,400.17 171.69,400.51 173.38,400.86 175.07,401.21 176.76,401.56 178.45,401.91 180.14,402.25 181.83,402.57 183.52,402.88 185.21,403.17 186.90,403.44 188.59,403.69 190.28,403.92 191.97,404.12 193.66,404.31 195.35,404.46 197.04,404.59 198.73,404.70 200.42,404.77 202.11,404.82 203.80,404.83 M137.90,398.55 139.59,398.56 141.28,398.57 142.97,398.58 144.66,398.61 146.35,398.65 148.04,398.70 149.73,398.77 151.42,398.85 153.11,398.95 154.80,399.07 156.49,399.21 158.18,399.37 159.87,399.56 161.56,399.77 163.25,400.00 164.94,400.25 166.63,400.51 168.32,400.79 170.01,401.08 171.69,401.37 173.38,401.66 175.07,401.96 176.76,402.25 178.45,402.54 180.14,402.81 181.83,403.07 183.52,403.32 185.21,403.55 186.90,403.77 188.59,403.96 190.28,404.14 191.97,404.30 193.66,404.44 195.35,404.56 197.04,404.65 198.73,404.73 200.42,404.79 202.11,404.82 203.80,404.83 M137.90,401.82 139.59,401.84 141.28,401.90 142.97,402.01 144.66,402.16 146.35,402.35 148.04,402.59 149.73,402.88 151.42,403.21 153.11,403.59 154.80,404.02 156.49,404.49 158.18,405.03 159.87,405.63 161.56,406.29 163.25,407.04 164.94,407.87 166.63,408.79 168.32,409.81 170.01,410.94 171.69,412.18 173.38,413.51 175.07,414.92 176.76,416.39 178.45,417.92 180.14,419.49 181.83,421.09 183.52,422.69 185.21,424.30 186.90,425.90 188.59,427.51 190.28,429.14 191.97,430.78 193.66,432.46 195.35,434.17 197.04,435.93 198.73,437.73 200.42,439.56 202.11,441.41 203.80,443.27 M137.90,404.08 139.59,404.13 141.28,404.26 142.97,404.48 144.66,404.75 146.35,405.08 148.04,405.44 149.73,405.83 151.42,406.24 153.11,406.64 154.80,407.04 156.49,407.42 158.18,407.79 159.87,408.18 161.56,408.62 163.25,409.11 164.94,409.69 166.63,410.37 168.32,411.19 170.01,412.16 171.69,413.28 173.38,414.55 175.07,415.94 176.76,417.42 178.45,418.99 180.14,420.61 181.83,422.26 183.52,423.93 185.21,425.59 186.90,427.24 188.59,428.88 190.28,430.51 191.97,432.12 193.66,433.73 195.35,435.33 197.04,436.93 198.73,438.52 200.42,440.11 202.11,441.69 203.80,443.27 M137.90,396.79 139.59,396.80 141.28,396.82 142.97,396.86 144.66,396.90 146.35,396.96 148.04,397.03 149.73,397.11 151.42,397.20 153.11,397.29 154.80,397.40 156.49,397.50 158.18,397.62 159.87,397.73 161.56,397.85 163.25,397.98 164.94,398.10 166.63,398.24 168.32,398.42 170.01,398.68 171.69,399.04 173.38,399.53 175.07,400.19 176.76,401.04 178.45,402.09 180.14,403.35 181.83,404.82 183.52,406.53 185.21,408.49 186.90,410.71 188.59,413.20 190.28,415.99 191.97,419.09 193.66,422.52 195.35,426.22 197.04,430.00 198.73,433.65 200.42,437.03 202.11,440.20 203.80,443.27 M203.80,280.46 205.38,280.45 206.96,280.42 208.55,280.37 210.13,280.30 211.71,280.21 213.29,280.10 214.87,279.96 216.46,279.81 218.04,279.63 219.62,279.43 221.20,279.21 222.78,278.97 224.37,278.71 225.95,278.42 227.53,278.11 229.11,277.79 230.69,277.44 232.28,277.08 233.86,276.70 235.44,276.31 237.02,275.90 238.61,275.48 240.19,275.04 241.77,274.60 243.35,274.14 244.93,273.68 246.52,273.21 248.10,272.74 249.68,272.27 251.26,271.82 252.84,271.39 254.43,270.98 256.01,270.60 257.59,270.27 259.17,269.98 260.75,269.74 262.34,269.56 263.92,269.45 265.50,269.41 M203.80,280.21 205.38,280.21 206.96,280.21 208.55,280.20 210.13,280.19 211.71,280.17 213.29,280.13 214.87,280.09 216.46,280.03 218.04,279.96 219.62,279.86 221.20,279.75 222.78,279.62 224.37,279.46 225.95,279.28 227.53,279.07 229.11,278.83 230.69,278.57 232.28,278.28 233.86,277.96 235.44,277.62 237.02,277.25 238.61,276.84 240.19,276.41 241.77,275.95 243.35,275.46 244.93,274.94 246.52,274.39 248.10,273.82 249.68,273.24 251.26,272.66 252.84,272.10 254.43,271.56 256.01,271.05 257.59,270.60 259.17,270.20 260.75,269.87 262.34,269.62 263.92,269.46 265.50,269.41 M203.80,280.46 205.38,280.51 206.96,280.62 208.55,280.79 210.13,281.01 211.71,281.27 213.29,281.54 214.87,281.83 216.46,282.10 218.04,282.37 219.62,282.60 221.20,282.78 222.78,282.92 224.37,282.98 225.95,282.96 227.53,282.86 229.11,282.69 230.69,282.45 232.28,282.13 233.86,281.75 235.44,281.30 237.02,280.79 238.61,280.23 240.19,279.61 241.77,278.94 243.35,278.22 244.93,277.45 246.52,276.64 248.10,275.81 249.68,274.96 251.26,274.12 252.84,273.30 254.43,272.52 256.01,271.79 257.59,271.13 259.17,270.55 260.75,270.08 262.34,269.72 263.92,269.49 265.50,269.41 M203.80,284.99 205.38,285.04 206.96,285.18 208.55,285.42 210.13,285.74 211.71,286.13 213.29,286.60 214.87,287.12 216.46,287.71 218.04,288.35 219.62,289.03 221.20,289.74 222.78,290.49 224.37,291.27 225.95,292.06 227.53,292.87 229.11,293.68 230.69,294.51 232.28,295.33 233.86,296.14 235.44,296.95 237.02,297.74 238.61,298.51 240.19,299.26 241.77,299.98 243.35,300.67 244.93,301.32 246.52,301.93 248.10,302.49 249.68,303.01 251.26,303.49 252.84,303.92 254.43,304.30 256.01,304.64 257.59,304.93 259.17,305.16 260.75,305.35 262.34,305.48 263.92,305.56 265.50,305.59 M203.80,284.74 205.38,284.82 206.96,285.05 208.55,285.43 210.13,285.93 211.71,286.55 213.29,287.26 214.87,288.05 216.46,288.92 218.04,289.83 219.62,290.80 221.20,291.78 222.78,292.78 224.37,293.78 225.95,294.77 227.53,295.73 229.11,296.67 230.69,297.59 232.28,298.47 233.86,299.31 235.44,300.11 237.02,300.87 238.61,301.58 240.19,302.23 241.77,302.83 243.35,303.36 244.93,303.83 246.52,304.23 248.10,304.56 249.68,304.84 251.26,305.06 252.84,305.23 254.43,305.36 256.01,305.46 257.59,305.52 259.17,305.56 260.75,305.58 262.34,305.59 263.92,305.59 265.50,305.59 M203.80,284.99 205.38,285.00 206.96,285.05 208.55,285.14 210.13,285.27 211.71,285.44 213.29,285.66 214.87,285.93 216.46,286.25 218.04,286.62 219.62,287.06 221.20,287.56 222.78,288.12 224.37,288.76 225.95,289.46 227.53,290.22 229.11,291.04 230.69,291.91 232.28,292.80 233.86,293.72 235.44,294.66 237.02,295.60 238.61,296.54 240.19,297.46 241.77,298.36 243.35,299.23 244.93,300.06 246.52,300.84 248.10,301.57 249.68,302.24 251.26,302.85 252.84,303.41 254.43,303.91 256.01,304.34 257.59,304.72 259.17,305.03 260.75,305.27 262.34,305.45 263.92,305.55 265.50,305.59 M203.80,284.99 205.38,284.99 206.96,284.99 208.55,284.99 210.13,284.98 211.71,284.95 213.29,284.91 214.87,284.85 216.46,284.75 218.04,284.63 219.62,284.47 221.20,284.27 222.78,284.03 224.37,283.73 225.95,283.38 227.53,282.99 229.11,282.54 230.69,282.05 232.28,281.52 233.86,280.95 235.44,280.35 237.02,279.71 238.61,279.05 240.19,278.37 241.77,277.66 243.35,276.93 244.93,276.19 246.52,275.44 248.10,274.69 249.68,273.95 251.26,273.23 252.84,272.54 254.43,271.89 256.01,271.30 257.59,270.77 259.17,270.31 260.75,269.93 262.34,269.65 263.92,269.47 265.50,269.41 M203.80,311.12 205.38,311.05 206.96,310.86 208.55,310.55 210.13,310.12 211.71,309.60 213.29,308.98 214.87,308.26 216.46,307.47 218.04,306.61 219.62,305.68 221.20,304.69 222.78,303.65 224.37,302.57 225.95,301.46 227.53,300.31 229.11,299.12 230.69,297.90 232.28,296.63 233.86,295.33 235.44,293.98 237.02,292.60 238.61,291.16 240.19,289.69 241.77,288.17 243.35,286.60 244.93,284.99 246.52,283.33 248.10,281.65 249.68,279.97 251.26,278.33 252.84,276.74 254.43,275.24 256.01,273.86 257.59,272.61 259.17,271.53 260.75,270.64 262.34,269.98 263.92,269.56 265.50,269.41 M203.80,311.12 205.38,311.07 206.96,310.95 208.55,310.75 210.13,310.48 211.71,310.15 213.29,309.77 214.87,309.35 216.46,308.89 218.04,308.41 219.62,307.90 221.20,307.38 222.78,306.86 224.37,306.34 225.95,305.84 227.53,305.35 229.11,304.88 230.69,304.43 232.28,304.03 233.86,303.66 235.44,303.33 237.02,303.05 238.61,302.82 240.19,302.66 241.77,302.56 243.35,302.53 244.93,302.57 246.52,302.70 248.10,302.89 249.68,303.13 251.26,303.42 252.84,303.73 254.43,304.06 256.01,304.38 257.59,304.70 259.17,304.98 260.75,305.23 262.34,305.42 263.92,305.55 265.50,305.59 M203.80,310.87 205.38,310.84 206.96,310.76 208.55,310.64 210.13,310.47 211.71,310.26 213.29,310.02 214.87,309.74 216.46,309.44 218.04,309.11 219.62,308.76 221.20,308.38 222.78,308.00 224.37,307.60 225.95,307.20 227.53,306.79 229.11,306.39 230.69,305.99 232.28,305.61 233.86,305.26 235.44,304.93 237.02,304.63 238.61,304.37 240.19,304.15 241.77,303.99 243.35,303.88 244.93,303.83 246.52,303.85 248.10,303.92 249.68,304.04 251.26,304.20 252.84,304.38 254.43,304.58 256.01,304.79 257.59,304.99 259.17,305.18 260.75,305.34 262.34,305.47 263.92,305.56 265.50,305.59 M203.80,311.12 205.38,311.06 206.96,310.89 208.55,310.63 210.13,310.28 211.71,309.85 213.29,309.36 214.87,308.82 216.46,308.23 218.04,307.62 219.62,306.99 221.20,306.35 222.78,305.71 224.37,305.09 225.95,304.49 227.53,303.93 229.11,303.40 230.69,302.91 232.28,302.47 233.86,302.09 235.44,301.76 237.02,301.50 238.61,301.30 240.19,301.18 241.77,301.14 243.35,301.18 244.93,301.32 246.52,301.55 248.10,301.85 249.68,302.22 251.26,302.63 252.84,303.07 254.43,303.52 256.01,303.97 257.59,304.40 259.17,304.78 260.75,305.11 262.34,305.37 263.92,305.53 265.50,305.59 M203.80,335.49 205.38,335.48 206.96,335.44 208.55,335.38 210.13,335.30 211.71,335.19 213.29,335.05 214.87,334.88 216.46,334.68 218.04,334.46 219.62,334.20 221.20,333.91 222.78,333.59 224.37,333.23 225.95,332.84 227.53,332.43 229.11,332.00 230.69,331.59 232.28,331.19 233.86,330.82 235.44,330.50 237.02,330.23 238.61,330.03 240.19,329.92 241.77,329.90 243.35,330.00 244.93,330.21 246.52,330.56 248.10,331.02 249.68,331.56 251.26,332.17 252.84,332.82 254.43,333.48 256.01,334.14 257.59,334.75 259.17,335.32 260.75,335.79 262.34,336.17 263.92,336.41 265.50,336.49 M203.80,335.49 205.38,335.48 206.96,335.45 208.55,335.41 210.13,335.34 211.71,335.25 213.29,335.14 214.87,335.01 216.46,334.86 218.04,334.68 219.62,334.48 221.20,334.26 222.78,334.01 224.37,333.73 225.95,333.43 227.53,333.11 229.11,332.79 230.69,332.47 232.28,332.16 233.86,331.88 235.44,331.63 237.02,331.43 238.61,331.29 240.19,331.21 241.77,331.21 243.35,331.29 244.93,331.47 246.52,331.75 248.10,332.12 249.68,332.56 251.26,333.05 252.84,333.57 254.43,334.10 256.01,334.62 257.59,335.11 259.17,335.56 260.75,335.94 262.34,336.23 263.92,336.43 265.50,336.49 M203.80,335.49 205.38,335.49 206.96,335.48 208.55,335.46 210.13,335.43 211.71,335.39 213.29,335.34 214.87,335.28 216.46,335.20 218.04,335.10 219.62,334.98 221.20,334.84 222.78,334.67 224.37,334.48 225.95,334.27 227.53,334.04 229.11,333.80 230.69,333.56 232.28,333.33 233.86,333.11 235.44,332.91 237.02,332.75 238.61,332.63 240.19,332.56 241.77,332.55 243.35,332.60 244.93,332.72 246.52,332.93 248.10,333.20 249.68,333.53 251.26,333.89 252.84,334.28 254.43,334.68 256.01,335.07 257.59,335.45 259.17,335.78 260.75,336.07 262.34,336.30 263.92,336.44 265.50,336.49 M203.80,335.49 205.38,335.50 206.96,335.52 208.55,335.55 210.13,335.60 211.71,335.66 213.29,335.73 214.87,335.81 216.46,335.90 218.04,336.00 219.62,336.11 221.20,336.23 222.78,336.36 224.37,336.49 225.95,336.64 227.53,336.78 229.11,336.93 230.69,337.07 232.28,337.21 233.86,337.34 235.44,337.46 237.02,337.57 238.61,337.65 240.19,337.72 241.77,337.76 243.35,337.77 244.93,337.75 246.52,337.70 248.10,337.62 249.68,337.52 251.26,337.40 252.84,337.27 254.43,337.13 256.01,337.00 257.59,336.87 259.17,336.75 260.75,336.65 262.34,336.56 263.92,336.51 265.50,336.49 M203.80,335.49 205.38,335.49 206.96,335.50 208.55,335.51 210.13,335.53 211.71,335.55 213.29,335.58 214.87,335.62 216.46,335.66 218.04,335.71 219.62,335.77 221.20,335.84 222.78,335.91 224.37,335.99 225.95,336.08 227.53,336.18 229.11,336.27 230.69,336.37 232.28,336.47 233.86,336.57 235.44,336.66 237.02,336.75 238.61,336.83 240.19,336.89 241.77,336.94 243.35,336.98 244.93,337.00 246.52,336.99 248.10,336.98 249.68,336.94 251.26,336.90 252.84,336.85 254.43,336.79 256.01,336.73 257.59,336.67 259.17,336.61 260.75,336.57 262.34,336.53 263.92,336.50 265.50,336.49 M203.80,345.54 205.38,345.61 206.96,345.81 208.55,346.12 210.13,346.52 211.71,347.00 213.29,347.54 214.87,348.12 216.46,348.73 218.04,349.35 219.62,349.96 221.20,350.54 222.78,351.09 224.37,351.57 225.95,351.98 227.53,352.31 229.11,352.55 230.69,352.70 232.28,352.75 233.86,352.70 235.44,352.54 237.02,352.28 238.61,351.89 240.19,351.38 241.77,350.74 243.35,349.97 244.93,349.06 246.52,348.01 248.10,346.85 249.68,345.62 251.26,344.34 252.84,343.05 254.43,341.79 256.01,340.59 257.59,339.48 259.17,338.49 260.75,337.67 262.34,337.04 263.92,336.64 265.50,336.49 M203.80,345.54 205.38,345.61 206.96,345.83 208.55,346.17 210.13,346.61 211.71,347.14 213.29,347.74 214.87,348.39 216.46,349.07 218.04,349.76 219.62,350.45 221.20,351.12 222.78,351.75 224.37,352.32 225.95,352.82 227.53,353.24 229.11,353.56 230.69,353.79 232.28,353.92 233.86,353.93 235.44,353.83 237.02,353.60 238.61,353.23 240.19,352.73 241.77,352.08 243.35,351.28 244.93,350.31 246.52,349.19 248.10,347.93 249.68,346.58 251.26,345.18 252.84,343.77 254.43,342.38 256.01,341.05 257.59,339.81 259.17,338.72 260.75,337.80 262.34,337.10 263.92,336.65 265.50,336.49 M203.80,345.54 205.38,345.60 206.96,345.77 208.55,346.04 210.13,346.38 211.71,346.79 213.29,347.24 214.87,347.72 216.46,348.22 218.04,348.71 219.62,349.18 221.20,349.62 222.78,350.00 224.37,350.31 225.95,350.54 227.53,350.69 229.11,350.75 230.69,350.73 232.28,350.61 233.86,350.41 235.44,350.13 237.02,349.75 238.61,349.29 240.19,348.74 241.77,348.10 243.35,347.36 244.93,346.54 246.52,345.64 248.10,344.66 249.68,343.65 251.26,342.61 252.84,341.59 254.43,340.59 256.01,339.65 257.59,338.79 259.17,338.02 260.75,337.39 262.34,336.91 263.92,336.60 265.50,336.49 M203.80,345.54 205.38,345.53 206.96,345.52 208.55,345.49 210.13,345.44 211.71,345.38 213.29,345.30 214.87,345.20 216.46,345.07 218.04,344.92 219.62,344.74 221.20,344.54 222.78,344.30 224.37,344.03 225.95,343.73 227.53,343.40 229.11,343.04 230.69,342.66 232.28,342.26 233.86,341.85 235.44,341.43 237.02,341.01 238.61,340.59 240.19,340.18 241.77,339.77 243.35,339.38 244.93,339.01 246.52,338.65 248.10,338.33 249.68,338.02 251.26,337.74 252.84,337.49 254.43,337.26 256.01,337.06 257.59,336.89 259.17,336.75 260.75,336.64 262.34,336.56 263.92,336.51 265.50,336.49 M203.80,373.18 205.38,373.17 206.96,373.14 208.55,373.09 210.13,373.03 211.71,372.94 213.29,372.84 214.87,372.73 216.46,372.59 218.04,372.44 219.62,372.27 221.20,372.09 222.78,371.89 224.37,371.67 225.95,371.44 227.53,371.20 229.11,370.95 230.69,370.70 232.28,370.45 233.86,370.21 235.44,369.99 237.02,369.78 238.61,369.59 240.19,369.43 241.77,369.30 243.35,369.21 244.93,369.16 246.52,369.15 248.10,369.18 249.68,369.24 251.26,369.32 252.84,369.43 254.43,369.55 256.01,369.67 257.59,369.79 259.17,369.91 260.75,370.01 262.34,370.09 263.92,370.14 265.50,370.16 M203.80,373.18 205.38,373.16 206.96,373.13 208.55,373.10 210.13,373.09 211.71,373.11 213.29,373.18 214.87,373.31 216.46,373.54 218.04,373.86 219.62,374.30 221.20,374.87 222.78,375.52 224.37,376.24 225.95,377.00 227.53,377.75 229.11,378.48 230.69,379.16 232.28,379.75 233.86,380.23 235.44,380.56 237.02,380.71 238.61,380.66 240.19,380.41 241.77,379.98 243.35,379.40 244.93,378.71 246.52,377.91 248.10,377.06 249.68,376.16 251.26,375.25 252.84,374.36 254.43,373.50 256.01,372.71 257.59,372.00 259.17,371.38 260.75,370.87 262.34,370.49 263.92,370.25 265.50,370.16 M203.80,443.27 205.38,439.50 206.96,435.72 208.55,431.95 210.13,428.19 211.71,424.43 213.29,420.69 214.87,416.97 216.46,413.27 218.04,409.63 219.62,406.09 221.20,402.71 222.78,399.51 224.37,396.56 225.95,393.88 227.53,391.51 229.11,389.41 230.69,387.50 232.28,385.74 233.86,384.05 235.44,382.37 237.02,380.64 238.61,378.84 240.19,377.04 241.77,375.30 243.35,373.70 244.93,372.30 246.52,371.16 248.10,370.31 249.68,369.71 251.26,369.34 252.84,369.14 254.43,369.10 256.01,369.18 257.59,369.34 259.17,369.54 260.75,369.76 262.34,369.96 263.92,370.11 265.50,370.16 M203.80,404.83 205.38,404.81 206.96,404.73 208.55,404.59 210.13,404.41 211.71,404.17 213.29,403.89 214.87,403.55 216.46,403.17 218.04,402.74 219.62,402.27 221.20,401.74 222.78,401.17 224.37,400.56 225.95,399.91 227.53,399.23 229.11,398.53 230.69,397.84 232.28,397.17 233.86,396.53 235.44,395.94 237.02,395.41 238.61,394.97 240.19,394.61 241.77,394.37 243.35,394.26 244.93,394.28 246.52,394.46 248.10,394.76 249.68,395.17 251.26,395.67 252.84,396.21 254.43,396.79 256.01,397.37 257.59,397.94 259.17,398.45 260.75,398.90 262.34,399.25 263.92,399.48 265.50,399.56 M203.80,404.83 205.38,404.81 206.96,404.73 208.55,404.60 210.13,404.42 211.71,404.20 213.29,403.94 214.87,403.63 216.46,403.29 218.04,402.91 219.62,402.49 221.20,402.05 222.78,401.57 224.37,401.06 225.95,400.54 227.53,399.99 229.11,399.44 230.69,398.90 232.28,398.38 233.86,397.88 235.44,397.42 237.02,397.00 238.61,396.65 240.19,396.37 241.77,396.16 243.35,396.05 244.93,396.04 246.52,396.14 248.10,396.33 249.68,396.59 251.26,396.92 252.84,397.28 254.43,397.67 256.01,398.06 257.59,398.45 259.17,398.80 260.75,399.10 262.34,399.34 263.92,399.50 265.50,399.56 M203.80,404.58 205.38,404.56 206.96,404.51 208.55,404.42 210.13,404.30 211.71,404.14 213.29,403.95 214.87,403.73 216.46,403.48 218.04,403.21 219.62,402.90 221.20,402.56 222.78,402.20 224.37,401.82 225.95,401.41 227.53,400.98 229.11,400.55 230.69,400.12 232.28,399.69 233.86,399.28 235.44,398.90 237.02,398.54 238.61,398.23 240.19,397.97 241.77,397.76 243.35,397.62 244.93,397.55 246.52,397.56 248.10,397.63 249.68,397.76 251.26,397.94 252.84,398.15 254.43,398.38 256.01,398.62 257.59,398.86 259.17,399.08 260.75,399.27 262.34,399.42 263.92,399.52 265.50,399.56 M203.80,443.27 205.38,440.08 206.96,436.90 208.55,433.78 210.13,430.73 211.71,427.78 213.29,424.95 214.87,422.28 216.46,419.77 218.04,417.47 219.62,415.39 221.20,413.55 222.78,411.96 224.37,410.58 225.95,409.38 227.53,408.32 229.11,407.37 230.69,406.49 232.28,405.66 233.86,404.84 235.44,403.98 237.02,403.09 238.61,402.18 240.19,401.29 241.77,400.46 243.35,399.72 244.93,399.12 246.52,398.68 248.10,398.40 249.68,398.25 251.26,398.21 252.84,398.27 254.43,398.40 256.01,398.58 257.59,398.79 259.17,399.01 260.75,399.22 262.34,399.39 263.92,399.51 265.50,399.56 M203.80,443.27 205.38,440.55 206.96,437.84 208.55,435.18 210.13,432.58 211.71,430.07 213.29,427.66 214.87,425.38 216.46,423.24 218.04,421.28 219.62,419.51 221.20,417.95 222.78,416.59 224.37,415.39 225.95,414.33 227.53,413.35 229.11,412.43 230.69,411.52 232.28,410.58 233.86,409.58 235.44,408.47 237.02,407.25 238.61,405.95 240.19,404.64 241.77,403.37 243.35,402.20 244.93,401.18 246.52,400.37 248.10,399.76 249.68,399.33 251.26,399.06 252.84,398.91 254.43,398.87 256.01,398.91 257.59,399.01 259.17,399.14 260.75,399.29 262.34,399.42 263.92,399.52 265.50,399.56 M203.80,443.27 205.38,441.08 206.96,438.90 208.55,436.75 210.13,434.65 211.71,432.61 213.29,430.65 214.87,428.79 216.46,427.03 218.04,425.40 219.62,423.90 221.20,422.57 222.78,421.37 224.37,420.29 225.95,419.29 227.53,418.31 229.11,417.34 230.69,416.33 232.28,415.25 233.86,414.06 235.44,412.72 237.02,411.22 238.61,409.61 240.19,407.97 241.77,406.35 243.35,404.84 244.93,403.49 246.52,402.36 248.10,401.45 249.68,400.74 251.26,400.21 252.84,399.83 254.43,399.58 256.01,399.44 257.59,399.38 259.17,399.38 260.75,399.42 262.34,399.48 263.92,399.54 265.50,399.56 M265.50,269.41 266.16,269.42 266.82,269.44 267.48,269.48 268.14,269.53 268.79,269.60 269.45,269.68 270.11,269.78 270.77,269.89 271.43,270.01 272.09,270.14 272.75,270.29 273.41,270.44 274.07,270.60 274.73,270.77 275.38,270.95 276.04,271.13 276.70,271.32 277.36,271.51 278.02,271.70 278.68,271.89 279.34,272.08 280.00,272.27 280.66,272.46 281.32,272.64 281.97,272.82 282.63,272.99 283.29,273.15 283.95,273.31 284.61,273.45 285.27,273.58 285.93,273.71 286.59,273.81 287.25,273.91 287.91,273.99 288.56,274.06 289.22,274.11 289.88,274.15 290.54,274.18 291.20,274.18 M265.50,269.41 266.16,269.43 266.82,269.47 267.48,269.55 268.14,269.65 268.79,269.78 269.45,269.94 270.11,270.13 270.77,270.34 271.43,270.58 272.09,270.84 272.75,271.12 273.41,271.42 274.07,271.73 274.73,272.07 275.38,272.41 276.04,272.76 276.70,273.13 277.36,273.50 278.02,273.87 278.68,274.25 279.34,274.62 280.00,274.99 280.66,275.35 281.32,275.71 281.97,276.05 282.63,276.38 283.29,276.70 283.95,277.00 284.61,277.28 285.27,277.54 285.93,277.77 286.59,277.99 287.25,278.17 287.91,278.33 288.56,278.47 289.22,278.57 289.88,278.65 290.54,278.69 291.20,278.71 M265.50,305.59 266.16,305.57 266.82,305.50 267.48,305.40 268.14,305.25 268.79,305.06 269.45,304.83 270.11,304.56 270.77,304.25 271.43,303.92 272.09,303.54 272.75,303.14 273.41,302.71 274.07,302.26 274.73,301.79 275.38,301.29 276.04,300.78 276.70,300.26 277.36,299.73 278.02,299.20 278.68,298.66 279.34,298.13 280.00,297.60 280.66,297.08 281.32,296.57 281.97,296.08 282.63,295.60 283.29,295.15 283.95,294.72 284.61,294.32 285.27,293.95 285.93,293.61 286.59,293.30 287.25,293.04 287.91,292.81 288.56,292.62 289.22,292.47 289.88,292.36 290.54,292.30 291.20,292.27 M265.50,305.59 266.16,305.57 266.82,305.52 267.48,305.44 268.14,305.33 268.79,305.19 269.45,305.01 270.11,304.81 270.77,304.58 271.43,304.33 272.09,304.05 272.75,303.74 273.41,303.42 274.07,303.08 274.73,302.72 275.38,302.35 276.04,301.96 276.70,301.57 277.36,301.17 278.02,300.77 278.68,300.36 279.34,299.96 280.00,299.56 280.66,299.17 281.32,298.78 281.97,298.41 282.63,298.05 283.29,297.71 283.95,297.39 284.61,297.08 285.27,296.80 285.93,296.55 286.59,296.32 287.25,296.12 287.91,295.94 288.56,295.80 289.22,295.69 289.88,295.61 290.54,295.56 291.20,295.54 M265.50,305.59 266.16,305.60 266.82,305.63 267.48,305.67 268.14,305.72 268.79,305.79 269.45,305.86 270.11,305.94 270.77,306.02 271.43,306.10 272.09,306.17 272.75,306.25 273.41,306.31 274.07,306.37 274.73,306.42 275.38,306.45 276.04,306.46 276.70,306.46 277.36,306.43 278.02,306.38 278.68,306.30 279.34,306.20 280.00,306.07 280.66,305.93 281.32,305.76 281.97,305.59 282.63,305.40 283.29,305.21 283.95,305.02 284.61,304.82 285.27,304.63 285.93,304.44 286.59,304.27 287.25,304.11 287.91,303.96 288.56,303.83 289.22,303.73 289.88,303.65 290.54,303.60 291.20,303.58 M265.50,305.59 266.16,305.61 266.82,305.65 267.48,305.73 268.14,305.83 268.79,305.95 269.45,306.10 270.11,306.25 270.77,306.42 271.43,306.59 272.09,306.77 272.75,306.96 273.41,307.14 274.07,307.31 274.73,307.48 275.38,307.63 276.04,307.77 276.70,307.90 277.36,308.00 278.02,308.07 278.68,308.12 279.34,308.14 280.00,308.14 280.66,308.11 281.32,308.06 281.97,308.00 282.63,307.92 283.29,307.83 283.95,307.73 284.61,307.62 285.27,307.51 285.93,307.40 286.59,307.29 287.25,307.19 287.91,307.10 288.56,307.01 289.22,306.95 289.88,306.89 290.54,306.86 291.20,306.85 M265.50,336.49 266.16,336.48 266.82,336.45 267.48,336.40 268.14,336.33 268.79,336.24 269.45,336.13 270.11,336.01 270.77,335.86 271.43,335.70 272.09,335.53 272.75,335.34 273.41,335.14 274.07,334.92 274.73,334.70 275.38,334.47 276.04,334.23 276.70,333.98 277.36,333.73 278.02,333.48 278.68,333.23 279.34,332.97 280.00,332.72 280.66,332.48 281.32,332.24 281.97,332.01 282.63,331.78 283.29,331.57 283.95,331.37 284.61,331.18 285.27,331.00 285.93,330.84 286.59,330.70 287.25,330.57 287.91,330.46 288.56,330.37 289.22,330.30 289.88,330.25 290.54,330.22 291.20,330.21 M265.50,336.49 266.16,336.49 266.82,336.46 267.48,336.43 268.14,336.38 268.79,336.31 269.45,336.23 270.11,336.14 270.77,336.04 271.43,335.93 272.09,335.80 272.75,335.66 273.41,335.52 274.07,335.36 274.73,335.20 275.38,335.03 276.04,334.86 276.70,334.68 277.36,334.51 278.02,334.32 278.68,334.14 279.34,333.96 280.00,333.78 280.66,333.60 281.32,333.43 281.97,333.26 282.63,333.10 283.29,332.95 283.95,332.80 284.61,332.67 285.27,332.54 285.93,332.42 286.59,332.32 287.25,332.23 287.91,332.15 288.56,332.09 289.22,332.04 289.88,332.00 290.54,331.98 291.20,331.97 M265.50,336.49 266.16,336.49 266.82,336.49 267.48,336.49 268.14,336.49 268.79,336.49 269.45,336.49 270.11,336.49 270.77,336.49 271.43,336.49 272.09,336.49 272.75,336.49 273.41,336.49 274.07,336.49 274.73,336.49 275.38,336.49 276.04,336.49 276.70,336.49 277.36,336.49 278.02,336.49 278.68,336.49 279.34,336.49 280.00,336.49 280.66,336.49 281.32,336.49 281.97,336.49 282.63,336.49 283.29,336.49 283.95,336.49 284.61,336.49 285.27,336.49 285.93,336.49 286.59,336.49 287.25,336.49 287.91,336.49 288.56,336.49 289.22,336.49 289.88,336.49 290.54,336.49 291.20,336.49 M265.50,336.49 266.16,336.50 266.82,336.51 267.48,336.53 268.14,336.55 268.79,336.58 269.45,336.62 270.11,336.67 270.77,336.72 271.43,336.78 272.09,336.84 272.75,336.91 273.41,336.98 274.07,337.06 274.73,337.14 275.38,337.22 276.04,337.31 276.70,337.40 277.36,337.49 278.02,337.58 278.68,337.67 279.34,337.76 280.00,337.85 280.66,337.94 281.32,338.03 281.97,338.11 282.63,338.19 283.29,338.27 283.95,338.34 284.61,338.41 285.27,338.47 285.93,338.53 286.59,338.58 287.25,338.63 287.91,338.66 288.56,338.70 289.22,338.72 289.88,338.74 290.54,338.75 291.20,338.75 M265.50,336.49 266.16,336.50 266.82,336.52 267.48,336.56 268.14,336.60 268.79,336.66 269.45,336.74 270.11,336.82 270.77,336.92 271.43,337.03 272.09,337.15 272.75,337.28 273.41,337.42 274.07,337.56 274.73,337.71 275.38,337.87 276.04,338.04 276.70,338.20 277.36,338.37 278.02,338.54 278.68,338.72 279.34,338.89 280.00,339.06 280.66,339.22 281.32,339.39 281.97,339.54 282.63,339.70 283.29,339.84 283.95,339.98 284.61,340.11 285.27,340.23 285.93,340.34 286.59,340.43 287.25,340.52 287.91,340.59 288.56,340.66 289.22,340.70 289.88,340.74 290.54,340.76 291.20,340.76 M265.50,336.49 266.16,336.51 266.82,336.54 267.48,336.61 268.14,336.69 268.79,336.81 269.45,336.94 270.11,337.10 270.77,337.27 271.43,337.47 272.09,337.69 272.75,337.93 273.41,338.18 274.07,338.44 274.73,338.72 275.38,339.01 276.04,339.30 276.70,339.61 277.36,339.92 278.02,340.23 278.68,340.54 279.34,340.86 280.00,341.17 280.66,341.47 281.32,341.77 281.97,342.06 282.63,342.34 283.29,342.60 283.95,342.85 284.61,343.09 285.27,343.30 285.93,343.50 286.59,343.68 287.25,343.84 287.91,343.97 288.56,344.08 289.22,344.17 289.88,344.23 290.54,344.27 291.20,344.28 M265.50,336.49 266.16,336.52 266.82,336.60 267.48,336.73 268.14,336.91 268.79,337.14 269.45,337.41 270.11,337.74 270.77,338.11 271.43,338.52 272.09,338.96 272.75,339.45 273.41,339.97 274.07,340.51 274.73,341.09 275.38,341.68 276.04,342.30 276.70,342.93 277.36,343.56 278.02,344.21 278.68,344.86 279.34,345.50 280.00,346.14 280.66,346.77 281.32,347.38 281.97,347.98 282.63,348.55 283.29,349.10 283.95,349.62 284.61,350.10 285.27,350.55 285.93,350.96 286.59,351.33 287.25,351.65 287.91,351.93 288.56,352.16 289.22,352.34 289.88,352.47 290.54,352.55 291.20,352.57 M265.50,368.40 266.16,368.38 266.82,368.30 267.48,368.18 268.14,368.03 268.79,367.83 269.45,367.61 270.11,367.36 270.77,367.10 271.43,366.82 272.09,366.52 272.75,366.22 273.41,365.92 274.07,365.63 274.73,365.34 275.38,365.07 276.04,364.81 276.70,364.58 277.36,364.38 278.02,364.20 278.68,364.07 279.34,363.97 280.00,363.91 280.66,363.88 281.32,363.87 281.97,363.89 282.63,363.94 283.29,364.00 283.95,364.07 284.61,364.16 285.27,364.25 285.93,364.35 286.59,364.45 287.25,364.54 287.91,364.63 288.56,364.71 289.22,364.78 289.88,364.84 290.54,364.87 291.20,364.88 M265.50,368.40 266.16,368.40 266.82,368.41 267.48,368.42 268.14,368.43 268.79,368.45 269.45,368.47 270.11,368.50 270.77,368.53 271.43,368.56 272.09,368.60 272.75,368.63 273.41,368.67 274.07,368.72 274.73,368.76 275.38,368.81 276.04,368.86 276.70,368.90 277.36,368.95 278.02,369.01 278.68,369.06 279.34,369.11 280.00,369.16 280.66,369.21 281.32,369.25 281.97,369.30 282.63,369.34 283.29,369.39 283.95,369.43 284.61,369.47 285.27,369.50 285.93,369.53 286.59,369.56 287.25,369.59 287.91,369.61 288.56,369.63 289.22,369.64 289.88,369.65 290.54,369.66 291.20,369.66 M265.50,368.40 266.16,368.41 266.82,368.44 267.48,368.49 268.14,368.56 268.79,368.64 269.45,368.75 270.11,368.87 270.77,369.01 271.43,369.16 272.09,369.33 272.75,369.51 273.41,369.70 274.07,369.91 274.73,370.12 275.38,370.35 276.04,370.58 276.70,370.81 277.36,371.05 278.02,371.30 278.68,371.54 279.34,371.78 280.00,372.02 280.66,372.26 281.32,372.49 281.97,372.71 282.63,372.92 283.29,373.13 283.95,373.32 284.61,373.51 285.27,373.67 285.93,373.83 286.59,373.97 287.25,374.09 287.91,374.19 288.56,374.28 289.22,374.34 289.88,374.39 290.54,374.42 291.20,374.43 M265.50,368.40 266.16,368.43 266.82,368.49 267.48,368.61 268.14,368.76 268.79,368.97 269.45,369.21 270.11,369.49 270.77,369.81 271.43,370.17 272.09,370.56 272.75,370.99 273.41,371.44 274.07,371.92 274.73,372.42 275.38,372.94 276.04,373.48 276.70,374.03 277.36,374.59 278.02,375.15 278.68,375.72 279.34,376.29 280.00,376.84 280.66,377.39 281.32,377.93 281.97,378.45 282.63,378.95 283.29,379.43 283.95,379.89 284.61,380.31 285.27,380.70 285.93,381.06 286.59,381.38 287.25,381.67 287.91,381.91 288.56,382.11 289.22,382.27 289.88,382.38 290.54,382.45 291.20,382.47 M265.50,400.31 266.16,400.30 266.82,400.28 267.48,400.24 268.14,400.18 268.79,400.11 269.45,400.02 270.11,399.92 270.77,399.81 271.43,399.68 272.09,399.54 272.75,399.39 273.41,399.23 274.07,399.05 274.73,398.88 275.38,398.69 276.04,398.50 276.70,398.30 277.36,398.10 278.02,397.90 278.68,397.70 279.34,397.50 280.00,397.30 280.66,397.10 281.32,396.91 281.97,396.72 282.63,396.54 283.29,396.37 283.95,396.21 284.61,396.06 285.27,395.92 285.93,395.79 286.59,395.68 287.25,395.57 287.91,395.49 288.56,395.42 289.22,395.36 289.88,395.32 290.54,395.29 291.20,395.29 M265.50,400.31 266.16,400.31 266.82,400.29 267.48,400.26 268.14,400.22 268.79,400.17 269.45,400.11 270.11,400.04 270.77,399.96 271.43,399.87 272.09,399.77 272.75,399.66 273.41,399.55 274.07,399.43 274.73,399.31 275.38,399.18 276.04,399.04 276.70,398.90 277.36,398.76 278.02,398.62 278.68,398.48 279.34,398.34 280.00,398.20 280.66,398.06 281.32,397.93 281.97,397.80 282.63,397.67 283.29,397.55 283.95,397.44 284.61,397.33 285.27,397.24 285.93,397.15 286.59,397.07 287.25,397.00 287.91,396.93 288.56,396.88 289.22,396.84 289.88,396.82 290.54,396.80 291.20,396.79 M265.50,400.31 266.16,400.31 266.82,400.31 267.48,400.31 268.14,400.31 268.79,400.31 269.45,400.31 270.11,400.31 270.77,400.31 271.43,400.31 272.09,400.31 272.75,400.31 273.41,400.31 274.07,400.31 274.73,400.31 275.38,400.31 276.04,400.31 276.70,400.31 277.36,400.31 278.02,400.31 278.68,400.31 279.34,400.31 280.00,400.31 280.66,400.31 281.32,400.31 281.97,400.31 282.63,400.31 283.29,400.31 283.95,400.31 284.61,400.31 285.27,400.31 285.93,400.31 286.59,400.31 287.25,400.31 287.91,400.31 288.56,400.31 289.22,400.31 289.88,400.31 290.54,400.31 291.20,400.31 M265.50,400.31 266.16,400.32 266.82,400.33 267.48,400.35 268.14,400.38 268.79,400.41 269.45,400.46 270.11,400.51 270.77,400.56 271.43,400.63 272.09,400.70 272.75,400.77 273.41,400.85 274.07,400.94 274.73,401.03 275.38,401.12 276.04,401.22 276.70,401.32 277.36,401.42 278.02,401.52 278.68,401.62 279.34,401.72 280.00,401.82 280.66,401.92 281.32,402.01 281.97,402.11 282.63,402.20 283.29,402.28 283.95,402.36 284.61,402.44 285.27,402.51 285.93,402.57 286.59,402.63 287.25,402.68 287.91,402.72 288.56,402.76 289.22,402.79 289.88,402.81 290.54,402.82 291.20,402.82 M265.50,400.31 266.16,400.32 266.82,400.35 267.48,400.40 268.14,400.47 268.79,400.55 269.45,400.66 270.11,400.78 270.77,400.92 271.43,401.07 272.09,401.24 272.75,401.42 273.41,401.61 274.07,401.82 274.73,402.03 275.38,402.26 276.04,402.49 276.70,402.72 277.36,402.96 278.02,403.20 278.68,403.45 279.34,403.69 280.00,403.93 280.66,404.17 281.32,404.40 281.97,404.62 282.63,404.83 283.29,405.04 283.95,405.23 284.61,405.41 285.27,405.58 285.93,405.74 286.59,405.87 287.25,406.00 287.91,406.10 288.56,406.19 289.22,406.25 289.88,406.30 290.54,406.33 291.20,406.34 M291.20,274.18 291.85,274.19 292.49,274.20 293.14,274.22 293.78,274.25 294.43,274.28 295.08,274.33 295.72,274.38 296.37,274.44 297.02,274.50 297.66,274.57 298.31,274.65 298.95,274.73 299.60,274.81 300.25,274.90 300.89,274.99 301.54,275.09 302.18,275.19 302.83,275.29 303.48,275.39 304.12,275.49 304.77,275.59 305.42,275.69 306.06,275.79 306.71,275.89 307.35,275.98 308.00,276.07 308.65,276.15 309.29,276.23 309.94,276.31 310.58,276.38 311.23,276.44 311.88,276.50 312.52,276.55 313.17,276.60 313.82,276.63 314.46,276.66 315.11,276.68 315.75,276.69 316.40,276.70 M291.20,278.71 291.85,278.70 292.49,278.69 293.14,278.68 293.78,278.65 294.43,278.63 295.08,278.59 295.72,278.55 296.37,278.50 297.02,278.45 297.66,278.40 298.31,278.34 298.95,278.27 299.60,278.20 300.25,278.13 300.89,278.06 301.54,277.98 302.18,277.90 302.83,277.82 303.48,277.74 304.12,277.66 304.77,277.58 305.42,277.50 306.06,277.42 306.71,277.34 307.35,277.27 308.00,277.20 308.65,277.13 309.29,277.07 309.94,277.01 310.58,276.95 311.23,276.90 311.88,276.85 312.52,276.81 313.17,276.78 313.82,276.75 314.46,276.73 315.11,276.71 315.75,276.70 316.40,276.70 M291.20,292.27 291.85,292.27 292.49,292.26 293.14,292.23 293.78,292.20 294.43,292.16 295.08,292.12 295.72,292.06 296.37,292.00 297.02,291.93 297.66,291.85 298.31,291.77 298.95,291.68 299.60,291.58 300.25,291.48 300.89,291.38 301.54,291.28 302.18,291.17 302.83,291.06 303.48,290.95 304.12,290.84 304.77,290.73 305.42,290.62 306.06,290.51 306.71,290.40 307.35,290.30 308.00,290.20 308.65,290.11 309.29,290.02 309.94,289.93 310.58,289.86 311.23,289.79 311.88,289.72 312.52,289.67 313.17,289.62 313.82,289.58 314.46,289.55 315.11,289.53 315.75,289.51 316.40,289.51 M291.20,295.54 291.85,295.53 292.49,295.50 293.14,295.45 293.78,295.38 294.43,295.30 295.08,295.19 295.72,295.07 296.37,294.94 297.02,294.78 297.66,294.61 298.31,294.43 298.95,294.24 299.60,294.03 300.25,293.82 300.89,293.59 301.54,293.36 302.18,293.13 302.83,292.89 303.48,292.65 304.12,292.40 304.77,292.16 305.42,291.92 306.06,291.69 306.71,291.46 307.35,291.23 308.00,291.02 308.65,290.81 309.29,290.62 309.94,290.44 310.58,290.27 311.23,290.11 311.88,289.98 312.52,289.86 313.17,289.75 313.82,289.67 314.46,289.60 315.11,289.55 315.75,289.52 316.40,289.51 M291.20,303.58 291.85,303.56 292.49,303.51 293.14,303.43 293.78,303.33 294.43,303.21 295.08,303.08 295.72,302.94 296.37,302.80 297.02,302.66 297.66,302.53 298.31,302.41 298.95,302.30 299.60,302.22 300.25,302.17 300.89,302.14 301.54,302.16 302.18,302.22 302.83,302.32 303.48,302.48 304.12,302.69 304.77,302.96 305.42,303.27 306.06,303.63 306.71,304.02 307.35,304.44 308.00,304.88 308.65,305.33 309.29,305.79 309.94,306.25 310.58,306.69 311.23,307.12 311.88,307.53 312.52,307.90 313.17,308.24 313.82,308.53 314.46,308.77 315.11,308.95 315.75,309.07 316.40,309.11 M291.20,306.85 291.85,306.85 292.49,306.86 293.14,306.88 293.78,306.90 294.43,306.94 295.08,306.98 295.72,307.02 296.37,307.07 297.02,307.13 297.66,307.19 298.31,307.26 298.95,307.33 299.60,307.41 300.25,307.49 300.89,307.58 301.54,307.66 302.18,307.75 302.83,307.84 303.48,307.93 304.12,308.02 304.77,308.11 305.42,308.20 306.06,308.29 306.71,308.38 307.35,308.46 308.00,308.54 308.65,308.62 309.29,308.69 309.94,308.76 310.58,308.82 311.23,308.88 311.88,308.93 312.52,308.98 313.17,309.02 313.82,309.05 314.46,309.07 315.11,309.09 315.75,309.10 316.40,309.11 M291.20,330.21 291.85,330.21 292.49,330.22 293.14,330.22 293.78,330.23 294.43,330.23 295.08,330.24 295.72,330.25 296.37,330.26 297.02,330.28 297.66,330.29 298.31,330.30 298.95,330.32 299.60,330.34 300.25,330.36 300.89,330.37 301.54,330.39 302.18,330.41 302.83,330.43 303.48,330.45 304.12,330.47 304.77,330.49 305.42,330.51 306.06,330.53 306.71,330.55 307.35,330.57 308.00,330.59 308.65,330.61 309.29,330.62 309.94,330.64 310.58,330.65 311.23,330.66 311.88,330.68 312.52,330.69 313.17,330.69 313.82,330.70 314.46,330.71 315.11,330.71 315.75,330.71 316.40,330.71 M291.20,331.47 291.85,331.47 292.49,331.46 293.14,331.46 293.78,331.45 294.43,331.44 295.08,331.43 295.72,331.41 296.37,331.39 297.02,331.37 297.66,331.35 298.31,331.33 298.95,331.31 299.60,331.28 300.25,331.25 300.89,331.23 301.54,331.20 302.18,331.17 302.83,331.14 303.48,331.11 304.12,331.08 304.77,331.05 305.42,331.02 306.06,330.99 306.71,330.96 307.35,330.93 308.00,330.90 308.65,330.88 309.29,330.85 309.94,330.83 310.58,330.81 311.23,330.79 311.88,330.77 312.52,330.76 313.17,330.75 313.82,330.73 314.46,330.73 315.11,330.72 315.75,330.72 316.40,330.71 M291.20,331.97 291.85,331.98 292.49,332.00 293.14,332.04 293.78,332.09 294.43,332.15 295.08,332.23 295.72,332.32 296.37,332.42 297.02,332.54 297.66,332.67 298.31,332.80 298.95,332.95 299.60,333.10 300.25,333.26 300.89,333.43 301.54,333.60 302.18,333.78 302.83,333.96 303.48,334.14 304.12,334.32 304.77,334.51 305.42,334.68 306.06,334.86 306.71,335.03 307.35,335.20 308.00,335.36 308.65,335.52 309.29,335.66 309.94,335.80 310.58,335.93 311.23,336.04 311.88,336.14 312.52,336.23 313.17,336.31 313.82,336.38 314.46,336.43 315.11,336.46 315.75,336.49 316.40,336.49 M291.20,335.49 291.85,335.49 292.49,335.50 293.14,335.50 293.78,335.51 294.43,335.53 295.08,335.55 295.72,335.57 296.37,335.59 297.02,335.62 297.66,335.64 298.31,335.67 298.95,335.71 299.60,335.74 300.25,335.78 300.89,335.81 301.54,335.85 302.18,335.89 302.83,335.93 303.48,335.97 304.12,336.01 304.77,336.05 305.42,336.09 306.06,336.13 306.71,336.17 307.35,336.21 308.00,336.24 308.65,336.28 309.29,336.31 309.94,336.34 310.58,336.37 311.23,336.39 311.88,336.42 312.52,336.44 313.17,336.45 313.82,336.47 314.46,336.48 315.11,336.49 315.75,336.49 316.40,336.49 M291.20,338.75 291.85,338.75 292.49,338.74 293.14,338.72 293.78,338.70 294.43,338.66 295.08,338.63 295.72,338.58 296.37,338.53 297.02,338.47 297.66,338.41 298.31,338.34 298.95,338.27 299.60,338.19 300.25,338.11 300.89,338.03 301.54,337.94 302.18,337.85 302.83,337.76 303.48,337.67 304.12,337.58 304.77,337.49 305.42,337.40 306.06,337.31 306.71,337.22 307.35,337.14 308.00,337.06 308.65,336.98 309.29,336.91 309.94,336.84 310.58,336.78 311.23,336.72 311.88,336.67 312.52,336.62 313.17,336.58 313.82,336.55 314.46,336.53 315.11,336.51 315.75,336.50 316.40,336.49 M291.20,340.76 291.85,340.76 292.49,340.73 293.14,340.70 293.78,340.66 294.43,340.61 295.08,340.56 295.72,340.52 296.37,340.48 297.02,340.45 297.66,340.43 298.31,340.43 298.95,340.45 299.60,340.49 300.25,340.55 300.89,340.64 301.54,340.77 302.18,340.93 302.83,341.14 303.48,341.38 304.12,341.67 304.77,342.00 305.42,342.38 306.06,342.78 306.71,343.21 307.35,343.66 308.00,344.12 308.65,344.58 309.29,345.05 309.94,345.50 310.58,345.95 311.23,346.38 311.88,346.77 312.52,347.14 313.17,347.47 313.82,347.75 314.46,347.98 315.11,348.16 315.75,348.26 316.40,348.30 M291.20,344.28 291.85,344.29 292.49,344.31 293.14,344.34 293.78,344.39 294.43,344.44 295.08,344.51 295.72,344.59 296.37,344.69 297.02,344.79 297.66,344.90 298.31,345.02 298.95,345.15 299.60,345.29 300.25,345.43 300.89,345.58 301.54,345.73 302.18,345.89 302.83,346.05 303.48,346.21 304.12,346.37 304.77,346.53 305.42,346.69 306.06,346.85 306.71,347.01 307.35,347.15 308.00,347.30 308.65,347.43 309.29,347.56 309.94,347.68 310.58,347.80 311.23,347.90 311.88,347.99 312.52,348.07 313.17,348.14 313.82,348.20 314.46,348.24 315.11,348.28 315.75,348.30 316.40,348.30 M291.20,352.57 291.85,352.57 292.49,352.55 293.14,352.51 293.78,352.46 294.43,352.40 295.08,352.33 295.72,352.24 296.37,352.15 297.02,352.04 297.66,351.92 298.31,351.79 298.95,351.65 299.60,351.51 300.25,351.35 300.89,351.20 301.54,351.03 302.18,350.87 302.83,350.70 303.48,350.52 304.12,350.35 304.77,350.18 305.42,350.01 306.06,349.84 306.71,349.68 307.35,349.52 308.00,349.37 308.65,349.22 309.29,349.09 309.94,348.96 310.58,348.84 311.23,348.73 311.88,348.63 312.52,348.55 313.17,348.47 313.82,348.41 314.46,348.36 315.11,348.33 315.75,348.31 316.40,348.30 M291.20,364.38 291.85,364.38 292.49,364.38 293.14,364.39 293.78,364.40 294.43,364.42 295.08,364.45 295.72,364.49 296.37,364.54 297.02,364.60 297.66,364.69 298.31,364.79 298.95,364.91 299.60,365.05 300.25,365.22 300.89,365.41 301.54,365.63 302.18,365.88 302.83,366.16 303.48,366.47 304.12,366.82 304.77,367.20 305.42,367.61 306.06,368.04 306.71,368.49 307.35,368.94 308.00,369.41 308.65,369.87 309.29,370.33 309.94,370.77 310.58,371.20 311.23,371.61 311.88,371.99 312.52,372.34 313.17,372.65 313.82,372.92 314.46,373.13 315.11,373.29 315.75,373.39 316.40,373.43 M291.20,369.41 291.85,369.41 292.49,369.43 293.14,369.47 293.78,369.51 294.43,369.57 295.08,369.64 295.72,369.72 296.37,369.81 297.02,369.91 297.66,370.03 298.31,370.15 298.95,370.28 299.60,370.41 300.25,370.56 300.89,370.70 301.54,370.86 302.18,371.02 302.83,371.18 303.48,371.34 304.12,371.50 304.77,371.66 305.42,371.82 306.06,371.98 306.71,372.13 307.35,372.28 308.00,372.42 308.65,372.56 309.29,372.69 309.94,372.81 310.58,372.92 311.23,373.02 311.88,373.12 312.52,373.20 313.17,373.27 313.82,373.32 314.46,373.37 315.11,373.40 315.75,373.42 316.40,373.43 M291.20,372.92 291.85,372.93 292.49,372.93 293.14,372.93 293.78,372.94 294.43,372.95 295.08,372.95 295.72,372.96 296.37,372.98 297.02,372.99 297.66,373.00 298.31,373.02 298.95,373.03 299.60,373.05 300.25,373.07 300.89,373.09 301.54,373.11 302.18,373.13 302.83,373.15 303.48,373.17 304.12,373.19 304.77,373.21 305.42,373.23 306.06,373.25 306.71,373.27 307.35,373.28 308.00,373.30 308.65,373.32 309.29,373.34 309.94,373.35 310.58,373.36 311.23,373.38 311.88,373.39 312.52,373.40 313.17,373.41 313.82,373.41 314.46,373.42 315.11,373.42 315.75,373.43 316.40,373.43 M291.20,382.47 291.85,382.46 292.49,382.41 293.14,382.34 293.78,382.24 294.43,382.11 295.08,381.95 295.72,381.77 296.37,381.57 297.02,381.34 297.66,381.08 298.31,380.81 298.95,380.52 299.60,380.21 300.25,379.89 300.89,379.55 301.54,379.21 302.18,378.85 302.83,378.50 303.48,378.13 304.12,377.77 304.77,377.40 305.42,377.05 306.06,376.69 306.71,376.35 307.35,376.01 308.00,375.69 308.65,375.38 309.29,375.09 309.94,374.82 310.58,374.56 311.23,374.33 311.88,374.13 312.52,373.95 313.17,373.79 313.82,373.66 314.46,373.56 315.11,373.49 315.75,373.44 316.40,373.43 M291.20,395.29 291.85,395.30 292.49,395.33 293.14,395.38 293.78,395.45 294.43,395.54 295.08,395.65 295.72,395.77 296.37,395.92 297.02,396.08 297.66,396.25 298.31,396.44 298.95,396.64 299.60,396.86 300.25,397.08 300.89,397.31 301.54,397.55 302.18,397.80 302.83,398.05 303.48,398.30 304.12,398.55 304.77,398.81 305.42,399.06 306.06,399.30 306.71,399.54 307.35,399.77 308.00,400.00 308.65,400.21 309.29,400.41 309.94,400.60 310.58,400.78 311.23,400.94 311.88,401.08 312.52,401.21 313.17,401.32 313.82,401.41 314.46,401.48 315.11,401.53 315.75,401.56 316.40,401.57 M291.20,396.79 291.85,396.80 292.49,396.82 293.14,396.86 293.78,396.92 294.43,396.98 295.08,397.07 295.72,397.16 296.37,397.27 297.02,397.39 297.66,397.53 298.31,397.67 298.95,397.82 299.60,397.99 300.25,398.16 300.89,398.33 301.54,398.52 302.18,398.70 302.83,398.89 303.48,399.08 304.12,399.28 304.77,399.47 305.42,399.66 306.06,399.84 306.71,400.03 307.35,400.20 308.00,400.37 308.65,400.54 309.29,400.69 309.94,400.83 310.58,400.97 311.23,401.09 311.88,401.20 312.52,401.29 313.17,401.38 313.82,401.44 314.46,401.50 315.11,401.54 315.75,401.56 316.40,401.57 M291.20,400.31 291.85,400.31 292.49,400.32 293.14,400.33 293.78,400.34 294.43,400.36 295.08,400.38 295.72,400.41 296.37,400.44 297.02,400.47 297.66,400.50 298.31,400.54 298.95,400.58 299.60,400.63 300.25,400.67 300.89,400.72 301.54,400.76 302.18,400.81 302.83,400.86 303.48,400.91 304.12,400.96 304.77,401.02 305.42,401.07 306.06,401.11 306.71,401.16 307.35,401.21 308.00,401.25 308.65,401.30 309.29,401.34 309.94,401.37 310.58,401.41 311.23,401.44 311.88,401.47 312.52,401.50 313.17,401.52 313.82,401.54 314.46,401.55 315.11,401.56 315.75,401.57 316.40,401.57 M291.20,402.82 291.85,402.82 292.49,402.82 293.14,402.81 293.78,402.79 294.43,402.77 295.08,402.75 295.72,402.73 296.37,402.70 297.02,402.67 297.66,402.63 298.31,402.59 298.95,402.55 299.60,402.51 300.25,402.46 300.89,402.42 301.54,402.37 302.18,402.32 302.83,402.27 303.48,402.22 304.12,402.17 304.77,402.12 305.42,402.07 306.06,402.02 306.71,401.97 307.35,401.93 308.00,401.88 308.65,401.84 309.29,401.80 309.94,401.76 310.58,401.73 311.23,401.69 311.88,401.66 312.52,401.64 313.17,401.62 313.82,401.60 314.46,401.59 315.11,401.58 315.75,401.57 316.40,401.57 M291.20,406.34 291.85,406.33 292.49,406.31 293.14,406.27 293.78,406.22 294.43,406.15 295.08,406.07 295.72,405.97 296.37,405.86 297.02,405.74 297.66,405.61 298.31,405.46 298.95,405.31 299.60,405.15 300.25,404.98 300.89,404.80 301.54,404.62 302.18,404.43 302.83,404.24 303.48,404.05 304.12,403.86 304.77,403.67 305.42,403.48 306.06,403.29 306.71,403.11 307.35,402.93 308.00,402.76 308.65,402.60 309.29,402.44 309.94,402.30 310.58,402.17 311.23,402.05 311.88,401.94 312.52,401.84 313.17,401.76 313.82,401.69 314.46,401.64 315.11,401.60 315.75,401.58 316.40,401.57" fill="none" stroke="#ff0000" stroke-width="1.55" stroke-linejoin="round"/>
<line x1="116.7" y1="267.4" x2="116.7" y2="468.4" stroke="#0000ff" stroke-width="1.5"/>
<line x1="137.9" y1="267.4" x2="137.9" y2="468.4" stroke="#0000ff" stroke-width="1.5"/>
<line x1="203.8" y1="267.4" x2="203.8" y2="468.4" stroke="#0000ff" stroke-width="1.5"/>
<line x1="265.5" y1="267.4" x2="265.5" y2="468.4" stroke="#0000ff" stroke-width="1.5"/>
<line x1="291.2" y1="267.4" x2="291.2" y2="468.4" stroke="#0000ff" stroke-width="1.5"/>
<line x1="65.7" y1="443.27" x2="316.4" y2="443.27" stroke="#1b1b1b" stroke-width="1.6" stroke-dasharray="7.0 6.9"/>
<rect x="65.70" y="267.40" width="250.70" height="201.00" fill="none" stroke="#1b1b1b" stroke-width="1.6"/>
<line x1="61.90" y1="443.27" x2="65.70" y2="443.27" stroke="#1b1b1b" stroke-width="1.6"/>
<line x1="61.90" y1="393.02" x2="65.70" y2="393.02" stroke="#1b1b1b" stroke-width="1.6"/>
<line x1="61.90" y1="342.77" x2="65.70" y2="342.77" stroke="#1b1b1b" stroke-width="1.6"/>
<line x1="61.90" y1="292.52" x2="65.70" y2="292.52" stroke="#1b1b1b" stroke-width="1.6"/>
<line x1="63.50" y1="468.40" x2="65.70" y2="468.40" stroke="#1b1b1b" stroke-width="1.6"/>
<line x1="63.50" y1="418.15" x2="65.70" y2="418.15" stroke="#1b1b1b" stroke-width="1.6"/>
<line x1="63.50" y1="367.90" x2="65.70" y2="367.90" stroke="#1b1b1b" stroke-width="1.6"/>
<line x1="63.50" y1="317.65" x2="65.70" y2="317.65" stroke="#1b1b1b" stroke-width="1.6"/>
<line x1="63.50" y1="267.40" x2="65.70" y2="267.40" stroke="#1b1b1b" stroke-width="1.6"/>
<text transform="translate(59.00 448.17) scale(0.9 1)" text-anchor="end" font-family="'Liberation Serif', serif" font-size="16" fill="#111" stroke="#111" stroke-width="0.2">0</text>
<text transform="translate(59.00 397.92) scale(0.9 1)" text-anchor="end" font-family="'Liberation Serif', serif" font-size="16" fill="#111" stroke="#111" stroke-width="0.2">2</text>
<text transform="translate(59.00 347.67) scale(0.9 1)" text-anchor="end" font-family="'Liberation Serif', serif" font-size="16" fill="#111" stroke="#111" stroke-width="0.2">4</text>
<text transform="translate(59.00 297.42) scale(0.9 1)" text-anchor="end" font-family="'Liberation Serif', serif" font-size="16" fill="#111" stroke="#111" stroke-width="0.2">6</text>
<text x="65.50" y="482.10" text-anchor="middle" font-family="'Liberation Serif', serif" font-size="17" fill="#111" stroke="#111" stroke-width="0.2">Γ</text>
<text x="115.30" y="482.10" text-anchor="middle" font-family="'Liberation Serif', serif" font-size="17" fill="#111" stroke="#111" stroke-width="0.2">X</text>
<text x="140.80" y="482.10" text-anchor="middle" font-family="'Liberation Serif', serif" font-size="17" fill="#111" stroke="#111" stroke-width="0.2">U</text>
<text x="203.50" y="482.10" text-anchor="middle" font-family="'Liberation Serif', serif" font-size="17" fill="#111" stroke="#111" stroke-width="0.2">Γ</text>
<text x="269.50" y="482.10" text-anchor="middle" font-family="'Liberation Serif', serif" font-size="17" fill="#111" stroke="#111" stroke-width="0.2">L</text>
<text x="291.50" y="482.10" text-anchor="middle" font-family="'Liberation Serif', serif" font-size="17" fill="#111" stroke="#111" stroke-width="0.2">W</text>
<text x="313.80" y="482.10" text-anchor="middle" font-family="'Liberation Serif', serif" font-size="17" fill="#111" stroke="#111" stroke-width="0.2">X</text>
<text x="191.40" y="261.30" text-anchor="middle" font-family="'Liberation Serif', serif" font-size="17" fill="#111" stroke="#111" stroke-width="0.2">PtTiPb</text>
<text x="42.60" y="425.50" text-anchor="start" font-family="'Liberation Serif', serif" font-size="17" fill="#111" stroke="#111" stroke-width="0.2" transform="rotate(-90 42.60 425.50)">Frequency (THz)</text>
<clipPath id="ctr"><rect x="386.7" y="16.92" width="245.8" height="197.38"/></clipPath><g clip-path="url(#ctr)">
<path d="M399.64,214.50 412.57,214.24 420.34,213.45 433.27,211.73 442.07,208.57 446.47,204.75 448.28,198.96 450.09,189.47 452.42,183.55 453.71,167.61 456.04,175.91 458.11,164.71 459.15,162.47 461.99,122.43 464.58,171.16 467.68,156.41 468.72,153.91 469.50,134.15 470.79,133.76 472.34,143.37 473.38,119.13 474.67,148.77 476.48,147.32 478.03,150.48 479.59,144.03 483.47,171.82 484.76,158.78 487.09,175.25 490.71,147.06 493.30,171.82 497.18,87.52 500.54,175.25 503.39,192.37 505.20,205.54 507.79,211.21 510.38,213.45 516.07,214.24 518.66,214.24 522.54,212.66 524.87,211.60 530.04,210.42 531.59,209.23 533.15,205.67 534.96,199.48 536.77,198.69 540.13,193.16 541.94,188.16 544.53,173.40 546.60,179.73 548.41,178.94 549.19,180.25 551.00,177.62 553.84,213.18 557.47,214.50 575.58,214.50 577.13,210.55 578.42,203.04 581.53,200.54 584.63,203.04 588.00,206.47 591.10,208.57 594.72,206.47 596.79,208.57 599.90,206.47 602.75,209.23 608.95,210.94 614.39,211.87 616.98,212.52 619.05,213.84 622.15,214.50 632.50,214.50" fill="none" stroke="#ff0000" stroke-width="1.7" stroke-linejoin="round"/>
<path d="M399.64,214.50 443.62,214.50 450.09,213.18 453.45,209.63 455.78,210.55 459.15,208.57 462.25,206.99 464.84,211.47 467.43,210.81 470.27,209.63 471.57,211.47 474.93,212.79 482.43,213.45 490.19,212.92 495.89,211.87 499.77,213.84 503.13,214.50 517.36,214.50 518.40,213.84 518.91,207.78 519.69,207.91 523.57,204.75 526.94,203.44 528.75,202.65 531.85,204.75 533.66,194.74 535.47,188.02 538.06,194.22 540.65,194.22 543.24,195.27 546.60,205.67 549.70,209.89 553.84,213.18 554.88,214.50 575.06,214.50 575.84,213.45 577.13,188.95 578.17,149.96 578.68,116.63 581.53,107.54 584.12,120.06 585.93,130.07 586.70,131.52 587.74,128.36 589.03,141.79 589.81,143.37 591.36,151.01 592.40,135.47 593.69,101.62 595.24,94.11 596.79,123.35 597.57,120.98 600.42,84.89 601.97,135.47 603.00,153.51 604.56,140.87 605.59,143.37 607.40,150.22 608.95,165.50 609.99,157.86 611.02,163.13 612.84,160.23 614.13,96.61 616.46,84.89 617.75,135.47 618.27,158.52 619.05,188.95 619.82,213.45 620.86,214.50 632.50,214.50" fill="none" stroke="#0000ff" stroke-width="1.7" stroke-linejoin="round"/>
<path d="M399.64,214.50 433.27,214.37 441.03,213.84 445.43,212.13 447.50,210.81 451.38,206.33 453.45,203.44 455.78,205.15 458.63,201.99 462.25,194.61 464.84,204.75 467.43,201.33 470.01,198.56 470.79,198.03 472.60,196.85 473.38,197.38 474.93,202.91 477.26,201.59 479.33,201.20 483.21,206.47 484.50,205.28 487.35,208.18 490.71,205.15 493.30,209.36 496.92,204.23 500.03,211.73 503.39,213.84 508.31,214.50 517.36,214.50 518.40,213.84 518.91,213.05 519.43,195.40 520.98,189.74 524.35,183.68 526.42,174.98 528.49,171.43 530.30,171.69 532.63,164.05 533.40,141.13 534.18,118.34 535.73,98.19 536.25,97.27 537.28,101.22 538.84,104.65 540.65,88.18 544.27,23.90 546.60,75.14 547.38,66.97 548.15,62.10 548.93,65.66 550.74,43.00 551.77,89.37 552.81,148.64 553.33,181.57 553.84,213.18 554.88,214.50 576.87,214.50 578.17,213.18 581.53,208.97 586.96,206.99 591.36,207.91 593.95,201.85 594.98,203.96 596.28,201.33 597.57,204.62 600.42,198.56 601.45,205.28 604.04,205.28 608.95,208.97 611.80,205.28 614.39,201.85 615.94,195.40 616.98,201.33 618.53,213.45 620.86,214.50 632.50,214.50" fill="none" stroke="#111" stroke-width="1.7" stroke-linejoin="round"/>
</g>
<rect x="386.70" y="16.92" width="245.80" height="197.58" fill="none" stroke="#1b1b1b" stroke-width="1.6"/>
<line x1="382.90" y1="214.50" x2="386.70" y2="214.50" stroke="#1b1b1b" stroke-width="1.6"/>
<line x1="382.90" y1="188.16" x2="386.70" y2="188.16" stroke="#1b1b1b" stroke-width="1.6"/>
<line x1="382.90" y1="161.81" x2="386.70" y2="161.81" stroke="#1b1b1b" stroke-width="1.6"/>
<line x1="382.90" y1="135.47" x2="386.70" y2="135.47" stroke="#1b1b1b" stroke-width="1.6"/>
<line x1="382.90" y1="109.12" x2="386.70" y2="109.12" stroke="#1b1b1b" stroke-width="1.6"/>
<line x1="382.90" y1="82.78" x2="386.70" y2="82.78" stroke="#1b1b1b" stroke-width="1.6"/>
<line x1="382.90" y1="56.44" x2="386.70" y2="56.44" stroke="#1b1b1b" stroke-width="1.6"/>
<line x1="382.90" y1="30.09" x2="386.70" y2="30.09" stroke="#1b1b1b" stroke-width="1.6"/>
<line x1="384.50" y1="201.33" x2="386.70" y2="201.33" stroke="#1b1b1b" stroke-width="1.6"/>
<line x1="384.50" y1="174.98" x2="386.70" y2="174.98" stroke="#1b1b1b" stroke-width="1.6"/>
<line x1="384.50" y1="148.64" x2="386.70" y2="148.64" stroke="#1b1b1b" stroke-width="1.6"/>
<line x1="384.50" y1="122.30" x2="386.70" y2="122.30" stroke="#1b1b1b" stroke-width="1.6"/>
<line x1="384.50" y1="95.95" x2="386.70" y2="95.95" stroke="#1b1b1b" stroke-width="1.6"/>
<line x1="384.50" y1="69.61" x2="386.70" y2="69.61" stroke="#1b1b1b" stroke-width="1.6"/>
<line x1="384.50" y1="43.26" x2="386.70" y2="43.26" stroke="#1b1b1b" stroke-width="1.6"/>
<line x1="384.50" y1="16.92" x2="386.70" y2="16.92" stroke="#1b1b1b" stroke-width="1.6"/>
<text transform="translate(380.20 219.40) scale(0.9 1)" text-anchor="end" font-family="'Liberation Serif', serif" font-size="16" fill="#111" stroke="#111" stroke-width="0.2">0</text>
<text transform="translate(380.20 193.06) scale(0.9 1)" text-anchor="end" font-family="'Liberation Serif', serif" font-size="16" fill="#111" stroke="#111" stroke-width="0.2">2</text>
<text transform="translate(380.20 166.71) scale(0.9 1)" text-anchor="end" font-family="'Liberation Serif', serif" font-size="16" fill="#111" stroke="#111" stroke-width="0.2">4</text>
<text transform="translate(380.20 140.37) scale(0.9 1)" text-anchor="end" font-family="'Liberation Serif', serif" font-size="16" fill="#111" stroke="#111" stroke-width="0.2">6</text>
<text transform="translate(380.20 114.02) scale(0.9 1)" text-anchor="end" font-family="'Liberation Serif', serif" font-size="16" fill="#111" stroke="#111" stroke-width="0.2">8</text>
<text transform="translate(380.20 87.68) scale(0.9 1)" text-anchor="end" font-family="'Liberation Serif', serif" font-size="16" fill="#111" stroke="#111" stroke-width="0.2">10</text>
<text transform="translate(380.20 61.34) scale(0.9 1)" text-anchor="end" font-family="'Liberation Serif', serif" font-size="16" fill="#111" stroke="#111" stroke-width="0.2">12</text>
<text transform="translate(380.20 34.99) scale(0.9 1)" text-anchor="end" font-family="'Liberation Serif', serif" font-size="16" fill="#111" stroke="#111" stroke-width="0.2">14</text>
<line x1="399.64" y1="214.50" x2="399.64" y2="218.50" stroke="#1b1b1b" stroke-width="1.6"/>
<line x1="451.38" y1="214.50" x2="451.38" y2="218.50" stroke="#1b1b1b" stroke-width="1.6"/>
<line x1="503.13" y1="214.50" x2="503.13" y2="218.50" stroke="#1b1b1b" stroke-width="1.6"/>
<line x1="554.88" y1="214.50" x2="554.88" y2="218.50" stroke="#1b1b1b" stroke-width="1.6"/>
<line x1="606.63" y1="214.50" x2="606.63" y2="218.50" stroke="#1b1b1b" stroke-width="1.6"/>
<line x1="425.51" y1="214.50" x2="425.51" y2="216.50" stroke="#1b1b1b" stroke-width="1.6"/>
<line x1="477.26" y1="214.50" x2="477.26" y2="216.50" stroke="#1b1b1b" stroke-width="1.6"/>
<line x1="529.01" y1="214.50" x2="529.01" y2="216.50" stroke="#1b1b1b" stroke-width="1.6"/>
<line x1="580.75" y1="214.50" x2="580.75" y2="216.50" stroke="#1b1b1b" stroke-width="1.6"/>
<line x1="632.50" y1="214.50" x2="632.50" y2="216.50" stroke="#1b1b1b" stroke-width="1.6"/>
<text transform="translate(399.64 232.60) scale(0.9 1)" text-anchor="middle" font-family="'Liberation Serif', serif" font-size="16" fill="#111" stroke="#111" stroke-width="0.2">0</text>
<text transform="translate(451.38 232.60) scale(0.9 1)" text-anchor="middle" font-family="'Liberation Serif', serif" font-size="16" fill="#111" stroke="#111" stroke-width="0.2">2</text>
<text transform="translate(503.13 232.60) scale(0.9 1)" text-anchor="middle" font-family="'Liberation Serif', serif" font-size="16" fill="#111" stroke="#111" stroke-width="0.2">4</text>
<text transform="translate(554.88 232.60) scale(0.9 1)" text-anchor="middle" font-family="'Liberation Serif', serif" font-size="16" fill="#111" stroke="#111" stroke-width="0.2">6</text>
<text transform="translate(606.63 232.60) scale(0.9 1)" text-anchor="middle" font-family="'Liberation Serif', serif" font-size="16" fill="#111" stroke="#111" stroke-width="0.2">8</text>
<text x="523.40" y="12.80" text-anchor="middle" font-family="'Liberation Serif', serif" font-size="17" fill="#111" stroke="#111" stroke-width="0.2">PtTiGe</text>
<text x="358.00" y="184.90" text-anchor="start" font-family="'Liberation Serif', serif" font-size="17" fill="#111" stroke="#111" stroke-width="0.2" transform="rotate(-90 358.00 184.90)">Partial Phonon DOS</text>
<rect x="395.8" y="28.3" width="51.6" height="50.3" fill="#fff" stroke="#1b1b1b" stroke-width="1.6"/>
<line x1="396.4" y1="36.9" x2="427.4" y2="36.9" stroke="#ff0000" stroke-width="1.6"/>
<text x="430.30" y="41.70" text-anchor="start" font-family="'Liberation Serif', serif" font-size="14" fill="#111" stroke="#111" stroke-width="0.2" transform="translate(430.30 41.70) scale(0.92 1) translate(-430.30 -41.70)">Pt</text>
<line x1="396.4" y1="53.5" x2="427.4" y2="53.5" stroke="#0000ff" stroke-width="1.6"/>
<text x="430.30" y="58.30" text-anchor="start" font-family="'Liberation Serif', serif" font-size="14" fill="#111" stroke="#111" stroke-width="0.2" transform="translate(430.30 58.30) scale(0.92 1) translate(-430.30 -58.30)">Ti</text>
<line x1="396.4" y1="69.3" x2="427.4" y2="69.3" stroke="#111" stroke-width="1.6"/>
<text x="430.30" y="74.10" text-anchor="start" font-family="'Liberation Serif', serif" font-size="14" fill="#111" stroke="#111" stroke-width="0.2" transform="translate(430.30 74.10) scale(0.92 1) translate(-430.30 -74.10)">Ge</text>
<clipPath id="cbr"><rect x="387.8" y="267.4" width="246.2" height="200.8"/></clipPath><g clip-path="url(#cbr)">
<path d="M403.19,468.40 415.50,468.15 425.04,466.77 433.96,463.12 438.89,454.33 442.58,443.90 446.27,429.46 449.35,398.05 452.43,372.30 454.27,364.63 455.81,380.46 457.04,404.33 457.66,416.52 458.89,408.10 460.43,408.73 462.89,425.69 466.58,464.63 469.35,463.38 472.43,462.75 475.20,454.33 478.59,453.32 483.20,449.93 485.66,454.58 488.13,455.59 491.51,442.52 493.97,452.07 499.51,461.24 504.75,467.14 506.28,468.40 507.82,458.35 509.67,421.79 512.44,408.73 514.90,414.38 517.98,431.21 519.52,406.97 520.44,411.87 521.67,396.67 523.21,424.43 524.44,433.22 526.29,434.48 528.13,436.99 529.37,435.74 530.60,361.62 533.06,305.09 534.90,280.84 536.44,311.37 538.29,337.12 539.83,347.80 541.37,350.94 541.98,380.46 543.83,467.14 546.29,468.40 564.45,468.40 566.29,464.63 568.14,458.60 570.91,457.34 573.68,460.86 578.61,462.24 583.22,465.26 586.91,463.63 589.38,464.63 593.07,466.01 600.15,466.01 604.76,465.26 606.92,466.52 608.76,468.40 634.00,468.40" fill="none" stroke="#ff0000" stroke-width="1.7" stroke-linejoin="round"/>
<path d="M403.19,468.40 415.50,468.15 425.04,466.77 433.96,463.12 438.89,454.33 442.58,443.90 446.27,427.70 448.43,401.82 451.20,361.62 452.43,360.61 454.27,353.96 455.50,362.88 458.27,395.91 459.20,394.28 460.43,393.65 462.89,424.43 466.58,464.63 472.43,462.37 474.59,451.31 477.36,450.56 480.43,447.55 483.51,438.75 485.36,438.25 487.20,441.52 489.05,412.50 490.59,387.25 493.67,406.97 495.51,427.45 498.59,449.93 503.21,467.39 506.28,468.40 510.59,457.34 514.29,449.93 516.44,451.44 520.13,438.75 521.67,419.03 524.13,445.28 526.29,442.02 529.37,448.93 531.83,388.00 534.60,317.65 534.90,299.81 537.06,336.49 539.83,374.81 542.60,441.01 543.83,467.14 546.29,468.40 565.68,468.40 569.37,464.51 575.53,464.00 580.14,464.63 583.22,465.26 586.30,459.23 588.76,461.49 593.07,457.97 594.61,462.12 598.61,462.75 600.76,465.26 603.23,461.49 604.76,460.86 606.61,457.34 608.76,460.86 610.30,467.14 615.54,468.40 634.00,468.40" fill="none" stroke="#111" stroke-width="1.7" stroke-linejoin="round"/>
<path d="M403.19,468.40 427.81,468.02 440.12,466.52 450.89,463.12 455.50,465.26 460.12,467.77 480.12,468.15 486.28,467.77 489.05,461.24 490.90,462.75 493.97,463.38 498.59,464.63 503.21,468.15 506.28,468.40 510.59,466.52 513.98,465.89 517.67,464.00 521.67,452.82 524.13,462.12 526.29,460.86 528.13,463.38 529.37,462.75 531.83,443.65 534.60,444.53 537.37,456.84 540.14,462.12 543.21,467.77 544.75,468.40 563.83,468.40 565.68,445.54 566.91,421.92 567.53,409.61 568.45,359.23 569.99,358.23 571.53,349.68 573.07,372.17 574.30,372.92 576.76,387.62 578.61,381.72 580.14,399.43 582.61,407.72 586.30,335.61 587.22,335.61 589.68,368.65 593.38,311.87 595.22,394.66 596.76,383.98 597.99,395.54 600.46,411.24 601.69,386.74 602.61,390.51 606.61,331.97 608.76,354.46 609.38,409.61 610.61,433.73 613.69,455.08 615.84,468.15 618.61,468.40 634.00,468.40" fill="none" stroke="#0000ff" stroke-width="1.7" stroke-linejoin="round"/>
</g>
<rect x="387.80" y="267.40" width="246.20" height="201.00" fill="none" stroke="#1b1b1b" stroke-width="1.6"/>
<line x1="384.00" y1="468.40" x2="387.80" y2="468.40" stroke="#1b1b1b" stroke-width="1.6"/>
<line x1="384.00" y1="443.27" x2="387.80" y2="443.27" stroke="#1b1b1b" stroke-width="1.6"/>
<line x1="384.00" y1="418.15" x2="387.80" y2="418.15" stroke="#1b1b1b" stroke-width="1.6"/>
<line x1="384.00" y1="393.02" x2="387.80" y2="393.02" stroke="#1b1b1b" stroke-width="1.6"/>
<line x1="384.00" y1="367.90" x2="387.80" y2="367.90" stroke="#1b1b1b" stroke-width="1.6"/>
<line x1="384.00" y1="342.77" x2="387.80" y2="342.77" stroke="#1b1b1b" stroke-width="1.6"/>
<line x1="384.00" y1="317.65" x2="387.80" y2="317.65" stroke="#1b1b1b" stroke-width="1.6"/>
<line x1="384.00" y1="292.52" x2="387.80" y2="292.52" stroke="#1b1b1b" stroke-width="1.6"/>
<line x1="384.00" y1="267.40" x2="387.80" y2="267.40" stroke="#1b1b1b" stroke-width="1.6"/>
<line x1="385.60" y1="455.84" x2="387.80" y2="455.84" stroke="#1b1b1b" stroke-width="1.6"/>
<line x1="385.60" y1="430.71" x2="387.80" y2="430.71" stroke="#1b1b1b" stroke-width="1.6"/>
<line x1="385.60" y1="405.59" x2="387.80" y2="405.59" stroke="#1b1b1b" stroke-width="1.6"/>
<line x1="385.60" y1="380.46" x2="387.80" y2="380.46" stroke="#1b1b1b" stroke-width="1.6"/>
<line x1="385.60" y1="355.34" x2="387.80" y2="355.34" stroke="#1b1b1b" stroke-width="1.6"/>
<line x1="385.60" y1="330.21" x2="387.80" y2="330.21" stroke="#1b1b1b" stroke-width="1.6"/>
<line x1="385.60" y1="305.09" x2="387.80" y2="305.09" stroke="#1b1b1b" stroke-width="1.6"/>
<line x1="385.60" y1="279.96" x2="387.80" y2="279.96" stroke="#1b1b1b" stroke-width="1.6"/>
<text transform="translate(381.60 473.30) scale(0.9 1)" text-anchor="end" font-family="'Liberation Serif', serif" font-size="16" fill="#111" stroke="#111" stroke-width="0.2">0</text>
<text transform="translate(381.60 448.17) scale(0.9 1)" text-anchor="end" font-family="'Liberation Serif', serif" font-size="16" fill="#111" stroke="#111" stroke-width="0.2">2</text>
<text transform="translate(381.60 423.05) scale(0.9 1)" text-anchor="end" font-family="'Liberation Serif', serif" font-size="16" fill="#111" stroke="#111" stroke-width="0.2">4</text>
<text transform="translate(381.60 397.92) scale(0.9 1)" text-anchor="end" font-family="'Liberation Serif', serif" font-size="16" fill="#111" stroke="#111" stroke-width="0.2">6</text>
<text transform="translate(381.60 372.80) scale(0.9 1)" text-anchor="end" font-family="'Liberation Serif', serif" font-size="16" fill="#111" stroke="#111" stroke-width="0.2">8</text>
<text transform="translate(381.60 347.67) scale(0.9 1)" text-anchor="end" font-family="'Liberation Serif', serif" font-size="16" fill="#111" stroke="#111" stroke-width="0.2">10</text>
<text transform="translate(381.60 322.55) scale(0.9 1)" text-anchor="end" font-family="'Liberation Serif', serif" font-size="16" fill="#111" stroke="#111" stroke-width="0.2">12</text>
<text transform="translate(381.60 297.42) scale(0.9 1)" text-anchor="end" font-family="'Liberation Serif', serif" font-size="16" fill="#111" stroke="#111" stroke-width="0.2">14</text>
<text transform="translate(381.60 272.30) scale(0.9 1)" text-anchor="end" font-family="'Liberation Serif', serif" font-size="16" fill="#111" stroke="#111" stroke-width="0.2">16</text>
<line x1="403.19" y1="468.40" x2="403.19" y2="472.40" stroke="#1b1b1b" stroke-width="1.6"/>
<line x1="464.74" y1="468.40" x2="464.74" y2="472.40" stroke="#1b1b1b" stroke-width="1.6"/>
<line x1="526.29" y1="468.40" x2="526.29" y2="472.40" stroke="#1b1b1b" stroke-width="1.6"/>
<line x1="587.84" y1="468.40" x2="587.84" y2="472.40" stroke="#1b1b1b" stroke-width="1.6"/>
<line x1="433.96" y1="468.40" x2="433.96" y2="470.40" stroke="#1b1b1b" stroke-width="1.6"/>
<line x1="495.51" y1="468.40" x2="495.51" y2="470.40" stroke="#1b1b1b" stroke-width="1.6"/>
<line x1="557.06" y1="468.40" x2="557.06" y2="470.40" stroke="#1b1b1b" stroke-width="1.6"/>
<line x1="618.61" y1="468.40" x2="618.61" y2="470.40" stroke="#1b1b1b" stroke-width="1.6"/>
<text transform="translate(403.19 486.30) scale(0.9 1)" text-anchor="middle" font-family="'Liberation Serif', serif" font-size="16" fill="#111" stroke="#111" stroke-width="0.2">0</text>
<text transform="translate(464.74 486.30) scale(0.9 1)" text-anchor="middle" font-family="'Liberation Serif', serif" font-size="16" fill="#111" stroke="#111" stroke-width="0.2">2</text>
<text transform="translate(526.29 486.30) scale(0.9 1)" text-anchor="middle" font-family="'Liberation Serif', serif" font-size="16" fill="#111" stroke="#111" stroke-width="0.2">4</text>
<text transform="translate(587.84 486.30) scale(0.9 1)" text-anchor="middle" font-family="'Liberation Serif', serif" font-size="16" fill="#111" stroke="#111" stroke-width="0.2">6</text>
<text x="513.20" y="261.30" text-anchor="middle" font-family="'Liberation Serif', serif" font-size="17" fill="#111" stroke="#111" stroke-width="0.2">PtTiPb</text>
<text x="499.50" y="502.80" text-anchor="middle" font-family="'Liberation Serif', serif" font-size="17" fill="#111" stroke="#111" stroke-width="0.2">Frequency (THz)</text>
<text x="358.50" y="444.30" text-anchor="start" font-family="'Liberation Serif', serif" font-size="17" fill="#111" stroke="#111" stroke-width="0.2" transform="rotate(-90 358.50 444.30)">Partial Phonon DOS</text>
<rect x="400.4" y="280" width="49.9" height="51.2" fill="#fff" stroke="#1b1b1b" stroke-width="1.6"/>
<line x1="401.4" y1="289.2" x2="432.1" y2="289.2" stroke="#ff0000" stroke-width="1.6"/>
<text x="435.30" y="294.00" text-anchor="start" font-family="'Liberation Serif', serif" font-size="14" fill="#111" stroke="#111" stroke-width="0.2" transform="translate(435.30 294.00) scale(0.92 1) translate(-435.30 -294.00)">Pt</text>
<line x1="401.4" y1="305.6" x2="432.1" y2="305.6" stroke="#0000ff" stroke-width="1.6"/>
<text x="435.30" y="310.40" text-anchor="start" font-family="'Liberation Serif', serif" font-size="14" fill="#111" stroke="#111" stroke-width="0.2" transform="translate(435.30 310.40) scale(0.92 1) translate(-435.30 -310.40)">Ti</text>
<line x1="401.4" y1="321.9" x2="432.1" y2="321.9" stroke="#111" stroke-width="1.6"/>
<text x="435.30" y="326.70" text-anchor="start" font-family="'Liberation Serif', serif" font-size="14" fill="#111" stroke="#111" stroke-width="0.2" transform="translate(435.30 326.70) scale(0.92 1) translate(-435.30 -326.70)">Pb</text>
</svg>
</body></html>
